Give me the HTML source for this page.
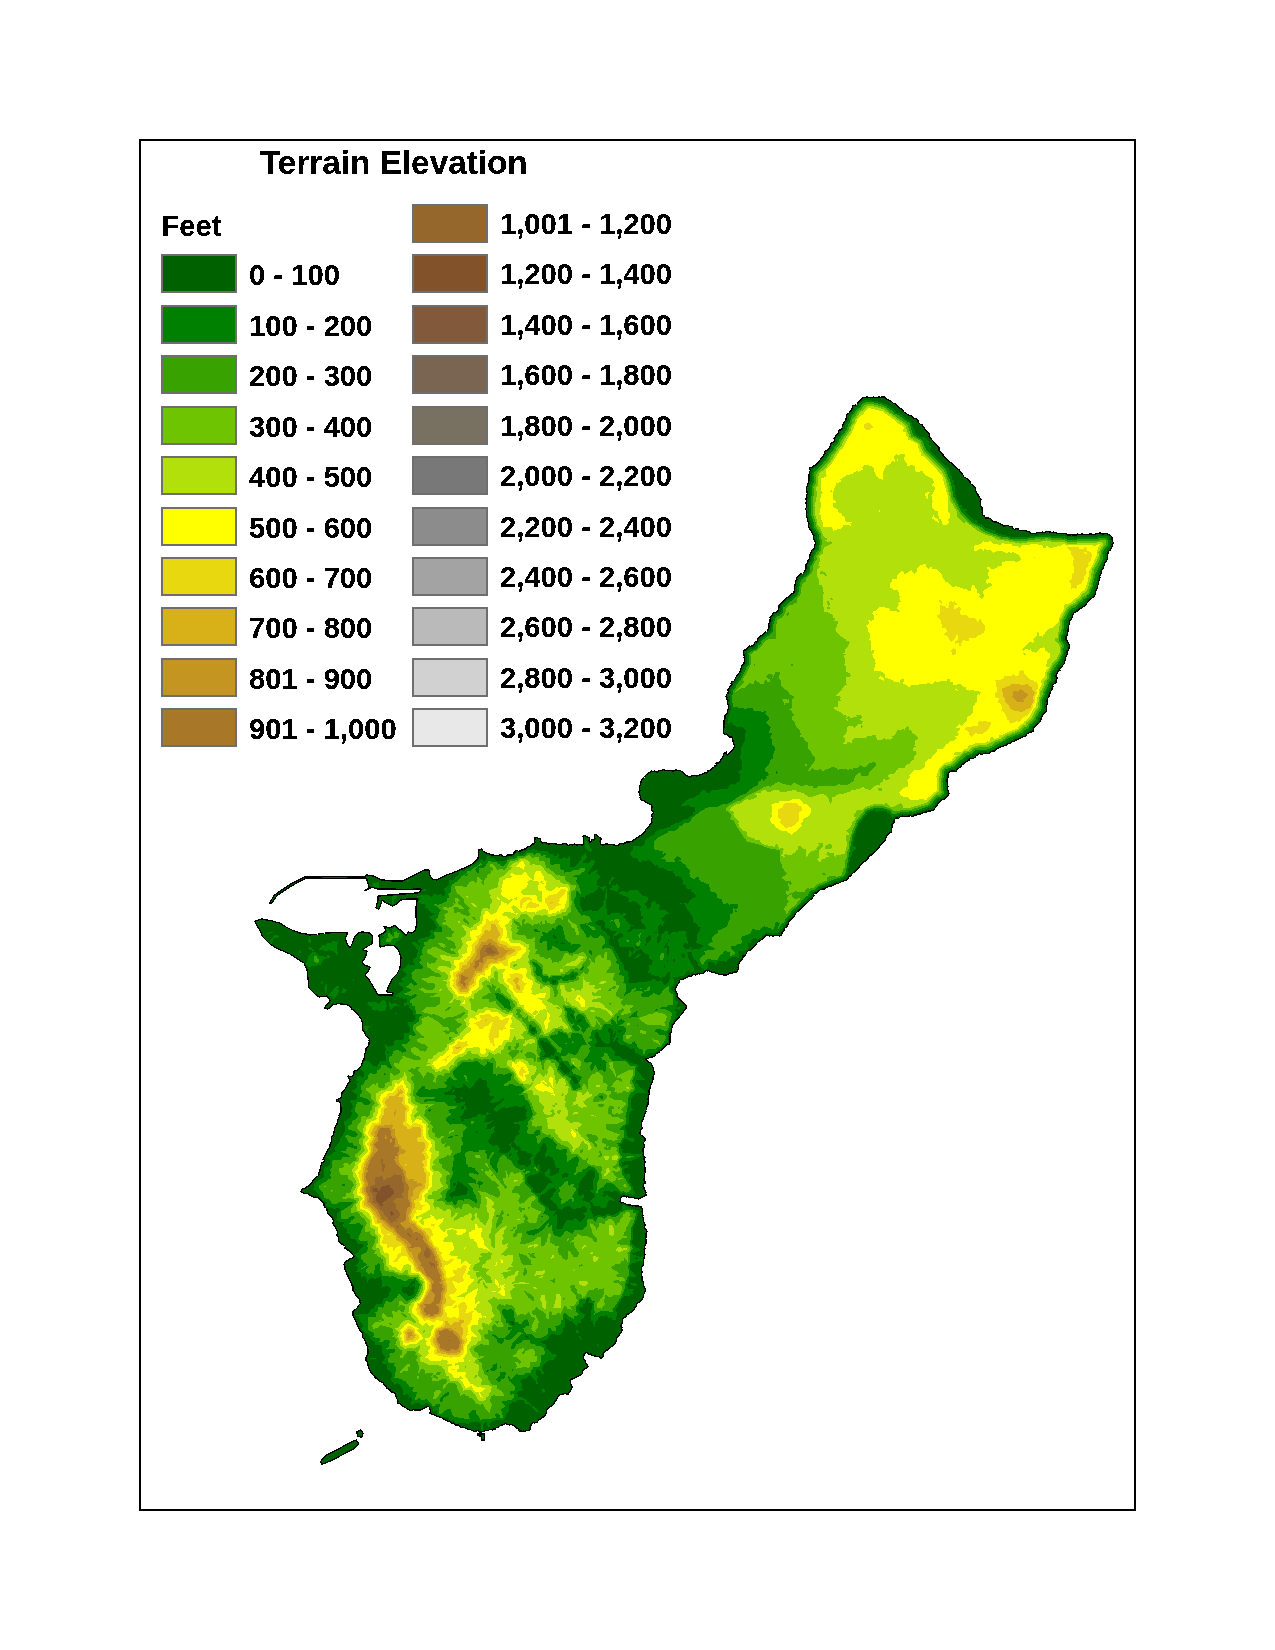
<!DOCTYPE html>
<html><head><meta charset="utf-8"><title>Terrain Elevation</title>
<style>
html,body{margin:0;padding:0;background:#fff;}
body{width:1275px;height:1650px;overflow:hidden;position:relative;font-family:"Liberation Sans",sans-serif;}
svg{position:absolute;left:0;top:0;display:block;}
.t{font-family:"Liberation Sans",sans-serif;font-weight:bold;fill:#000;}
</style></head><body>
<svg width="1275" height="1650" viewBox="0 0 1275 1650">
<rect x="0" y="0" width="1275" height="1650" fill="#fff"/>
<rect x="140" y="140" width="995" height="1370" fill="#fff" stroke="#000" stroke-width="2"/>
<g id="map">
<g shape-rendering="crispEdges">
<path stroke="#000" stroke-width="1.3" stroke-linejoin="round" fill="#006100" fill-rule="evenodd" d="M1111,536 1106.5,533.5 1102.5,534 1101,533 1096,533.5 1095,534.5 1092.5,534.5 1092,534 1089,534 1088.5,534.5 1083.5,534.5 1083,534 1081.5,534 1081,534.5 1078.5,534.5 1077.5,534 1076.5,535 1072.5,535 1072,534.5 1071,535 1067.5,535 1065.5,533.5 1063.5,533.5 1063,534 1061,533 1060.5,533.5 1057,533.5 1056,532.5 1054.5,532.5 1054,532 1051,532.5 1050.5,532 1046.5,531.5 1044.5,532.5 1042,532 1041.5,532.5 1038.5,532.5 1035,533.5 1034,533 1033.5,533.5 1031,533.5 1030.5,532.5 1025,530.5 1023.5,530.5 1023,531 1022.5,530.5 1020,530.5 1019,530 1018.5,529 1017,529 1016.5,528.5 1015,529.5 1013,528.5 1012.5,527 1011,526 1010,526.5 1007,525 1006,526 1005.5,525.5 1004,526.5 1002.5,524.5 1000,524 997,522 994.5,522 992.5,521 991,519 989,518 985.5,518 984.5,516 982.5,515 982,512 982.5,511.5 982,509 982.5,507.5 981,507 980.5,502 980,501.5 981,499.5 979,496.5 978,496 978,494.5 975.5,491 975.5,488 972.5,484.5 972,485 970,483 970,481 967,478.5 964,477 962.5,474 959.5,471 959.5,470 958,469.5 951,462.5 950,462.5 943,455.5 943.5,455 942.5,453.5 939,451 939,447.5 937,446 936.5,444.5 936,444.5 929,436.5 929.5,435 928.5,432.5 928,432.5 926.5,430.5 925,430 924,427.5 922.5,426 922.5,425 922,424.5 920.5,424.5 918,422 918,420.5 917,419 914,418.5 912.5,417.5 911.5,416 908.5,415 904,412 902.5,409.5 900,408 899,408 895.5,404 894.5,403.5 894,404 891.5,401.5 889,400 888,400 884.5,397 881.5,397 881,397.5 880,397 878,397 877.5,397.5 875.5,397.5 875,397 874.5,397.5 873.5,397 872.5,397.5 866,397 865.5,397.5 863.5,397.5 857,403 857.5,403.5 856.5,404.5 852.5,406 852.5,408 849,413 846.5,415 846,420 844.5,421.5 843,424.5 842.5,427.5 840.5,430 840,429.5 840,430 839,430.5 838,434 837,434.5 834,438.5 834.5,439 834,441.5 830.5,444 830,447 827,450.5 826,450.5 824.5,452.5 825,453.5 823.5,455 823,457 820,459 820.5,459.5 817,463.5 814.5,465.5 814,465 812,467.5 810,467.5 809.5,468 809.5,469 810.5,470.5 809.5,471.5 809.5,473.5 809,474 809,481 806.5,487.5 807,493 807.5,493.5 806.5,495 807,498 806,498.5 806.5,501.5 806,502 806.5,507 805.5,509 806.5,511 806.5,517 807.5,518 807.5,520.5 809,523.5 808.5,526.5 812.5,533.5 812.5,534.5 814,535 813.5,538 814.5,541 815.5,542 815,543 815.5,544 814.5,545.5 814.5,548 811.5,550.5 811.5,552 810,554.5 809.5,559 808.5,559.5 807.5,562.5 806,564.5 806,566.5 805.5,567 806,567.5 806,569 804,572 802.5,573.5 800.5,574 796.5,578.5 797,579.5 795.5,581.5 794,592.5 790.5,595 788.5,597.5 787.5,597.5 783.5,600.5 783.5,601 779,605 779,607.5 778.5,608 779,609 776.5,612 773,613 772,615.5 770,617 770.5,618.5 770,619 770,621.5 768.5,624.5 769,625 769,627 768,630 766.5,631.5 765,632 763,634.5 760,636.5 757.5,639 757,640 757.5,641 756.5,642 756,641.5 755,642 754,644.5 752.5,645.5 752,646.5 751.5,646 751,646.5 749,646 746.5,649.5 745.5,650 745,649.5 743.5,650.5 744,656 744.5,656.5 744,657.5 744.5,658 744.5,661.5 744,662 744.5,662.5 743.5,663 744,663.5 742.5,664.5 741.5,666.5 742,667 740.5,669.5 740,672 738.5,673.5 738,675 736.5,676 734,681 733,682 732.5,681.5 731.5,682 731,683.5 732,684.5 730.5,686.5 729.5,686.5 729,688.5 728,689 728,691 728.5,691.5 728,692 728,693.5 727,694 726,696.5 727,697 726.5,698.5 727,700 728,700.5 727.5,703 728.5,706 728.5,709 727,711 727.5,711.5 727,714 725.5,714.5 725,716 725,718.5 724,721 724,724.5 723.5,725 724,726 723.5,732 724.5,734.5 726.5,734 728.5,735.5 729.5,737.5 730.5,737 732,737 732.5,737.5 733,741.5 734.5,746 733.5,749.5 731.5,751 729,754 728,754 727.5,755 726.5,754 726.5,751.5 725.5,753 724,753 723.5,756 720,761.5 718.5,763 716.5,763 716,763.5 716.5,765 715,766.5 714.5,766 714,767 710,770.5 708,770.5 708,771.5 707,772 707.5,772.5 707,773 705.5,772.5 703,773.5 702.5,774.5 702,774 701,774.5 700,774 699.5,775 697,776 693,775.5 689.5,777 687,775.5 686,775.5 680.5,770.5 675.5,770 674,771 672.5,771 672,770.5 665.5,770.5 664,769.5 663,769.5 661.5,770.5 658.5,770.5 658,772 656,772 655,771 652.5,771.5 651.5,770.5 650,772.5 648.5,773 645.5,775.5 644.5,777.5 643,778 641,781 641.5,782.5 640.5,783 640.5,784.5 639.5,787 639.5,789.5 640,790.5 638.5,791.5 640.5,796.5 640,797 640.5,799 641,799 641.5,800 644,800.5 644.5,801.5 647,802.5 647.5,803.5 649,803.5 651.5,805 652,806.5 651.5,810 653,811.5 653.5,813 651.5,815.5 652.5,817.5 651.5,819.5 652,822.5 650.5,823.5 648.5,827 645.5,829.5 645.5,830.5 643.5,833.5 631,842 630.5,841.5 630,842 626.5,842 625.5,843 624,843 623.5,844 621,843.5 619.5,844 618.5,845.5 615.5,845.5 612.5,844.5 608,844.5 607.5,844 605.5,844 604,845 602,845 600.5,844 600,841 601,839.5 601,838.5 595.5,834.5 595,834.5 594.5,835.5 595,838.5 593.5,840 593,839.5 591.5,840 591.5,841 590,843 589,842 589.5,841 589,840.5 589.5,840 589,837.5 584,835.5 583,836.5 583.5,837.5 583.5,842.5 584,843 583,845 581,845 580.5,844.5 576.5,845 575,844 574,844 572.5,845 571,844.5 568,845.5 566,843.5 563.5,843.5 561.5,844.5 555.5,844 555,843.5 548.5,844 545.5,842.5 542.5,843 541.5,841.5 540.5,841 540,838.5 535,837.5 535,840 534.5,840.5 535,843 534,844 532.5,844 531,846 528,846.5 526.5,848.5 520.5,850.5 520,851.5 519.5,851 518.5,851.5 517.5,850.5 516.5,850.5 514.5,852 515,852.5 514.5,853 513.5,853 513,854.5 512,855 507.5,855 505.5,856.5 502,856 501.5,854.5 500.5,854.5 499,855.5 491.5,855 490,854 485,852.5 483,851 481.5,849 479,849.5 479,851 478,852 478.5,853 478,859 471.5,864.5 462.5,869 461.5,869 460,870 459,870 457.5,871 444,876 436.5,880 433.5,879.5 431.5,878.5 430,875.5 429,870 424,870 402.5,881 391.5,881 391,880.5 381.5,880 373.5,876 368.5,875.5 368,875 366.5,875 365.5,876.5 304.5,877 290,884.5 274.5,895 269.5,903 271.5,903.5 277,895.5 290.5,886.5 305,878.5 366,878 367,879 367,880.5 369.5,887.5 364,891 371.5,887.5 373,887.5 377.5,889 396,889 396.5,889.5 420.5,889 421,889.5 420.5,890 420.5,891.5 418,893 406,893.5 405.5,894 399.5,894 399,894.5 393.5,894.5 393,895 387.5,895 387,895.5 378,896 378,900.5 377.5,901 376,908 379,909 382,900.5 383,900.5 386,903 392.5,906 397,904 400,900 406,899.5 406.5,899 417.5,899 418,899.5 417,900 416.5,905.5 416,906 416,917.5 416.5,918 417,923 416.5,923.5 415.5,930 412,933 408,932 406.5,935 405.5,935.5 401.5,930.5 397.5,928.5 395,925 390,928 384,926.5 386,931 383,933.5 379,935 380,947 387,945.5 387.5,945 395,946 399,951 401,957.5 400,968 397,974 392.5,978.5 389,985 387,991 387,992 392.5,993 393,993.5 392.5,995 378,995 369.5,980.5 365,975 369,970 370,967 364,965 362,962 365.5,957 367,951 363.5,950.5 363,949.5 367,946.5 372,944 372.5,936 370,933 364.5,932.5 364,932 361.5,932 358,933 354,938 352.5,943 350.5,947 349.5,947.5 346.5,943 346.5,941.5 345.5,939 345.5,937.5 348,933 346.5,933 346,932.5 330.5,932.5 330,933 325,933 324.5,933.5 318,934 317.5,934.5 309,935 308.5,934.5 299.5,933 298,932 293,930.5 285,926.5 279,922.5 277.5,922.5 271,920.5 266.5,920 266,919.5 263.5,919.5 263,919 261.5,919 255,921 256.5,925 260.5,931 262,936 270.5,944.5 280,950 281,950 290,954 304,963 307,969.5 309,988 315,994 319,997 327,996 330,1000 329,1003 326,1005 325.5,1007 324.5,1008 327.5,1009 329,1008 330,1008 332,1005 337,1004 337.5,1003.5 346,1004.5 349.5,1006 351.5,1008 351.5,1009 353.5,1009.5 361.5,1019 361.5,1021 362.5,1022.5 362,1023 362.5,1023.5 362.5,1030 365,1033 365.5,1035.5 366.5,1036.5 367.5,1036.5 370,1040 369,1040.5 369.5,1041.5 369,1042.5 369,1045 366,1048.5 366,1050.5 365.5,1051 366,1052 364.5,1054.5 364,1059.5 363,1060.5 362.5,1063.5 361.5,1064 361.5,1065.5 357.5,1070 355,1070.5 354,1071.5 354,1074 352.5,1076.5 348,1076 349,1078.5 350,1079.5 349.5,1080.5 350,1081.5 347.5,1084.5 344.5,1090 342,1092.5 341.5,1097 340,1098.5 336,1100 336.5,1101 338,1101.5 338.5,1101 340,1102 340.5,1106.5 341,1107 341,1112.5 340,1113.5 340,1114.5 339,1115 339.5,1117 337.5,1120 337,1124.5 335,1127 333.5,1134.5 331.5,1137 331.5,1141.5 330,1144.5 330,1147 329.5,1147.5 330,1148 328,1149.5 325.5,1155 324.5,1155.5 324.5,1157 323,1159.5 323.5,1159 324.5,1160.5 323.5,1162 322,1162.5 321.5,1165 320.5,1166.5 320,1171 318.5,1173 319,1174.5 318.5,1175.5 314,1179.5 309.5,1185.5 307,1186.5 304.5,1188.5 302.5,1189 301,1191.5 305,1194 306,1193.5 307,1194 307.5,1193.5 308.5,1194 309.5,1195.5 313,1196.5 314.5,1197.5 315,1197 318,1197.5 322,1201 322.5,1202.5 324,1203.5 324,1205.5 325,1207.5 326,1208 327,1209.5 327,1211 328,1212 327.5,1213 329,1215 330,1215 330.5,1216 331.5,1216.5 334,1221 333,1222.5 333,1224 335.5,1227 336,1229 337,1230 337.5,1231.5 337,1236 338.5,1237 338.5,1240.5 340.5,1243.5 342,1244.5 342.5,1244 345,1246 345.5,1247 344.5,1248 345,1247.5 347.5,1250 348.5,1250 354,1256 353.5,1257.5 352,1258.5 350.5,1258.5 345.5,1262 344,1264 344,1265 345,1266.5 345,1270 346,1271.5 347,1275 348,1275.5 348,1277 352,1284.5 352,1285.5 353,1286.5 353,1290.5 354.5,1291.5 354.5,1292.5 356.5,1296 359,1298 360,1301 359.5,1302 360.5,1303.5 358.5,1305.5 357.5,1307.5 355.5,1309.5 354.5,1309.5 353,1311.5 353,1316 354,1317 354,1318 356.5,1322 356.5,1323.5 359.5,1329.5 362.5,1333 362.5,1335.5 363,1336 362.5,1337 363,1338 364.5,1339 366,1342.5 365.5,1343.5 366,1343.5 366.5,1345 368,1346 367.5,1347.5 368,1348 367.5,1348.5 368,1349.5 368,1353.5 366,1357 366,1360.5 367.5,1362.5 368.5,1367 371,1372.5 373,1375 375,1376.5 375,1377.5 376,1378.5 376.5,1378 381,1382 383,1382.5 383.5,1384 386,1386 387,1388.5 390,1389.5 390,1391 391,1392 393,1392 395,1393.5 396.5,1398.5 398,1400 397.5,1400.5 398,1401.5 397.5,1403 398,1403.5 400.5,1404 401.5,1405.5 410.5,1410.5 411.5,1410.5 413,1409.5 414.5,1410 420.5,1410 422,1409 423,1409 424,1408 426.5,1407.5 426.5,1407 428,1406 429.5,1407.5 429.5,1408.5 430.5,1410 430,1413.5 432.5,1414.5 434,1414.5 435,1415.5 441.5,1417.5 442.5,1418.5 448.5,1421.5 449,1421 450.5,1421.5 451.5,1423 452.5,1423.5 453.5,1423 455.5,1425 458.5,1425 461.5,1427.5 462.5,1427 465,1427.5 467,1429 470.5,1429.5 471.5,1430.5 473,1430.5 474,1431.5 478,1430.5 478.5,1431.5 479.5,1432 481.5,1432 482,1431.5 483.5,1431.5 486,1430 487,1430.5 488.5,1430.5 489.5,1429.5 492,1429.5 492.5,1430 493,1429 495.5,1429 496,1428 499.5,1426.5 501,1425 502.5,1425 505,1423.5 509.5,1425 511,1424.5 514,1425.5 514.5,1426.5 519,1429.5 518.5,1430 519,1431 520,1431.5 520.5,1430.5 522.5,1431.5 523,1431 525,1431.5 526,1430.5 530,1430 530.5,1428.5 530,1427 531,1425.5 531,1424.5 533.5,1422.5 534.5,1423 537.5,1422 538.5,1420 541,1419 542.5,1417 543.5,1417 543.5,1416.5 545.5,1415 546.5,1412.5 546.5,1410 547.5,1408.5 553,1405 555,1401.5 556.5,1400 557.5,1397 559,1395 562.5,1394 563.5,1394.5 564,1393.5 566,1393.5 566.5,1394 567,1393.5 568,1394.5 569,1394 568.5,1393 570.5,1391 570.5,1390 572,1388 572,1386.5 571,1385 570,1380 571,1379 572.5,1379 577,1376.5 578,1377 579,1375.5 581,1375 582.5,1373.5 582.5,1371 584.5,1368.5 586,1368.5 588.5,1366.5 586,1363.5 585.5,1361.5 583.5,1358.5 584,1354.5 586,1352 589.5,1354.5 590.5,1354 591.5,1355 594,1356 599,1356.5 600,1358 601.5,1358.5 602,1357.5 603.5,1356.5 603,1356 603.5,1355.5 603,1354.5 603.5,1353 604.5,1352.5 607,1349.5 607.5,1350 609.5,1347.5 610.5,1347.5 612,1346 613.5,1345.5 617,1340 616.5,1339.5 617,1339 616.5,1338 619,1336 619.5,1334 622,1331 622,1329.5 621.5,1329 622,1327.5 621.5,1327.5 620.5,1326 622,1324 623,1318.5 625.5,1317 627.5,1314 629,1314 634.5,1309 635,1307 636.5,1306 636.5,1304 637.5,1302.5 638.5,1302.5 641.5,1300.5 641.5,1299.5 642.5,1299 642.5,1297.5 643.5,1297 643.5,1294.5 644.5,1293.5 644.5,1292.5 645.5,1291 645.5,1289.5 644,1287 643,1281.5 642,1281 642,1277.5 642.5,1277 641.5,1276 641.5,1273.5 642,1273 641.5,1266.5 643.5,1265 644,1257.5 645,1255 644,1249.5 645,1248.5 644.5,1246 646,1244 646,1240 645.5,1238.5 646,1238 646,1233 647,1231.5 646.5,1229.5 645.5,1229.5 644.5,1228 645,1224.5 643.5,1221 643.5,1218.5 642.5,1217 643,1216 642.5,1212.5 642,1212 642.5,1208.5 641.5,1208 641.5,1206.5 640.5,1207 639,1206 635.5,1206 635,1205.5 632.5,1206 630.5,1205 628,1205 623,1202.5 621,1203 620,1202 621,1197.5 623,1196 624.5,1196 626.5,1197 628,1196.5 629.5,1197.5 633.5,1197.5 635,1198.5 639,1199 646.5,1195 646.5,1194.5 645.5,1194 646,1193 645.5,1191 644.5,1190.5 644,1187.5 643,1186.5 643.5,1184 645,1183.5 645,1181.5 644,1180.5 644,1178.5 644.5,1178 644.5,1173.5 645.5,1172.5 645,1171.5 645,1167.5 644.5,1167 645,1161.5 644,1160 644,1158 645,1157.5 645,1157 643.5,1156 643,1154.5 643.5,1153 643,1152 643,1148.5 644.5,1146.5 643.5,1142.5 645,1141 645,1138 643.5,1137.5 642.5,1136 641,1135 640,1133.5 640,1132 640.5,1131.5 640.5,1130 642.5,1128 641.5,1126 642,1120.5 643,1120 643.5,1117.5 646.5,1110.5 647,1105 648.5,1104.5 648,1103 648.5,1101.5 648,1098.5 648.5,1098 648.5,1095.5 649.5,1093 649,1092.5 649,1090.5 650,1088.5 650.5,1085 651.5,1084 653,1079.5 653,1076 654.5,1073.5 654.5,1072.5 653.5,1071 653.5,1068 651.5,1065 651.5,1063.5 650.5,1062.5 648.5,1062.5 648,1061 646.5,1060 645.5,1058.5 646,1058 647,1058.5 648,1058 648.5,1058.5 649.5,1057.5 652.5,1057 654.5,1056 656,1054 658,1052.5 659,1052.5 659.5,1051.5 665.5,1046.5 667.5,1044 669.5,1044.5 669.5,1043 670,1042.5 670,1036 670.5,1035.5 670,1035 670,1033.5 671.5,1032.5 671.5,1030.5 671,1030 672.5,1027 672,1026.5 672.5,1024.5 673.5,1024 675,1021.5 677.5,1019.5 679.5,1016.5 682,1014 682.5,1012.5 683.5,1012 684.5,1009.5 686,1008.5 686,1007 686.5,1006.5 685,1004.5 681,1001 681,1000 680,999 679,999 678.5,998 677.5,997.5 677,996 677.5,995 675,989 679.5,981.5 679.5,980.5 680.5,979.5 682.5,979.5 686,977.5 687,977.5 688.5,976 691.5,976.5 693,974.5 695,974.5 695.5,975 698,973.5 699.5,974 700,973.5 704,973 706,970.5 707.5,971 708.5,970.5 713,972.5 714.5,972 715.5,972.5 716,973.5 718,973.5 719,974.5 722.5,974.5 723,975 727,975 729.5,973 731,973 731.5,973.5 734.5,972 736.5,972 738.5,968.5 738,967 739,966 738,964.5 739,963 739.5,963.5 740,963 739.5,962 742,959 742.5,959.5 742.5,958.5 743.5,957.5 742.5,957 742.5,956 743,955.5 744,956.5 746.5,953.5 746.5,952.5 748.5,950.5 750.5,950 758.5,941.5 763.5,938.5 766.5,935 769.5,936 770,935.5 771.5,935.5 772,936 778.5,935.5 779.5,936 781.5,935 782,934 781.5,932.5 784,930.5 784,929 785.5,927.5 787,927 787,925.5 788.5,923.5 788.5,922 791.5,919.5 791.5,918.5 794,916.5 795,915 795,914 797.5,911.5 798.5,911.5 805,904 806,904 810.5,899.5 812,899 812,898 814,896 813.5,894.5 815,893 816.5,893 820,890 822.5,889 824.5,889 825,888 826,888 829,886 831,886 834,885 834.5,884 835,884.5 835.5,883.5 837,883 838,883.5 842,881.5 843,882 843.5,881 846.5,880 848.5,878 848.5,877 849.5,876 850.5,876 852,874 859.5,867 859.5,866 863.5,862 865,861.5 868,858.5 867.5,858 870.5,855 871.5,855 876,851 883.5,841.5 885.5,840 886,837 889,833 891,832.5 891.5,831.5 891.5,828 892.5,826.5 892,825 892.5,823.5 894,822.5 894,820 896,818 898,818 898.5,818.5 900.5,816.5 902,816.5 902.5,816 903,816.5 907.5,816.5 910.5,815.5 911.5,816.5 912.5,816.5 914.5,815 916.5,815 917,814 918.5,814 919,813.5 919.5,814 921,814 923,812.5 924.5,812.5 929,811 930.5,811.5 931,810.5 933.5,810 939,802.5 941.5,800 944.5,799 946,797 947,797 949,793.5 947.5,789 948,786.5 947.5,786 947,779.5 948,778 948,774.5 949.5,772 951.5,771 954.5,771 955,771.5 956.5,771 956.5,770 961.5,766 961.5,765 962.5,764 963.5,764 966.5,761.5 969,760.5 968.5,760 970,758.5 973,758.5 975,757.5 976,756 979.5,753.5 982,754.5 985,753 989,753.5 991,751.5 992,751 994.5,751 996,749.5 999.5,747.5 1005,745.5 1006.5,745.5 1008,743.5 1009,744 1012,741.5 1014.5,741 1015.5,740 1017,740 1023,736.5 1024.5,736.5 1025.5,736 1027,734 1030,732 1030.5,732.5 1031,731.5 1031.5,732 1033.5,731 1033,730.5 1033.5,730 1033,729 1034.5,727 1039.5,722.5 1041,719.5 1040.5,719 1043,714.5 1046.5,711.5 1046.5,709.5 1046,709 1046.5,708 1046,707 1047.5,703.5 1047,700.5 1048,698 1049,697 1049,695 1049.5,694.5 1049,694 1050,693.5 1050,692.5 1052,689.5 1052,688 1053,686.5 1052.5,686 1053,684.5 1056,683 1056,680 1057,678.5 1056.5,678 1057,677.5 1056,676.5 1056,675 1057,674 1057.5,672 1059.5,670 1060,670.5 1059.5,670 1059.5,668.5 1061.5,667.5 1062,666 1064,664 1064.5,663 1064,662 1065,660.5 1065.5,658 1067.5,653.5 1067,653 1067,651 1068,650.5 1069,649 1069,647.5 1070,647 1067,640.5 1066,639.5 1066,636.5 1067.5,634.5 1067.5,632 1068.5,631.5 1068,630.5 1068.5,626 1070,623 1069,622 1070.5,619.5 1071.5,619 1073.5,613.5 1076.5,611 1077.5,611 1079.5,609 1081,608.5 1083,606 1083.5,606.5 1084.5,606 1087.5,602.5 1087.5,601.5 1094,596.5 1095.5,593.5 1095.5,592 1097.5,587.5 1097.5,585.5 1098.5,584.5 1098.5,582 1100,577.5 1099.5,577 1101.5,572.5 1101,571 1103,568.5 1104.5,563.5 1106.5,561 1107.5,558 1107.5,555.5 1107,555 1108,553.5 1108,552.5 1109,551 1110,550.5 1112.5,545.5 1112,544.5 1113.5,543 1112,540 1112,537.5Z"/>
<path d="M320.3,1461.7 326.3,1455.3 338.3,1449.0 350.0,1442.7 356.3,1440.0 358.7,1443.7 353.7,1448.7 342.0,1455.0 330.3,1461.0 322.0,1464.3Z" fill="#006100" stroke="#000" stroke-width="1.3" stroke-linejoin="round"/>
<path d="M356.7,1431.7 361.0,1430.0 363.0,1433.3 361.7,1437.3 357.7,1436.0Z" fill="#006100" stroke="#000" stroke-width="1.3" stroke-linejoin="round"/>
<path d="M477.7,1434.0 484.3,1434.0 484.3,1440.0 481.7,1440.0 481.7,1436.3 477.7,1435.7Z" fill="#006100" stroke="#000" stroke-width="1.3" stroke-linejoin="round"/>
<path fill="#008000" fill-rule="evenodd" d="M541.5,1389 541,1390 542,1390.5 542.5,1393 545,1391.5 544,1389ZM370,1358.5 375.5,1359 376,1358ZM597.5,1343.5 597,1345 599.5,1348.5ZM578.5,1335.5 580,1339 581.5,1339.5 580.5,1337ZM576.5,1329.5 575.5,1333 577.5,1333.5 579,1332.5 579,1331ZM460,1097.5 460.5,1098.5 463,1098.5 462,1097ZM453,1089 452,1092.5 453,1092.5 454.5,1090.5ZM364.5,1031 365,1031.5 367.5,1030 369,1027.5 371.5,1027 372,1025.5 370.5,1027 368,1025.5 364.5,1025.5 364,1027.5 365.5,1029ZM394.5,1013 395,1014.5 397.5,1014 396.5,1012.5ZM389,1006.5 390.5,1009.5 394.5,1006 398,1006 399.5,1005 398.5,1005.5 394,1002.5 391,1004.5 389.5,1001.5ZM387,1007 385.5,1001.5 384,999.5 382.5,999.5 379,1004 375.5,1001.5 369.5,1002.5 369.5,1001.5 367,1003.5 372.5,1008 371.5,1010 374,1010 375,1011 377.5,1010 380.5,1012 382,1010.5 385,1011.5 386,1007.5ZM394,998.5 394.5,1000 396.5,1000 395.5,998.5ZM346,989.5 343.5,988 341.5,992.5 345,992.5 346.5,990.5ZM338,986 335.5,986.5 328.5,995.5 328.5,996.5 331.5,996 333,999.5 336,997 339,991 338,989.5 339,987ZM326.5,984 324,987.5 325.5,993 327,990ZM324,980.5 321.5,982 320.5,984 322,983.5ZM354,978.5 352.5,979 353,983ZM640.5,953.5 639,953.5 633,959 637,958 641,954.5ZM299,949.5 298.5,952 300,954 301,951.5ZM306,965 308,967 320.5,965 322.5,961 325.5,958 327,959.5 327,957.5 330,957.5 330,956.5 329,956 329,954.5 327.5,954.5 326.5,957 324.5,957 322,955.5 320,956.5 310,946 308.5,948.5 312.5,951 314.5,950.5 315,951.5 312,952 308.5,955.5ZM339.5,939 336,942 333,940.5 331,943.5 327,943 325.5,945.5 322.5,945 319,949.5 326,951 330.5,950 331,951.5 333.5,951 336.5,954.5 338,953 336.5,950 336.5,946ZM309,936 308,941.5 310,944 311,942 310,937ZM277,935 274.5,935 270,941 271,943.5 272,944 273.5,938.5 275.5,937.5 277,938 279,936.5ZM272.5,932.5 270,931.5 269.5,932.5 267.5,932.5 266.5,933.5 268,934ZM403,934 394.5,926.5 392.5,928.5 391.5,933.5 386,928 387,931.5 383,934.5 384,938 380.5,939 381.5,940.5 380.5,942.5 381,945.5 387,944 394.5,945 396,941.5 398,941 401.5,938ZM679.5,905 683,903 680,902.5ZM397.5,895.5 391.5,896 392.5,904.5 394,904 394,899.5 397,898ZM426,889 424.5,888.5 422.5,890.5 425.5,891ZM620,885.5 618.5,885.5 617,883 615,886 612.5,885 611.5,888 609,889 617,892ZM379.5,882 379,881.5 375.5,883 374,882.5 371.5,886.5 373.5,885.5 374.5,887 379,888ZM409,880 407,880.5 406.5,882 408,882ZM614,876.5 612.5,877 609,881.5 609.5,884.5 611,884 611.5,881 613.5,879ZM586,839 584.5,841 584.5,845.5 586,849 587.5,850.5 590,850.5 591,853 592,850 590.5,848 591.5,847.5 590.5,847.5 588,844.5 588,842.5 587,842ZM1108.5,537.5 1105.5,535.5 1104,536.5 1100,535.5 1097,537 1081.5,536.5 1075,538 1072,537 1067.5,537.5 1065,536 1063,536.5 1061,535.5 1051,536 1047,534.5 1021.5,537.5 1020,536.5 1012.5,537 998,533.5 995.5,532 994.5,529.5 992,530 985,527.5 982,524.5 978.5,523.5 976.5,520.5 975,520 974,521 972.5,518 971.5,518 964.5,511.5 966.5,510.5 966.5,509 963.5,509 961.5,507 961.5,505 959.5,504.5 958.5,501 956,497.5 956,494.5 954.5,492 955.5,485.5 953,484 954.5,481 952.5,479.5 952,476.5 950,475 950.5,471 947.5,467 944,465 930,450.5 931,446.5 928.5,444 928.5,441.5 924.5,437.5 919,436.5 915,433 915,431 912,425.5 911,421.5 904,417 901.5,414 896.5,412.5 893.5,409 885.5,403.5 876,401 874.5,401.5 869,399.5 864.5,400 859.5,403.5 858,406.5 855,407.5 855,409 851.5,414.5 849,416 848.5,421 845.5,425.5 845,428.5 841,432.5 840.5,435 836.5,438.5 836.5,442.5 832,445.5 832.5,448 828.5,452.5 827.5,452.5 827.5,454.5 820.5,463.5 813,469.5 813,471.5 812,472.5 811.5,482 809.5,486.5 809.5,491.5 810.5,493 808.5,503 809,516 811.5,522.5 811.5,526.5 816.5,534 816.5,538.5 818,541 818,545 817,546.5 817,549 814,551.5 812,560 808.5,565.5 808.5,570 805,574.5 799.5,579 798,582.5 797,591.5 790,599.5 788,600 781.5,606 781.5,610 779,614 775,615 773,618 771,630.5 760,640 759,642.5 756.5,644 756.5,645.5 753.5,648.5 751.5,648.5 746.5,652 747,663.5 744.5,666.5 740,677 731,690 731,693 729.5,695.5 731,710 727.5,720 728,721 726.5,722.5 728.5,724.5 730,724.5 729.5,723.5 731.5,722 732.5,724.5 737,727.5 740.5,726.5 743,727.5 745.5,730 745.5,733 744.5,734 744.5,741 741,748.5 741.5,753.5 740.5,754.5 740,758.5 742,760.5 742,764 741,766 742,767 742,769 738.5,771.5 739,773.5 740.5,774.5 739.5,781.5 736.5,782.5 734.5,785 732.5,783.5 729.5,785 727,789.5 720,789 718,790.5 713,790 710.5,791 710,792.5 706.5,792.5 705,790.5 702.5,789.5 699,794.5 693,798 692.5,797.5 686.5,800 681,806 681.5,807 684,805.5 686.5,806 688,805 690,806.5 694,806.5 695,807.5 695,812 692.5,812.5 692.5,815 687,819 685,819 679,822.5 676.5,822.5 669,827 660,829.5 655.5,832 654,834.5 646,839 644.5,842 645,844 640.5,847 637.5,845.5 633.5,846 632.5,850 630,853.5 630,855 633,858 634.5,857.5 637,858.5 638.5,861.5 642,862 641.5,861 642.5,860 643,861 646.5,861 649,859.5 655,866 657.5,865 659,868.5 662,868 665.5,869 667,870.5 672.5,871 676,877 678.5,876 681,877.5 683,881 682.5,883.5 686,885.5 686.5,888 688,889 690.5,888.5 691.5,889.5 690.5,891 696,895 696.5,896 691,899 687.5,904 686,903 684,903 684,904 685,904 686,907.5 692.5,916.5 693.5,922 697.5,924.5 697.5,927 700.5,927.5 699.5,931 697,934.5 697,940 695.5,942 698.5,944 702.5,945 703,946.5 699,949 692.5,948.5 690,947 690.5,948.5 693.5,949 692.5,950 689,948.5 684.5,948.5 683,946.5 684,943 685.5,942.5 688,944.5 688,941.5 687,940 687.5,938.5 686,936 686.5,932.5 685.5,931.5 678.5,931 678,933.5 675,931.5 672,932 669.5,935 668,933.5 667.5,930.5 665,931.5 661.5,935 661,939 659.5,942 657.5,943 656.5,942 657,937.5 661.5,933.5 659,934 657.5,933 658.5,926 660,924 662.5,925.5 665,921.5 664,920.5 661.5,920.5 661.5,918.5 666.5,914 668.5,914 668.5,913 665.5,910 659.5,910 659,907.5 660.5,905 656.5,904 654.5,900.5 651.5,903 650.5,907 649,908.5 647,908.5 645,904 648,900 647.5,897 641.5,895 641,893 637.5,890 632.5,889.5 627,892 622.5,891 618,893 629,898 629.5,899 628,902.5 634.5,901 637,902.5 641.5,907.5 639.5,909 639.5,910.5 641,911.5 640.5,915.5 642.5,915.5 643.5,918 642.5,919 641.5,918.5 641,922 643.5,923.5 646.5,929 633.5,928.5 631.5,931 628,932.5 627,931 630.5,928 630,926 634,926 633,925 629.5,924.5 627,922 626,919 623,918 623,917 626.5,914 626,912.5 624,912.5 622,914.5 620.5,914.5 619,913 612.5,913.5 611.5,912.5 609.5,915 608.5,915 607,913.5 606,903.5 607.5,891 607,889.5 605,888.5 606.5,886 605,885.5 602.5,887 597.5,886 596.5,884 597.5,880.5 600,877.5 598.5,874.5 596.5,873.5 598,870 596,870 591.5,872.5 590,874.5 587.5,874 594.5,863.5 595,861 591.5,859.5 589.5,862.5 583,863 583,861 587,857 586,855.5 586,852.5 582,857 580.5,857 580.5,859.5 577,865 574.5,867 570,866.5 570,855.5 567,859 564.5,857 561,859 558.5,857.5 559.5,855 558,853 557,854.5 557.5,855 555,856.5 552.5,854 549.5,854 548,850.5 543,851.5 542,850.5 538,850.5 537.5,849.5 536,850.5 534.5,849 526,851 522.5,854.5 520,854.5 516.5,853 513.5,857 508.5,857.5 505,861 501.5,861.5 499.5,860.5 495.5,860.5 492.5,857.5 490.5,857.5 489.5,856 488,856 486.5,857 485.5,860.5 484,861 481,858.5 480.5,860 473.5,866 471,866 469,868.5 467.5,868.5 464,871 459.5,871.5 458.5,875 455.5,877 454,879.5 450.5,880.5 448.5,880 448.5,884.5 446.5,887.5 445,887.5 443.5,889.5 444.5,891.5 444.5,894.5 443.5,895.5 442,895.5 441,894 437,895 433.5,893.5 433,895.5 431.5,896.5 427.5,895 421.5,894.5 420,895.5 416,895.5 416.5,896.5 419.5,896.5 421,898 421,899 418,901.5 420.5,903.5 424,904 425.5,905.5 424.5,908 426.5,908 431.5,912.5 434,913.5 433.5,915 429,916.5 432.5,919.5 436.5,926.5 436.5,928 433.5,930.5 430.5,930 429.5,931 431,934 429,936.5 420.5,938.5 418.5,940 417.5,943.5 413.5,941.5 411.5,942.5 418,950.5 416.5,957 412.5,960 413,963 415,964.5 410.5,965 408,964 403.5,969 403,971 407.5,974.5 401,979 403,982 399,982.5 398.5,984.5 403,987.5 403.5,990 395,995.5 395.5,996.5 398,996.5 399.5,998 402.5,998 404,999.5 405.5,998 407,1000 406.5,1002.5 405,1003.5 403.5,1002.5 403.5,1005.5 405.5,1005.5 406.5,1004.5 408.5,1005 409.5,1008 412,1010 413.5,1013 413,1014.5 414.5,1015.5 416,1019 412,1022 407,1022.5 410,1028 410,1031.5 409,1032.5 403.5,1033 404.5,1037.5 402.5,1040 400,1040.5 397,1039.5 395,1040.5 394,1042 394.5,1044 392.5,1046 388.5,1046.5 385,1044 385,1047 386,1048.5 385,1053.5 386.5,1059 385.5,1061 380,1060.5 379,1063.5 376.5,1066.5 374,1066 368,1060.5 364,1061.5 362.5,1066 360,1069 363.5,1072.5 364.5,1077 362,1077.5 360,1076 356.5,1076.5 357,1078 355.5,1080 358.5,1082 357.5,1083 355,1082 355,1083 356.5,1084.5 357,1088 354,1090.5 353,1089.5 351.5,1090.5 356.5,1094.5 357.5,1098 356.5,1099.5 351.5,1099.5 350,1102 352.5,1103.5 352,1105 353,1107.5 351,1109 351,1111.5 352.5,1114 349,1118.5 343.5,1122 343.5,1124 345.5,1126 345,1131 343,1135.5 340,1138.5 340.5,1141 334,1148.5 336,1152 333,1152.5 329.5,1155.5 326.5,1155.5 325.5,1156.5 329.5,1160.5 329.5,1165 328,1166.5 324.5,1167.5 323.5,1169 323.5,1178 319,1180 313.5,1185 314.5,1188 313.5,1189.5 316,1191 323.5,1201 325.5,1201 327,1202.5 326,1205.5 326.5,1206.5 330,1206.5 333.5,1209 338.5,1208 339.5,1209 339.5,1210.5 337.5,1213.5 336.5,1219.5 339.5,1222 343.5,1222 344.5,1223 342.5,1225.5 343,1227 347,1229 346.5,1232.5 350,1234.5 350.5,1238.5 355,1239.5 358.5,1244 361,1243.5 364,1245 363.5,1246.5 360,1249 358.5,1252 354.5,1254 359,1260 359,1261.5 357,1263 358,1264 353.5,1266 357,1266.5 358,1267.5 356,1272 359.5,1272.5 361,1274 361,1277 364.5,1276 366.5,1278.5 367,1282.5 369,1279 371.5,1277.5 375,1279 380.5,1277 381.5,1279.5 381.5,1287.5 387,1286 390.5,1287.5 391.5,1290.5 389.5,1292 389,1295 386.5,1297.5 383.5,1298.5 383,1301.5 381.5,1303.5 377,1303.5 375.5,1304.5 375,1306.5 373,1308.5 371.5,1308.5 370,1310 369.5,1312.5 367.5,1314 359,1313.5 359.5,1314 358.5,1315 356,1315.5 358.5,1316 359.5,1317.5 359,1319.5 362.5,1325 362.5,1327 361.5,1328 362,1330 369.5,1335.5 369.5,1338.5 375,1342.5 375.5,1345 380,1345 381.5,1346.5 381.5,1351 384,1356 385.5,1357 384,1360.5 381.5,1362 383,1363.5 386.5,1364 386.5,1369.5 388.5,1370 392.5,1374 390.5,1381 393,1382 394.5,1384.5 397.5,1383 400,1384.5 403,1389.5 403,1394.5 404.5,1395 408,1394 409,1396 407.5,1398 410,1397 412,1398.5 411,1404 411.5,1405.5 416.5,1402.5 418,1402.5 422,1405 424,1404.5 425,1403 428,1403.5 432.5,1408 432.5,1411.5 437,1410 437.5,1415 442.5,1417 447,1416.5 449.5,1419.5 454,1420.5 456,1424 458.5,1422.5 460.5,1423.5 463.5,1423 467.5,1424 471.5,1422 478,1421.5 480.5,1423.5 480.5,1431 483,1430.5 482.5,1424.5 485,1422 487,1422.5 487.5,1426 488.5,1427 489.5,1426.5 489.5,1424.5 492,1421 495,1421 495.5,1420 500.5,1420 503,1421 505,1418.5 506,1414.5 509,1411.5 509.5,1404.5 512.5,1402 515.5,1402 517.5,1399.5 523.5,1400 525.5,1404 529,1404.5 536,1411.5 540.5,1412.5 534,1406.5 531,1405.5 530,1403.5 527,1401.5 525.5,1398.5 524,1398.5 522,1396.5 518.5,1396.5 517,1393 518,1391 523,1390 521,1388 522,1385.5 522,1383.5 520.5,1381.5 521,1380 523,1378.5 526,1378.5 529.5,1375 535.5,1380.5 536.5,1384 538.5,1385 536.5,1379.5 538,1376.5 536,1374 536,1370.5 538,1369.5 540.5,1371.5 541,1374 544,1374 544,1372 541.5,1371 543,1365 548.5,1360.5 554.5,1359.5 554,1358 557,1355 555.5,1354 552,1354 551,1352 546.5,1348.5 545.5,1345 540,1342 547,1339.5 551.5,1334 553.5,1333.5 555,1334.5 559.5,1335 562,1333.5 562,1332 563.5,1330.5 563,1328 565,1326.5 565.5,1318 567.5,1320 571,1321 576,1326 577,1326 578,1322.5 581,1322.5 581,1319 583,1318.5 585.5,1315 581,1312.5 578.5,1308 582.5,1306.5 582.5,1304.5 583.5,1303.5 585,1304 587.5,1298 589,1299.5 588.5,1302.5 591,1302.5 592.5,1304.5 591.5,1310 590.5,1311 591,1317 590,1317.5 591.5,1318 591,1321 593,1321 592.5,1323 594,1324.5 594.5,1327.5 595,1322 597,1320.5 598.5,1317.5 602,1315.5 605.5,1316 607,1315 608,1318 609,1318.5 611,1317 612.5,1319.5 616,1319.5 617,1312 615.5,1311 615.5,1309.5 617.5,1307 618,1304.5 620.5,1302 621.5,1298.5 624.5,1295.5 629.5,1296 631,1293.5 633.5,1294 632,1291.5 634.5,1290 628.5,1288.5 626.5,1286 627,1284.5 629,1283 634,1286.5 637,1285.5 637,1284.5 634.5,1282.5 630,1282.5 629,1281.5 629,1277.5 630,1276.5 632.5,1277.5 636,1277 636,1275.5 631,1271 630,1268 630.5,1265 631.5,1263.5 635.5,1263 639,1261 642.5,1261 643,1256.5 639.5,1256.5 634,1255 632,1253.5 640,1250.5 639,1248.5 635,1247 631.5,1243.5 631.5,1241.5 633,1239 633,1228.5 639,1211.5 638,1210 636,1210 634,1208.5 631,1208.5 624.5,1205 623,1205 622,1206.5 622.5,1209.5 615.5,1214 612.5,1215 607,1214 604,1216 597.5,1215 594,1217.5 592.5,1216 593,1214.5 590,1209.5 591,1205.5 589,1202 589.5,1201.5 586,1201.5 582,1200 584,1197 583.5,1194 580,1196 577.5,1194 578,1189 579,1187.5 578.5,1184.5 583.5,1177 586,1175 586,1173 589,1170 591.5,1169.5 595.5,1172.5 594.5,1177.5 592.5,1180 593.5,1188.5 592,1190 589.5,1189.5 590.5,1191.5 594,1193.5 595,1196 590.5,1201.5 593,1203.5 594,1206.5 599,1206 601.5,1208.5 603,1207.5 606,1207.5 608.5,1200.5 611.5,1200 613,1201.5 614.5,1201 613.5,1199 609.5,1197 606.5,1194 606,1195.5 603.5,1197 602.5,1195.5 604.5,1194 603.5,1192.5 604.5,1191 610,1191 610.5,1192 617.5,1190.5 620.5,1194 624,1193 626.5,1194.5 631.5,1194 634,1195.5 634,1193 635.5,1192 634,1191.5 632.5,1187.5 633,1186.5 628.5,1181 630.5,1177 630,1174 626.5,1174 625.5,1175 623.5,1170.5 624,1169 627.5,1167.5 629,1165.5 626.5,1165 622.5,1166.5 621.5,1162.5 625.5,1161 632,1160.5 642.5,1155.5 641.5,1154 634.5,1154.5 628,1152.5 624,1153.5 622,1152 623.5,1150 621.5,1149 620,1144.5 623,1142.5 623,1140 624,1139 626.5,1139 632,1142 633.5,1142 633.5,1140.5 635,1139 633,1137.5 630.5,1137.5 630,1138.5 628,1138 626.5,1131.5 624.5,1127 629.5,1123 628.5,1117 630,1112.5 633,1109.5 634.5,1110 631,1107.5 631.5,1097.5 636,1093 644,1093.5 646.5,1093 647,1092 646,1092.5 642,1088 639.5,1087.5 638,1084.5 635.5,1082.5 636.5,1080 641.5,1080.5 645,1079.5 640.5,1075.5 640.5,1074 637.5,1070.5 637,1068 639,1065 630.5,1063 627.5,1060 624,1058.5 621.5,1058.5 619,1056 616,1056.5 614.5,1054.5 615,1052 610.5,1047 595.5,1047 594.5,1045 597.5,1042 597,1039.5 595,1038 595.5,1033 596.5,1032 598,1032.5 599.5,1037 604,1043 608.5,1044 610.5,1042.5 610,1033.5 607.5,1030.5 607.5,1029 610,1028 612.5,1030.5 613.5,1035 615.5,1030.5 616.5,1033 613.5,1038.5 612.5,1037 612,1037.5 613.5,1039.5 613,1042.5 616,1040 615.5,1038 617.5,1037.5 618.5,1038.5 617,1040.5 619.5,1044.5 626,1045 627,1046.5 628.5,1046.5 630,1049 632,1049 634,1047 635,1052.5 643.5,1056.5 647,1055.5 650,1053 655.5,1052.5 658.5,1049 661,1049 665,1044 667.5,1042.5 667.5,1039.5 668.5,1039 667.5,1032.5 670.5,1029 671,1023.5 672.5,1022.5 672.5,1020.5 675,1018.5 676,1015 675.5,1014 677.5,1012 676,1012.5 674.5,1009.5 677,1009 678.5,1010 680,1009.5 680,1008 681,1007.5 679.5,1006 676.5,1007.5 675,1007 677.5,1004.5 678.5,1001 677,1001.5 675,999.5 674.5,994 673,991 670.5,989 673.5,984.5 674,979.5 672.5,978 673.5,977 683.5,976 685,975 686,972 688.5,970 690.5,971.5 692.5,971.5 693.5,970.5 693.5,967 687.5,956.5 687.5,953.5 688.5,952 691.5,952.5 691.5,954 694.5,959.5 697.5,962.5 698.5,965.5 702,969 705,970 707.5,968 707.5,963.5 709,961.5 714.5,963 715,966.5 717.5,961.5 722.5,961 726.5,962 728.5,958.5 734.5,956.5 738.5,958 738.5,951.5 739.5,950.5 744.5,951 748,949 749,947.5 747.5,945 748,943 749,942.5 751.5,944 751,941 752.5,938.5 754,938 757.5,939 760,938 766.5,932.5 771,932.5 772,933.5 774,933.5 774.5,932.5 778.5,932.5 786,923.5 786,921 789,918.5 792.5,913 799,907.5 799,906 802,903 804.5,902 808.5,897.5 809.5,897.5 812.5,892 816,891 819.5,887.5 832,883 834,881 839,880.5 846,877 847.5,874 850,859 852,855 851.5,853 856,848.5 855,846 853,846 854,838 856,833 855.5,832 859.5,823.5 868.5,812 874.5,810 877.5,812 879.5,810.5 886,811 887,812.5 888.5,812.5 892.5,818 894.5,816 898,815.5 900.5,814 907.5,814 910,813 912.5,813.5 931.5,807.5 935,804 935,802.5 939.5,798.5 942.5,798 944.5,796 946,796 946.5,793 945,790 945.5,785.5 944.5,783 946.5,772.5 950,769.5 954.5,769 961,762 963.5,761 969,756 972,755.5 974,753.5 975.5,753.5 979.5,751 985.5,751 988,752 991.5,749.5 994,749.5 1000.5,744.5 1002.5,744.5 1010.5,739.5 1013,739.5 1014,738 1024,734 1025.5,732 1030.5,729.5 1032,726 1037.5,721.5 1038.5,718.5 1041,715.5 1041,713 1043.5,710.5 1044.5,699.5 1046.5,696 1046.5,693 1049.5,688.5 1050.5,683.5 1053.5,681 1054,678 1053,676.5 1053,673.5 1057,669 1057,667.5 1061.5,663 1065,650 1067,648 1064.5,641.5 1063,640.5 1063.5,635.5 1065,633.5 1065.5,627.5 1067,623.5 1066,622 1069.5,617 1071,612.5 1073,610.5 1076.5,609.5 1081.5,604 1083.5,603.5 1085.5,600 1091.5,595.5 1097,580.5 1098,573 1099,572.5 1104,561 1105,557 1104.5,554 1109.5,546.5 1109.5,543.5 1110.5,542.5ZM525,1336.5 527,1336 529,1337.5 526.5,1338ZM509,1321.5 510,1320.5 513,1320.5 515,1325 514,1325.5 511,1324ZM414.5,1286 415,1288.5 413.5,1290.5 414,1294 409,1296.5 407,1294 406,1294 406.5,1291.5 405,1293.5 404,1293.5 401.5,1291 402,1287.5 406.5,1286.5 411,1287.5 412.5,1285.5ZM414.5,1280 414.5,1283.5 409,1287.5 408,1286.5 411,1282.5ZM639,1258 636.5,1260 634.5,1258.5 637,1257ZM539.5,1196 545.5,1192.5 548,1190 553.5,1187.5 555.5,1189 555.5,1190.5 552.5,1193.5 552.5,1196 551,1197.5 549.5,1197.5 549.5,1198.5 554.5,1203 554.5,1204 556,1204 555.5,1205 557,1205.5 558,1208.5 561.5,1209.5 566.5,1206 569,1206 572,1209 574,1209.5 576.5,1208 581,1208 583,1205.5 584,1205.5 587,1208.5 587,1211.5 583,1213.5 585,1215.5 585,1217.5 581,1222 579.5,1222 575.5,1218 571.5,1221 570,1219.5 568,1219.5 565.5,1222 563.5,1226.5 561.5,1228.5 558,1229.5 556,1227.5 557,1225.5 557,1214 554,1216 553.5,1215.5 556,1211 552,1211.5 550,1210.5 548,1207 545.5,1206 541,1202 539.5,1199.5ZM452.5,1183.5 453.5,1182.5 455.5,1182.5 456.5,1185 453.5,1186ZM467,1187.5 468,1189.5 466.5,1194.5 460.5,1194.5 459,1196 453,1196 453,1197.5 451.5,1198.5 450.5,1198 451,1196.5 449,1195.5 450,1193.5 455,1190.5 456,1185.5 457,1185 457,1182 458.5,1181ZM569,1174 567.5,1177 565.5,1176.5 563,1178 562,1177.5 562.5,1174 566,1172.5ZM510.5,1152.5 512,1154.5 509.5,1156.5 508.5,1155ZM544.5,1143 545.5,1144 545.5,1146.5 547,1148 547,1150 544.5,1155 545,1157.5 548,1155.5 551.5,1157 553.5,1159.5 553.5,1162 555,1164 554.5,1166 555.5,1166 557,1168.5 559,1167.5 559.5,1168.5 558.5,1173 551,1176.5 549.5,1174.5 550,1168.5 548.5,1168.5 545,1172.5 543.5,1173 546,1176.5 548,1177 553,1182.5 550,1182.5 542,1191.5 539,1193.5 533.5,1192 533,1189 527,1182 527.5,1179 526.5,1177.5 528,1176 537,1174 540,1172 541.5,1172.5 539.5,1169 540,1165.5 538.5,1164 536.5,1166.5 534,1164 534,1159.5 537,1153 540,1151 540,1148 543,1143.5ZM475.5,1131 477,1130.5 477.5,1132.5 476.5,1133ZM452,1119.5 454,1118.5 455,1120 452.5,1120.5ZM462,1106 463.5,1106.5 463.5,1108.5 462.5,1109.5 461,1109ZM444,1093 449.5,1091 451.5,1089 451.5,1087 453,1086 456,1088 460.5,1088 461,1087 462.5,1087 462.5,1084.5 464,1083.5 469.5,1089.5 470,1088 474,1085.5 475,1082 477,1081 478.5,1078.5 481,1078 482.5,1080 485.5,1080 486.5,1081 486.5,1085.5 490,1090.5 489,1095 490,1096 492.5,1095.5 493.5,1096.5 493.5,1098 490.5,1101.5 491,1103.5 500,1101 502.5,1098 504,1098 503.5,1100 499,1104.5 495.5,1106.5 494,1108.5 494,1111 496.5,1111.5 503.5,1107 507,1108 512,1107 513,1106 516,1106 522,1107.5 524.5,1104.5 525.5,1105.5 524.5,1108 527,1109.5 525.5,1116 527.5,1118 524,1120.5 519.5,1121 517,1122.5 514,1122 514.5,1123.5 518.5,1124 520,1125.5 520,1129 518.5,1131.5 520,1133.5 515.5,1137 514,1142 516.5,1145.5 518.5,1146 521,1148.5 519.5,1150 526.5,1151.5 527,1152.5 530,1153 532.5,1155.5 530,1159 531.5,1162.5 528,1167 526,1167 524.5,1164.5 520.5,1165.5 518,1163.5 517,1161.5 519,1159 519,1157.5 516.5,1153.5 518,1150.5 516,1150 510.5,1145 512.5,1143 508.5,1144.5 511,1147 511.5,1149.5 508,1152.5 504.5,1153.5 500,1153 499,1152 500,1148.5 498,1146 498.5,1144.5 493.5,1146 489.5,1144 488,1140.5 490,1139 491.5,1134.5 495,1132 494,1129.5 495.5,1125.5 493,1126 490,1129 486,1129.5 487,1125.5 493,1121 493,1119.5 490,1121.5 484,1121.5 486,1118 485.5,1115.5 489.5,1113.5 487,1111.5 486,1115 482,1115 479.5,1113.5 476,1116.5 471.5,1117.5 468,1119.5 467.5,1118.5 464.5,1119 464,1121 462,1122 460,1116.5 463,1114.5 464.5,1110 467,1109 466,1106 464,1104.5 465.5,1101.5 461,1102 459.5,1103 456.5,1102.5 454.5,1099.5 456,1097 455,1095.5 452,1094.5 445,1094.5ZM571.5,1076 573.5,1075.5 576,1077.5 577.5,1080 577.5,1082.5 576.5,1083.5 574.5,1083.5 571,1077ZM599.5,1064.5 601,1064 601.5,1066 601,1066.5ZM562,1062 570,1069 570.5,1070.5 568.5,1073.5 567,1072.5 566.5,1073.5 564.5,1073.5 559.5,1068.5 561,1066.5 560,1063.5ZM556,1055.5 559,1057 559,1059 557.5,1060.5 554.5,1058 554.5,1056.5ZM386,1052 388,1051 389,1053 387.5,1053.5ZM541,1039.5 542.5,1039.5 545,1042.5 547,1041.5 554,1049 555,1050.5 555,1053.5 553.5,1056 552,1055 550,1056.5 542.5,1056.5 545.5,1054 539.5,1042.5ZM617.5,1031 618.5,1030 621.5,1030.5 619.5,1032.5ZM532.5,1027.5 536,1030.5 534,1032.5 531,1031 531,1029ZM582,1020.5 578,1023.5 577,1021 580,1019ZM570,1014 571.5,1013.5 574.5,1018 573.5,1018.5 570.5,1016ZM551.5,981 553,979.5 555,979.5 556.5,982 553.5,983.5 551.5,982ZM570.5,976.5 573,974.5 574.5,975 574,977ZM670,971.5 670.5,974 669.5,974 670,978.5 669,981 666,984.5 664,984.5 661,980.5 662.5,977 665.5,976.5 666.5,973.5ZM680.5,970.5 681,970 682.5,972 681.5,972.5ZM665,965 665.5,967 664,968.5 663.5,966ZM667.5,960 668.5,961 668,962.5 666.5,962ZM673.5,958.5 675,959.5 675,962 673,960.5ZM682,953 685,954.5 685,956.5 684,957.5 682.5,957.5 681,956ZM634.5,946.5 637,946 637.5,947 639.5,947.5 636,949.5ZM418,943.5 420,943 420.5,944.5 419,946ZM667,942.5 668,943 667,946 669,946 669.5,949 668.5,954.5 667.5,955.5 666.5,947 665,948.5 664,947.5ZM559.5,942.5 561.5,942.5 562,941.5 564.5,943.5 560.5,944ZM555.5,941.5 557,941 558,942.5 556.5,943.5ZM668.5,938.5 669,941.5 668,942.5 667.5,939ZM649.5,935 650.5,936 650.5,940 648,942 646,946.5 645,945.5 646.5,941.5 646,938ZM554,934.5 557,937 556,939 552.5,937ZM654,933 655,931.5 657,932 655.5,933.5ZM595,922.5 599.5,919.5 602,919.5 604.5,922 605.5,928 606.5,929 607,928 609,928 611,930.5 617,931.5 613.5,934.5 614.5,936.5 612.5,937.5 613,940 614,937.5 620,933 622.5,934 623.5,936 618.5,939 617.5,941 619.5,943.5 619,945.5 621,947.5 632.5,947 634,948 634,950.5 632.5,952.5 629,950 629.5,953 628.5,955.5 630,957.5 632,954.5 634.5,953 636,950 638,951 640,948 645,953.5 647,953.5 649,955.5 649.5,958.5 651,960 653.5,960 652,961.5 652.5,964.5 650,964.5 648.5,966 649.5,970.5 647.5,971.5 647.5,973 650.5,973 651.5,974.5 654,975.5 658,975.5 661.5,978.5 659.5,980.5 656,980.5 653,978.5 651,980.5 642.5,982.5 638.5,981.5 636.5,983 630,983 628,981.5 629.5,978.5 627.5,976 628,971.5 624.5,969.5 623,963 620,960.5 619.5,958 613,946.5 608.5,944 608.5,939 610,938.5 609.5,936 607.5,934.5 605,931 605.5,930.5 603.5,931.5 600.5,928.5 600.5,926 596,924ZM606.5,890.5 605,895.5 605.5,899 603,901.5 603.5,903.5 602.5,905.5 597.5,911 596,911.5 589.5,910 583.5,911.5 579.5,904 579.5,897 582.5,896.5 584.5,897.5 586.5,894.5 588,895.5 590,893 594,893 594.5,891.5 597,890 598.5,886.5 603,890 603,892 604.5,889Z"/>
<path fill="#38a300" fill-rule="evenodd" d="M568.5,1180 564.5,1182.5 561,1186.5 558.5,1187 560.5,1190 558.5,1193.5 558.5,1196.5 562,1199 560.5,1201 561.5,1204 564.5,1203 569.5,1199 571.5,1199.5 572,1202 574,1200.5 574,1198.5 572,1196.5 575.5,1190.5 575.5,1188 573.5,1186.5 574,1185 573,1184 571.5,1184 569.5,1186 567.5,1185ZM535,1166.5 533.5,1168.5 535,1168.5 536.5,1171 538,1170.5 538.5,1169.5ZM625.5,1158 628.5,1158.5 634,1156.5 628.5,1155.5 625.5,1157ZM471.5,1120.5 470.5,1121.5 470.5,1123.5 473,1124 474.5,1122 474,1120.5ZM464,1074.5 463.5,1075.5 466,1080.5 467.5,1081.5 467,1077 465,1074.5ZM564.5,1042.5 565,1044.5 567,1043.5ZM572.5,1040.5 572,1042.5 575,1043.5ZM642.5,987.5 641,987.5 640,989 641.5,989.5ZM649.5,985.5 646.5,989.5 644,990.5 644.5,991.5 646,992 647,990.5 648.5,991 650,990ZM314.5,955.5 313.5,956.5 313.5,962 317.5,963 319,962 318.5,959 316,955.5ZM661,953 659.5,958 660.5,959 660,960 662,960.5 664,956.5 664,953.5ZM626,939.5 627,942 629.5,941.5 628.5,940 627,940.5ZM641,933 640,933 638.5,935.5 638.5,941.5 635,944 638,946 639,946 640.5,942.5 639,939.5ZM400,933 396.5,933 396.5,930.5 395.5,932 393.5,931.5 394,936.5 393,937 389,932.5 387.5,934 387.5,936.5 388.5,937.5 385.5,939.5 385.5,942 389.5,942.5 391,941.5 392,939 395,937.5 398,938ZM608.5,919.5 610.5,920.5 609,921 610,922 612.5,921 612.5,920 610.5,920.5 610,919.5ZM619,918.5 614.5,919.5 613.5,921 615,922.5 617.5,928.5 620,927 620.5,924.5 618.5,919.5ZM540,852.5 537,852.5 534.5,855 533.5,854.5 533,852.5 528,852.5 524,856 517,855.5 516.5,857.5 515,858.5 507.5,860 506,864 503.5,866 501.5,866 497,862.5 488.5,861 484,868 482.5,867.5 479,868.5 478.5,873.5 476.5,872 475.5,869.5 478,866.5 481.5,865 482.5,863.5 482,864 480.5,863 477,867 473,868 471,870.5 468,870.5 465,875 461.5,876 459.5,879.5 452,884.5 451,887 451,891.5 448.5,894.5 449,897.5 446.5,898.5 446.5,901 445.5,902 438,905 436,903.5 434,904 434,905 437.5,906.5 441,910.5 439,913 438,917.5 435.5,919.5 439.5,925.5 441.5,927 442,931.5 441,932.5 439,931.5 434,932.5 435,937 432.5,939.5 429,939 426,942 423.5,942 425,946 423,947.5 421.5,951 421.5,953.5 422.5,954.5 419.5,956.5 421,960 419,962 423,966.5 423,968 421,969.5 416,968.5 411.5,973.5 411.5,978.5 416.5,983 416.5,984.5 414.5,985.5 411,983 408,985.5 405.5,986 407,988 410.5,989 411,990.5 404.5,993.5 404.5,994.5 411,996 414.5,994 417,995 415.5,997 410.5,1000 410,1002.5 411.5,1003.5 411.5,1005.5 412.5,1006.5 414,1006 415.5,1007 415,1010 416,1011 416,1013.5 420,1014 421.5,1015.5 418.5,1018 418.5,1021.5 412.5,1026 412.5,1030 415.5,1033.5 415.5,1035 414.5,1036 409.5,1035 409,1037.5 410,1041 406,1044 402,1044 402,1045.5 406.5,1050.5 406,1052 402.5,1052.5 398.5,1050 396,1050 393.5,1051.5 391.5,1055.5 388.5,1057.5 388.5,1060.5 392,1066.5 391,1069 387.5,1067.5 384.5,1064.5 381.5,1065 380.5,1068 378.5,1070 376.5,1070.5 376.5,1072.5 375.5,1073.5 372.5,1074 370.5,1073 368,1075.5 368,1078.5 365,1080.5 364,1084 361.5,1085.5 361,1088 362,1092 360,1095 360.5,1096.5 367,1099 370,1101 371,1103 368,1105 364,1104.5 362,1102.5 359,1101.5 357,1102 354.5,1111 357.5,1114 357.5,1117 356,1119 351.5,1121 351.5,1124 348,1126 348,1128 349,1130 354.5,1131 358.5,1134.5 356,1136.5 352,1137 348.5,1135 346,1135 345.5,1136.5 349,1142.5 352.5,1143 354,1145.5 356.5,1146 357.5,1147.5 356,1149 347.5,1146.5 345.5,1150.5 341,1150.5 341,1152 346.5,1153.5 349.5,1156.5 342.5,1157 341,1160 333.5,1160 332.5,1161 332,1167 329.5,1170 331.5,1172.5 330,1175 331,1177.5 330.5,1178.5 328,1179 326.5,1181.5 325,1181.5 318.5,1186 318.5,1188.5 320,1189 323,1193 324,1197.5 330,1200 331,1201.5 330.5,1202.5 334,1204.5 340.5,1202 351.5,1201.5 352.5,1202.5 351,1204.5 342,1210.5 341,1212 341.5,1218.5 347,1219 352,1216 354,1216 355,1218 351.5,1220.5 349.5,1223.5 350,1224.5 355,1224 358.5,1222.5 361,1224.5 363.5,1225 358,1239 361,1241 368,1241.5 367,1243 368.5,1244 367,1246 368,1248.5 367,1251.5 365.5,1253 360.5,1255 361,1258.5 364.5,1263 368,1264 361.5,1268.5 363.5,1268.5 367.5,1265.5 368.5,1266.5 366.5,1269 366,1272 369,1274.5 370.5,1273 373.5,1274 375.5,1265.5 378.5,1263 379.5,1264 380,1270.5 381.5,1273 381.5,1275 383,1276.5 387.5,1275.5 390,1277 393,1275.5 397.5,1279 400.5,1279 403,1280.5 407,1280.5 409.5,1278.5 412,1279.5 415.5,1278 420,1285 416,1295.5 414.5,1297 406.5,1301 398.5,1293.5 397,1297.5 394,1299 390.5,1302.5 386,1300.5 383,1308 378.5,1306.5 378,1311 375.5,1312.5 375.5,1316.5 367.5,1317 368.5,1318.5 367.5,1319.5 367.5,1329.5 374,1333 373.5,1336.5 374.5,1337.5 379,1338.5 379.5,1337.5 380.5,1338 379,1342 382,1342.5 384,1340.5 387.5,1340 390,1341 388.5,1347.5 386,1348.5 387,1350.5 388.5,1349 394,1348.5 395,1349.5 395,1351 393,1353 390.5,1352.5 389,1354 390,1356.5 388,1359 388.5,1362 390,1363.5 393.5,1362.5 394.5,1363.5 393.5,1364.5 394,1366 396.5,1367.5 394.5,1377.5 401,1379 402,1380 402.5,1379.5 403.5,1381.5 405.5,1380.5 407,1384 409,1385 409,1387 413.5,1387.5 412,1390.5 414,1392 417,1392.5 415,1398 415.5,1400.5 419,1398 421.5,1400 424,1400 426,1398 432.5,1405.5 434,1406 437,1404 440.5,1404 439,1408.5 439,1414 441,1414.5 446.5,1409.5 451,1408.5 452,1414.5 454,1417 456,1416.5 458.5,1418 461,1417.5 466.5,1419.5 469.5,1418.5 468.5,1414.5 470.5,1412 472.5,1413 471,1411 474,1409.5 476,1410.5 476,1413 479,1416.5 480,1419.5 482,1419.5 482.5,1418.5 489,1419 495,1418 496,1417 495,1415 496,1412.5 499.5,1415 500,1418 502.5,1418 503.5,1416 501.5,1414 502,1412.5 501,1409.5 502,1408 505,1407 505,1406 502,1402.5 502,1401 512,1400 514.5,1396 513.5,1393.5 511.5,1394.5 509.5,1393 509.5,1392 510.5,1391 512.5,1391.5 515,1389 515,1386.5 509.5,1381 507.5,1377 509,1376 510.5,1379 512,1379 516,1374 522,1375.5 527,1372.5 531,1373 531.5,1370 534,1366.5 538,1367 539.5,1366 541,1362 540.5,1355.5 545,1354 544,1348 539.5,1346 536,1346 534,1343.5 530.5,1343.5 529.5,1342.5 529.5,1340 528.5,1339.5 524,1340 519.5,1343.5 516.5,1344 515,1347.5 512,1349.5 510.5,1347 512,1346 512.5,1343 522.5,1333.5 520,1331.5 517.5,1332.5 512.5,1338.5 508,1340.5 504.5,1339 504,1341.5 502,1343.5 499.5,1343.5 497,1341.5 497,1339.5 492.5,1335.5 493,1334 495.5,1335 498,1338 505,1338 512.5,1329 509,1330.5 508,1330 508,1327 511,1327 512,1326 510,1325.5 506.5,1322.5 506,1320 502,1313.5 502,1310 504,1309 507,1310 511,1309 513.5,1310.5 515,1322.5 517.5,1321.5 519,1323.5 521.5,1324 523,1321.5 526.5,1319 528.5,1321.5 528.5,1325.5 526.5,1326 523.5,1328.5 523.5,1331.5 526,1333.5 531.5,1334.5 535.5,1337.5 542,1337.5 546.5,1335.5 548.5,1333 548,1328.5 549,1327.5 550.5,1328 551,1330 552.5,1331 555.5,1330.5 556.5,1329.5 555.5,1326.5 561,1324 561.5,1320.5 563.5,1319 563,1315 565,1312.5 568.5,1316.5 574,1319 574.5,1316 576.5,1316.5 576.5,1315 579.5,1315.5 576,1311.5 575.5,1307 579,1303.5 579,1300 580.5,1298.5 583,1299.5 585,1299 588,1296.5 589.5,1296.5 591.5,1300.5 595,1301 594,1303 594.5,1307.5 593.5,1309.5 595,1312.5 593.5,1314.5 594.5,1314.5 595,1312.5 598,1312.5 601.5,1310.5 608,1310.5 609.5,1312.5 612.5,1312 612.5,1309.5 622,1295.5 625,1288 624.5,1284 626,1283 627,1277.5 628.5,1276 629,1270 628,1268.5 628,1266 630.5,1261.5 629.5,1258 630,1252.5 632.5,1249 632.5,1247.5 629.5,1243 631,1238 631,1228 633.5,1223.5 636.5,1212.5 633,1213.5 633,1210.5 626,1210 620.5,1212.5 618,1215.5 614.5,1217 607.5,1216 604.5,1218.5 600,1217 597.5,1217.5 596,1222 592.5,1219.5 589,1218.5 587.5,1219.5 586.5,1226 583.5,1229.5 574,1230.5 572.5,1233.5 566,1230.5 560.5,1237.5 554,1235 552,1229.5 552,1224.5 549,1227 548,1226.5 550,1221 542,1230.5 533.5,1235.5 532,1234.5 529,1235.5 526,1232.5 527.5,1231 539,1228.5 549.5,1218.5 549,1216 543.5,1213.5 545.5,1208 538,1201.5 538,1198 536.5,1195.5 531.5,1192 531,1190 525.5,1183.5 524.5,1174.5 529.5,1172 529.5,1171 528,1170.5 525.5,1171.5 524,1173.5 523,1171.5 525,1170.5 524.5,1169 521.5,1170 517,1168 514,1165.5 511,1160.5 507.5,1158.5 506,1156 502.5,1154.5 500,1157 496.5,1166 498.5,1169 497.5,1172 496.5,1172.5 489.5,1164 490.5,1158.5 494.5,1152 492,1152 488,1160 487,1158.5 487,1155 484.5,1152.5 485.5,1150.5 486,1152.5 486,1150.5 480,1149.5 478.5,1152 474.5,1152 470.5,1150.5 465.5,1152.5 465,1154 466.5,1164 468.5,1166.5 475,1168.5 476,1171 479,1173.5 478,1175 473,1173 468.5,1173.5 469.5,1176 475.5,1180 476.5,1182 475.5,1183.5 469,1182.5 468,1184 472.5,1187.5 473,1191 476,1196 477,1202 475.5,1203.5 474,1201.5 468.5,1198.5 464.5,1198.5 463.5,1201 461,1199.5 458,1200 456.5,1204.5 455,1205.5 453,1203.5 452,1200.5 450.5,1202 447.5,1202 445,1200 445,1198.5 446.5,1197 445.5,1196 445.5,1194 449.5,1189 450,1180 453,1174.5 452,1168 453,1166.5 453,1161.5 454.5,1159 453,1156.5 455,1154 459.5,1153 461.5,1151 461,1146.5 463,1144.5 461.5,1138.5 463.5,1135 462.5,1132 467,1127 462.5,1124 450.5,1124.5 445.5,1120 447.5,1116.5 450.5,1115 450.5,1113 449,1112.5 448,1110.5 451.5,1108.5 455,1109 457.5,1106 448,1106 447,1104 444.5,1102.5 434.5,1101.5 433,1100.5 431,1101.5 428.5,1101 425,1102 423.5,1101 424.5,1099.5 433,1099 434.5,1097.5 434,1097 421.5,1097 417,1096 416,1093.5 422,1086 424.5,1086 425.5,1087.5 425,1089 430,1090 431,1089 437,1089.5 439,1087.5 445,1088 446.5,1087 446.5,1085 443.5,1082.5 446.5,1081 447,1079 449,1077 450.5,1077 453.5,1079.5 456.5,1080.5 457,1079.5 454,1076.5 452.5,1072 462,1062 473,1062 474,1061 478,1061 480,1064 483.5,1066 486.5,1064.5 487,1061 491,1063 492,1062.5 493.5,1064 493,1074.5 495.5,1074 496.5,1076 498,1074 502.5,1074 504,1075 510.5,1072.5 512.5,1075 511,1077 510.5,1080 505,1083.5 503.5,1086 506.5,1086.5 509,1084 512,1084 515.5,1086 521,1086 524,1090 523.5,1091.5 517.5,1095.5 521.5,1094.5 524,1095 525,1099.5 528,1101.5 530,1105 533,1114 530.5,1119 527.5,1122 528,1124 527,1125.5 528,1128 527,1131.5 527.5,1133.5 532,1134 533.5,1133.5 536.5,1129.5 539.5,1130.5 540.5,1133 539.5,1135 535.5,1136 537,1139.5 537,1143 539,1144 543,1138 547.5,1136.5 550.5,1139 552.5,1139.5 557,1144.5 555.5,1148.5 561,1150 565,1148.5 566.5,1149.5 567,1152.5 565.5,1154.5 566.5,1155.5 567,1161.5 566,1162.5 576.5,1156 579,1158 579.5,1161.5 577.5,1163 577.5,1165.5 575.5,1169 575.5,1172 574,1173.5 574,1175 575,1175.5 579,1171.5 582,1172 582,1170 583,1169 585,1169.5 589,1166 593,1167 595.5,1169 599.5,1174.5 598.5,1175.5 598.5,1180 596.5,1184 596.5,1191 595.5,1193 597.5,1193 598,1190.5 600.5,1188 603.5,1187 604.5,1184.5 607.5,1182.5 613.5,1184 620,1190 621,1192 623,1191 626.5,1192.5 629,1192 629,1191 631,1190 631,1188 622,1174 621.5,1168 619,1165 619,1161 622.5,1156.5 620.5,1155 619,1152 619.5,1147 617,1143.5 621,1142 622,1138.5 624.5,1137 623.5,1130.5 620.5,1129.5 620,1128 625.5,1124 626.5,1121.5 625.5,1116.5 628.5,1103 628,1097.5 630.5,1093 634,1091 635.5,1089 632,1081 635.5,1074.5 635,1067.5 636,1066 633.5,1066.5 630,1065.5 625.5,1061.5 612,1060.5 609.5,1058 607,1053 605.5,1052.5 604.5,1053 603.5,1056 601.5,1057.5 601.5,1060 604.5,1060 607,1062.5 605.5,1064 606,1071 604,1072 602,1070 600,1069.5 598.5,1070.5 595.5,1065 594,1066.5 592,1071.5 590,1068.5 590,1065 592.5,1063 592,1062 588.5,1062 587,1063 584,1061.5 584.5,1058.5 588,1055 590,1051 589,1048.5 590.5,1046.5 587,1043 591.5,1040.5 591.5,1039.5 588.5,1037.5 591,1035 591,1032.5 593,1029.5 595,1030 596.5,1028.5 599,1030 602,1029 603,1025.5 605.5,1023.5 611.5,1024.5 611,1020 612,1019 614.5,1020.5 616.5,1024 617,1016 618,1015.5 619,1017 618,1018 618,1021 620,1020 620.5,1018.5 625,1021 624,1023 618,1026 623.5,1026.5 626,1029 625.5,1032.5 622.5,1036.5 622.5,1040.5 629.5,1044.5 632,1043.5 632.5,1042 634.5,1041 636.5,1044 636.5,1046.5 639,1049 641.5,1049 642.5,1050 643,1053.5 645,1053.5 645,1051.5 648,1048.5 652.5,1048.5 654.5,1049.5 657,1047.5 661,1047 666.5,1037.5 666,1036 663,1034.5 659.5,1034.5 654.5,1031 656.5,1028.5 659,1028.5 666,1031.5 669.5,1027 669,1022.5 671.5,1018.5 671,1016 672,1015.5 672,1014 670,1011.5 665.5,1009 660,1009 659.5,1008 662,1007 666,1007.5 668.5,1005 673.5,1004.5 672.5,1000 673,995.5 672.5,994 670,993 668.5,991 668.5,986 665.5,987.5 660,994.5 657,994.5 654,993 648,997 642,997 640.5,995 643,993 643,992 641.5,991 637,990.5 634.5,992 634,991 636,989 635.5,987.5 631.5,989.5 630,992.5 624.5,995.5 623.5,995 625,993.5 626,989.5 625.5,984 623.5,982.5 624,976.5 619,974.5 620,971 619,968 619.5,965.5 618.5,964 616,963 615.5,962 617,960.5 611.5,949.5 608.5,947.5 605.5,947.5 603,949.5 602,949 601.5,947 605,944 605,940 603,936.5 599.5,935 600,935.5 598,937.5 594.5,938.5 590,934.5 590.5,936 587,938.5 585.5,934 580,926.5 580,924.5 581,923.5 583,923.5 587,925 592.5,929.5 595.5,929.5 595,927.5 587.5,924.5 588,923 592,921.5 589,916 587,916.5 585.5,915 581.5,915.5 576,908.5 573.5,901 576,895.5 576,891.5 578,891 581,894.5 579,886 576,881.5 577,877.5 573.5,877 572.5,876 580,874.5 585.5,870 585,868.5 581.5,867.5 579,869.5 572.5,870.5 570.5,872 564.5,872.5 563.5,869.5 561,870 560,869 559.5,863.5 551,865 550,864 550.5,857.5 546.5,858 545.5,856.5 546,855 545,854.5 541.5,856ZM448.5,1391.5 448.5,1395 443.5,1398 442.5,1401 440.5,1402 440,1399 445.5,1393ZM505,1372 506,1373 505,1378 501.5,1379.5 500,1381.5 497.5,1381.5 496.5,1379.5 499.5,1376 499.5,1372.5 500.5,1371.5ZM486,1371.5 487,1370 489,1370.5 487.5,1372.5ZM511.5,1369.5 512.5,1369 513.5,1371 512.5,1371.5ZM500.5,1365.5 501,1368 500,1368.5 499.5,1367ZM496.5,1363 497.5,1364.5 497,1369 495,1370.5 490.5,1370.5 490,1369.5 493,1367 492.5,1365.5ZM542,1220.5 542.5,1222 540.5,1222.5 540,1222ZM540,1217 541.5,1215.5 542.5,1216.5 542,1217.5ZM342,1185.5 342.5,1184 344.5,1184 345.5,1185 344.5,1186ZM478,1180.5 483,1182.5 482,1184.5 480,1184.5 480,1188 478.5,1187.5 478.5,1185 477.5,1183.5ZM453.5,1136 451,1138 448,1137.5 451.5,1135.5ZM454.5,1135.5 455.5,1134.5 457.5,1135.5 456.5,1136.5ZM430.5,1109 431,1110.5 429,1112.5 428,1110ZM601.5,1095 603,1096.5 602.5,1098.5 600.5,1098.5 599.5,1097.5 599.5,1096.5ZM383.5,1073.5 385,1073 386,1075 384.5,1075.5ZM539.5,1038 546.5,1038.5 550.5,1041.5 550.5,1043 556.5,1049 556.5,1051.5 560.5,1053 562,1048 559,1047 550,1037 551,1035 554,1035 555.5,1034 557,1035 558.5,1031 565,1033 568,1036 568,1038.5 571,1038 570.5,1035 572.5,1032.5 581.5,1034 587,1044.5 581.5,1045.5 577,1053.5 575,1055 568.5,1053 566,1056 561.5,1056 560.5,1057 563,1060.5 567.5,1060.5 570.5,1066 573,1065 575.5,1067.5 571.5,1070 573.5,1073.5 580.5,1076 582,1077.5 579,1082.5 580.5,1086.5 579.5,1088 575,1090 573.5,1089.5 569.5,1082 571,1078.5 565.5,1075 563.5,1075.5 563,1074 557.5,1069.5 559,1064 556,1060 547,1058 541.5,1061 539.5,1058.5 540,1056 539,1054.5 541.5,1050.5 539,1047 538,1043.5 538,1040.5ZM530,1024 532.5,1026.5 536.5,1026.5 536,1029 537.5,1032.5 537,1034 532,1035 529.5,1032 528.5,1027ZM637.5,1021 638.5,1023 637.5,1025.5ZM638,1011.5 637,1013 637.5,1015.5 638.5,1016 638,1016.5 632.5,1016.5 630,1018.5 628,1018 633.5,1013 637,1011ZM654.5,1010.5 657,1008.5 659,1009 656,1011ZM565,1006.5 567,1008 569.5,1007.5 575,1011.5 574,1015 575.5,1018.5 576,1016.5 578.5,1014 580.5,1014 584.5,1016.5 585.5,1020.5 590,1026.5 588,1027.5 583.5,1033 580,1030 581.5,1028.5 578,1024.5 577,1026 580.5,1029 579,1030.5 575,1031 572,1027.5 572,1026 574,1024.5 574,1023 571,1024 568.5,1021 566.5,1015 567,1011.5 565,1009ZM495,992.5 497.5,992.5 497.5,993.5 498.5,993 502,995 510,1001.5 509.5,1005 511.5,1007.5 509.5,1010 504.5,1007.5 502.5,1004.5 496,998.5 496,995.5 494.5,993.5ZM583.5,966 584,967 582.5,969 583,969.5 582,970.5 580,969.5ZM531.5,962 534,962 537,963.5 541.5,968.5 541.5,974.5 544,976 547,975.5 548.5,978.5 552,976.5 559,975.5 560.5,976.5 561.5,976 563,978 565,975.5 568.5,974.5 572,971 574,971 574.5,972.5 577,971.5 578,974 576.5,975.5 576,978.5 573.5,980 563,981 561,978.5 558,980.5 558,983 556,985 553.5,985.5 550,983.5 549,981.5 547.5,981 546,983 541.5,981 542,978.5 539,975.5 536.5,975.5 535,971.5 536.5,968.5ZM589.5,950 591,950 592,951.5 592.5,954.5 591.5,955.5 589,953ZM533,930 535,928.5 540.5,932 536,932ZM541.5,932.5 543.5,932 547,933.5 549,931 551.5,930 552.5,928 555.5,929 557,926 559.5,924.5 562.5,927 565.5,939 568.5,942 570.5,942 570,943 571.5,944 571,945.5 572.5,943.5 576,944.5 580,944 581,946 573.5,952.5 569.5,952.5 567,951 560.5,951 557,948 554,947 553.5,945.5 552,946.5 552,949 548,951 546.5,948.5 546.5,941.5 544,940.5 542,943 540.5,943 539.5,941.5 541,936.5 543,935.5ZM584.5,924 585.5,922.5 587,923.5 586,924.5ZM464,876 466,874 468,874.5 466.5,876ZM883.5,405 872.5,402 866,401.5 862,404.5 859.5,408 857,409 851,417.5 850,423 848.5,424 846.5,430 839,439.5 838,444 834.5,447 833.5,450 829.5,454 825.5,461 824,461.5 822,465 815,471 813.5,475.5 813.5,482.5 811.5,487 812.5,494.5 811.5,495.5 810.5,509 811,515 813.5,522 813.5,526 818.5,533.5 818.5,538 820,540.5 819,549.5 816,552.5 814.5,556 814,560.5 810.5,566.5 810,571.5 808,574.5 801.5,580 800,583.5 798,595 783.5,607.5 783,612 779.5,616 776.5,616.5 775,619 773.5,624.5 773,632 761.5,641 761,643.5 758,645.5 758,647 755,650 751.5,651 748.5,653.5 749,664 746.5,667.5 742,677.5 736.5,685 735.5,688 733,690.5 733,693.5 731.5,696.5 733,706.5 737.5,707 739,708 742,707.5 745.5,709 751,707.5 752.5,708 754.5,711 760.5,711 761.5,712 765.5,711 766.5,712 765.5,713.5 769,717.5 769,719.5 766,722.5 771,727 769,733 771,732.5 772,733.5 770,737.5 772,740 772,745 775,748 774.5,751 772.5,752 774.5,753 773,754.5 773.5,759 770.5,759.5 769,764.5 765,768.5 765,771 767.5,772 769,774.5 767,776.5 764.5,775.5 766.5,777.5 764.5,780.5 763.5,780.5 763,779 761.5,779 760.5,781 759,781 757.5,782.5 757.5,785 749,790 745,794 740,795.5 733.5,800.5 727,804 722.5,804 715.5,807.5 714,806.5 710,806.5 705,808.5 704,810 701.5,810.5 692.5,817.5 689.5,822.5 684,823.5 682,826 679,826 679,827.5 675.5,830.5 668,831.5 667.5,833 658,837.5 654.5,841 653.5,848 656,850 658.5,850 660,851 662.5,850.5 663,852 661,854.5 664,853.5 664.5,852.5 665.5,853.5 665.5,855 661.5,858.5 665,859 666.5,862 675,861.5 674.5,859.5 677.5,856 682,859 679.5,860.5 682.5,863.5 685,863.5 686.5,867 690,870 689.5,873.5 690.5,877.5 694,879 697,877 699,877 699,879 702,882.5 703,882 706,883.5 708.5,883.5 708.5,886.5 710,888 709.5,890 711,891.5 715,892.5 717,894.5 717,898 721.5,899.5 723.5,904.5 727.5,903 729.5,904.5 737,904 738,905 738,907.5 736,909.5 733.5,908 732.5,909 732.5,913 731.5,914 729.5,913.5 729.5,916.5 730.5,918 726.5,927 718.5,930.5 717,933.5 714.5,934.5 711.5,937.5 713,942 709,943 708,945 715.5,948.5 711.5,950.5 707.5,949.5 707,950.5 703.5,951.5 705,952.5 704.5,954.5 699.5,958.5 699.5,960.5 702.5,965 704,964 704,962 708,958.5 710,958.5 711,960 718,959.5 719,956.5 721.5,954 723,954 723,952 724,951 729.5,952 730.5,956 734.5,954.5 735,952 730.5,948 730.5,947 731.5,946 735,946 736.5,944.5 740.5,943.5 742,942 741,938.5 742,936.5 749,934 751.5,931.5 752.5,929 758.5,930.5 762,927 763.5,927.5 763,927 765,926 765.5,927 766.5,926.5 767.5,927.5 770,927.5 773,930.5 774.5,927 774.5,924 776.5,922 779.5,923.5 778,927.5 778.5,929 780.5,925 784.5,922 784.5,919.5 789.5,914.5 791,911.5 794.5,908 795.5,908 806.5,896 808,895.5 808.5,893.5 812,889.5 814.5,889.5 818,886 823,884.5 829.5,881 843.5,876.5 845.5,873.5 852.5,835.5 858,822 867,810.5 874.5,808 881,807.5 890,810.5 892,813.5 894,814.5 902.5,811.5 905.5,812.5 910,811 912.5,811.5 930,806 934.5,800 938.5,796.5 941,796.5 944.5,793 943,790 943.5,785 942.5,784 942.5,781.5 944,777 944.5,770.5 945.5,769.5 953.5,766.5 959.5,760.5 962,759.5 967,755 972,753.5 976.5,749.5 986.5,749.5 992.5,747.5 995,746 995.5,744.5 997.5,744.5 1009,738 1022.5,732.5 1024,730.5 1028.5,728 1030.5,724.5 1036,720 1036,717.5 1037.5,716.5 1039.5,711.5 1041.5,709.5 1042.5,699 1044.5,695 1044.5,692.5 1047.5,687.5 1049,682 1051.5,680 1051,673.5 1060.5,659.5 1062.5,653.5 1062.5,649.5 1064.5,647 1063,643 1061,641 1061.5,635 1063,633 1064.5,620.5 1069.5,611 1073.5,607.5 1075,607.5 1080,602.5 1082,602 1083.5,599 1086.5,597.5 1087.5,595.5 1090,594 1091.5,589 1093.5,586 1093,584 1096,572.5 1099.5,565.5 1099,565 1101,563 1102.5,559.5 1102.5,553.5 1104,550 1107.5,546 1107.5,539.5 1105.5,538 1099,538 1097.5,539 1081.5,538.5 1076.5,539.5 1067.5,539.5 1064,538 1063,539 1061,537.5 1051.5,538 1050,537 1045,536.5 1044,537.5 1038.5,537 1021,539.5 1019.5,538.5 1009.5,538.5 1006.5,537 1002.5,537 985,530.5 983.5,528.5 972.5,522.5 961.5,512 953.5,496.5 951,483.5 946,469.5 926.5,450 922,440 913,435 909.5,423 898,415 894.5,413.5 892,410.5ZM735,910 735.5,909.5 737,911.5 735.5,912ZM776.5,770.5 777.5,772.5 776,774 775.5,772Z"/>
<path fill="#6fc400" fill-rule="evenodd" d="M440,1390 436,1390.5 433.5,1393 434,1396 433,1398.5 434,1399.5 437,1398 441,1392ZM418,1375.5 416.5,1376 416.5,1379.5 419,1377ZM410,1363.5 406.5,1364.5 400.5,1370.5 400,1372.5 401,1373 403.5,1370.5 407,1371 408,1370 407.5,1367.5 410.5,1366.5ZM534,1349 529.5,1349 525.5,1351 524.5,1353 522.5,1354 522,1352.5 524,1350.5 523,1345 522.5,1348.5 521.5,1349.5 520,1349 517.5,1351 515.5,1354.5 513,1355 513,1356.5 516.5,1356.5 521,1362 520,1364 516.5,1361.5 515,1362.5 517,1366 516,1367.5 516.5,1369 517.5,1367.5 521,1368.5 522.5,1366.5 525,1366.5 528.5,1368 529.5,1367 529.5,1363 531,1361.5 535,1362 536.5,1361 536.5,1356.5 534,1355.5 535.5,1354ZM568.5,1238 567,1239 567.5,1240.5 569,1239.5ZM333,1189.5 330.5,1190.5 330.5,1193 332,1192ZM323,1186 325,1187.5 326.5,1187 326,1186ZM623,1185 624,1187 627.5,1187 625.5,1184ZM623,1179.5 622,1177.5 617.5,1178.5 619,1180.5 621,1179ZM480.5,1169 483,1171 483,1169.5ZM474.5,1155.5 475.5,1157.5 481,1157.5 479.5,1155.5 475,1154.5ZM608.5,1145.5 606.5,1146.5 607.5,1148 609,1146.5ZM454.5,1129.5 453,1129.5 448,1133 449,1134 451,1132 453.5,1131.5ZM632.5,1069.5 628.5,1070 617.5,1076 616.5,1078 615.5,1077.5 615.5,1078.5 621,1078 622.5,1081 621.5,1082 617.5,1079.5 614.5,1081.5 611.5,1086.5 615.5,1088 614.5,1091.5 616,1091.5 617.5,1094 619,1093 621.5,1093.5 622.5,1091.5 625,1091 628,1092.5 631,1089 632.5,1088.5 631,1087 631.5,1085.5 630,1083.5 630,1080.5 633,1074.5ZM609,1062 608.5,1064 610.5,1066 609,1068 611.5,1069.5 615.5,1076.5 615.5,1073 613,1066.5 613,1062.5ZM571.5,1058 570.5,1061 571.5,1063 580,1070.5 579.5,1067.5 581,1065 581,1061 578.5,1060 576,1057.5ZM651.5,1037.5 653.5,1041 659.5,1044.5 659.5,1042.5 657.5,1040 655,1040ZM625.5,1039 628,1039.5 632,1035 625.5,1035ZM639.5,1030.5 640.5,1033 642.5,1034 645.5,1033.5 646,1031.5 641.5,1030ZM629.5,1022.5 627.5,1022.5 627,1026 630,1024.5ZM667,1017 664.5,1014 661,1012.5 659,1013 656,1012 652,1014 647.5,1014.5 645,1016 640,1017 638.5,1018.5 645.5,1024 648.5,1025 661.5,1025.5 665,1026.5 665.5,1025.5 664,1022.5 665.5,1021.5ZM438,943 440,946 443.5,947.5 446,947 445,944.5 440.5,942.5ZM567.5,918 568.5,922 570.5,924 571.5,927 575,929.5 574.5,930 576.5,934.5 578,935.5 579,934 579,931.5 578,930.5 577,925 572,922.5ZM529,855 524.5,857.5 518.5,857.5 517.5,859.5 512,861.5 510,861 507,867 504,870 501,869 497.5,870 493,864 490.5,863.5 489.5,866 490,867 492,867 493.5,870 492,871 490.5,869.5 490.5,873 487.5,874.5 487,877.5 485,878 485,880 483.5,881 484.5,883 483.5,885.5 481.5,882.5 482,881 481,879 477,876.5 476.5,882 475.5,882.5 473,881 469.5,882 466,887.5 460,885.5 455.5,886 455,887.5 457,893.5 459,894 464.5,900 464,903 466,904 470,908.5 468,910 469.5,912.5 469.5,915 467.5,916 462,914 459.5,912 454,913 454,909.5 453,908 454.5,906.5 458,907.5 459.5,909 464,909 461,905 459,905 457.5,903.5 457.5,902 459.5,900.5 457,898 455,898.5 455,901 456.5,903 454,904 453.5,902.5 452,902.5 453.5,904.5 451.5,907 449.5,907 448.5,908 446,907 442.5,907.5 443,909 448,911 448.5,912 445.5,913.5 444,915.5 445,917 444.5,919.5 446,920.5 445.5,921.5 441.5,923 443.5,924.5 446.5,925 448,927 450.5,928 452,930.5 454,931 454,932.5 452.5,933.5 452,937.5 449,936.5 445.5,937.5 449,940 453,941 454.5,943 456,947.5 454.5,949 451.5,948 450,949 452,951.5 454,951 456,954 452.5,954.5 447,952.5 435.5,946.5 433,946.5 430.5,949 427.5,949.5 426.5,950.5 426.5,952.5 437.5,959 435,962.5 429,964 427,962 427.5,967 435,972.5 438,973 441,976 440,977 436,977.5 433,975.5 431,975.5 427.5,978 422,978 422,980 425.5,981 427.5,983 433.5,983.5 435,985 435,987 432,990 426.5,990 422.5,987.5 419,989.5 426,993.5 436.5,993 437,993.5 432,996.5 430.5,996 430,997 440.5,997 439.5,1004 435.5,1007 425.5,1007.5 422,1011 422.5,1012 431.5,1014.5 433.5,1014 439.5,1016 444,1019 446.5,1017.5 452,1017 458,1015 464,1012 465.5,1013 461.5,1017.5 455,1019 455,1020 458,1022.5 461,1023 462,1024.5 459,1028 457,1028 456,1029 458,1033 457,1034 454.5,1033.5 453,1031.5 450.5,1031.5 448.5,1033.5 445.5,1033.5 443.5,1031.5 445.5,1030 448.5,1031 449,1028.5 448,1027 443.5,1027 440,1023 428.5,1016 422.5,1018 421.5,1019.5 421.5,1024 417.5,1026 416,1027.5 416,1029 422,1035.5 424,1036.5 424,1037.5 418.5,1038.5 417,1039.5 416.5,1041.5 421,1043.5 423.5,1043.5 427.5,1047.5 427,1050 424.5,1051.5 420.5,1050.5 415.5,1047 410.5,1048 410.5,1051.5 412,1052 414.5,1055 420,1057 421,1058.5 420,1059.5 413.5,1060 411.5,1058.5 409.5,1058.5 402,1055.5 402.5,1057.5 398.5,1063.5 393.5,1062.5 393.5,1064 395.5,1067 400,1070.5 400,1073 394.5,1076 392,1073.5 389.5,1073 390.5,1080.5 389.5,1082 384.5,1083 385.5,1085.5 383.5,1087.5 379,1087.5 377.5,1086 377.5,1083.5 376,1083 375.5,1084.5 372,1084 368.5,1088 366,1088 366.5,1090.5 370.5,1094 370.5,1098.5 373,1100.5 375,1104 371.5,1107 372,1109.5 370,1111.5 370,1114.5 367,1117 363,1115.5 361,1117.5 361,1121.5 358,1124 357,1128.5 360.5,1131.5 362,1134.5 362,1136.5 358.5,1140 359,1143 360.5,1145 361,1149.5 357,1153.5 354.5,1154.5 354.5,1156.5 356.5,1158.5 355.5,1160.5 353,1161 349,1165 348,1162.5 344.5,1162.5 343,1164.5 344,1166.5 342,1168 340,1167.5 339,1169 339,1171.5 341.5,1175 347.5,1175.5 348.5,1179 351.5,1181 354,1184.5 354,1186 352.5,1187 350.5,1192 349,1193.5 346.5,1193 346,1195.5 344.5,1197 342,1197 341.5,1198 344,1199 350,1198 356,1200.5 356,1202 351,1208.5 350.5,1213 356.5,1212 358.5,1213 361.5,1217 365,1219 365,1220.5 367,1223.5 364.5,1227.5 365,1231.5 367,1232 370,1231 370.5,1234 373,1236 374,1235.5 376,1238 375,1240 375.5,1241.5 372,1248 373,1249.5 375.5,1250.5 374,1254 376.5,1254.5 378,1257 380.5,1256.5 381,1258.5 382.5,1259.5 383.5,1263 383.5,1269 385.5,1271 392.5,1272 398.5,1275 404,1274.5 412,1277.5 417,1276.5 422,1285 418.5,1294.5 415.5,1298.5 410.5,1300.5 407.5,1303.5 404.5,1304 402,1301.5 399.5,1300.5 398.5,1301 398.5,1306.5 401,1305 405,1306 405,1309 403,1312.5 399,1310 396.5,1312 392.5,1311 392,1313 393.5,1315.5 392.5,1318 391.5,1317 388,1317 383,1313 382,1314 382,1317 384.5,1320.5 382,1321 379.5,1320 379,1320.5 380.5,1321.5 379.5,1322.5 377.5,1321.5 375,1322 372,1325.5 373.5,1329 379,1327 380.5,1325 392,1328 393.5,1330 392.5,1332 394.5,1334 392.5,1336.5 396,1338 397,1340 395,1345 396.5,1345.5 399.5,1349.5 402,1350.5 401.5,1354.5 399.5,1355.5 400,1358 401.5,1357.5 402,1358.5 408,1350.5 415,1351.5 416,1352.5 415,1354.5 416.5,1354.5 418,1356.5 416,1359.5 416,1361 418,1362.5 417.5,1363 419,1365.5 419,1370.5 417.5,1372 418,1373.5 421,1369.5 423,1368.5 425,1371 425,1374.5 426,1373.5 433,1373 433,1374.5 431,1376.5 432.5,1377.5 432,1381 433,1381.5 435.5,1380.5 438,1381 443,1378.5 445,1379 447,1381 446,1383.5 442.5,1385.5 442.5,1389 444.5,1388 448,1383 454,1383 457,1386 457,1388.5 459.5,1393 460,1396 464.5,1394 466,1395.5 469,1396 469.5,1398 471.5,1398 475,1401 475,1403 476,1404 478,1404 479.5,1405.5 479.5,1409.5 480,1405.5 482,1403.5 484,1405.5 485,1408.5 489,1412.5 490,1412.5 491,1406 492,1405.5 490,1400.5 491,1396.5 494,1394.5 496,1396 499.5,1396.5 503.5,1396 504,1395 503,1392 496.5,1388 496.5,1385 492.5,1384.5 490.5,1383 488.5,1379.5 488,1376 483.5,1374 483.5,1371 481.5,1367 482,1363 479,1362 478.5,1359.5 484,1357 485,1355.5 481.5,1355.5 479.5,1356.5 477.5,1353 474.5,1351 474,1348 480.5,1344 486.5,1345.5 489,1345 489,1340.5 487,1338.5 485.5,1338.5 484,1336 485,1334 487.5,1334 487.5,1330 493,1331 491.5,1329.5 492.5,1325.5 494,1324 497.5,1326.5 502.5,1327 504,1325.5 501,1321.5 500.5,1319 501.5,1318.5 500,1312 497,1308.5 496.5,1306.5 499,1304 504.5,1305.5 506.5,1303.5 508.5,1305 511,1304.5 514.5,1307.5 515.5,1312 517.5,1315.5 521.5,1313.5 525,1315 528.5,1311.5 530.5,1314.5 531,1317.5 533,1317 535,1319 532,1324.5 532,1327 531,1328.5 532.5,1331 535.5,1332.5 536,1332 535,1330.5 537.5,1328.5 539,1321 538,1320.5 535.5,1315 533,1315 531.5,1313.5 531.5,1311.5 533,1310 534.5,1310 536.5,1306.5 539,1309.5 544.5,1312.5 546.5,1315.5 546,1317 547,1318.5 549,1318.5 549,1312 550.5,1311 552,1312 552.5,1314.5 555.5,1315 557,1313 560.5,1313.5 564.5,1306 566,1306.5 567.5,1309.5 569,1308.5 571.5,1309.5 570,1306 573.5,1306 575,1305 577.5,1300.5 576,1298.5 576,1296 571,1290.5 570,1286 571.5,1284.5 573.5,1284.5 574.5,1285.5 575,1288 577,1290 577.5,1293 578.5,1294 580.5,1293.5 582.5,1297.5 586,1296 587,1292 590.5,1289.5 593.5,1289.5 596,1287.5 597.5,1287.5 598.5,1290 600,1289 602,1289.5 604,1288 604,1294.5 596.5,1304.5 597.5,1308 601.5,1308.5 605,1304 604,1301 605.5,1294.5 609,1297 612,1297 613.5,1294.5 620,1295 621,1293.5 622.5,1286.5 618.5,1283 614,1283.5 613.5,1281.5 615.5,1280 618,1280 620.5,1281.5 624.5,1281 625,1279.5 622,1276.5 617,1277 616,1275.5 618.5,1273.5 617.5,1271.5 612,1269 611,1267 617,1263.5 620,1263.5 621.5,1261 623.5,1261 624,1257.5 627,1260 627.5,1262 628,1254.5 626.5,1253.5 630,1250 629.5,1247 628,1245 620.5,1245 617.5,1243.5 617,1242 623,1238 627.5,1238 626.5,1236.5 623.5,1235.5 624,1232 626,1230 626,1227 628.5,1224.5 630.5,1220 632.5,1218.5 629.5,1216.5 630,1213.5 628.5,1212 627,1212 623.5,1214.5 622.5,1217 620,1219.5 619.5,1222 617,1223.5 616.5,1225.5 615,1225 614,1221.5 611.5,1219 609,1218.5 605.5,1221.5 604,1224.5 600.5,1222.5 599,1223 598.5,1227 597,1228 596.5,1230 596,1228 593.5,1225 590.5,1223 590,1226 591.5,1228.5 593,1235 596.5,1238.5 596.5,1241.5 594.5,1242 592,1238.5 587.5,1236 584.5,1236.5 583,1235.5 580.5,1235.5 578,1233.5 576.5,1236 574.5,1237 573.5,1240 571.5,1240.5 569.5,1243 572,1242 574,1242.5 573.5,1245 579,1253 578.5,1255.5 577.5,1256.5 573.5,1257 570,1251.5 568,1251 568,1258 566.5,1259.5 564.5,1259.5 562,1257.5 561,1254 560,1256 559,1255 558,1250 559,1246.5 558,1245.5 556,1246 550.5,1242.5 550,1239.5 551,1234.5 549.5,1232.5 548,1234 547,1241.5 543,1246.5 541,1245.5 541.5,1238.5 540.5,1237 537,1237 534,1240.5 529,1243 520.5,1244.5 520,1243 521,1241.5 522,1232.5 519,1232.5 515,1237.5 513,1236.5 513,1234 515,1232.5 515.5,1229.5 517,1228 517,1225.5 518.5,1224 524,1223 523.5,1221 525,1219 523.5,1216.5 524,1214 528,1218 527.5,1220.5 529,1222.5 535,1223.5 537,1221 536.5,1219.5 538.5,1215.5 541.5,1212 541,1210.5 538.5,1211 531,1207 531,1203.5 532,1201.5 536,1199 534.5,1195.5 532.5,1195.5 529,1197.5 524,1202.5 520,1204 518,1200.5 520,1197 520,1194.5 519,1194.5 517.5,1192.5 515,1193.5 511.5,1193 512,1190.5 515.5,1186 517,1185.5 519,1186.5 520,1184.5 524,1181 522.5,1179.5 523,1176 520.5,1172 514,1174 512.5,1172 511,1172 508.5,1176.5 507,1173.5 507.5,1170.5 505,1171 506,1173.5 506,1177.5 505,1178.5 503.5,1177.5 503,1179.5 505,1185 506.5,1186 506.5,1188 505.5,1189 489,1168 487,1162.5 484.5,1162.5 484.5,1164 489.5,1168.5 489,1171 485.5,1170.5 484.5,1172.5 492,1180.5 494.5,1181 499,1185 497.5,1187.5 499.5,1191 499.5,1196 498,1198 486,1192.5 478,1191 480.5,1195 481.5,1202.5 480,1204 480,1207.5 479,1208.5 477.5,1208.5 474.5,1206.5 473,1209 468.5,1203.5 463,1204.5 461.5,1208.5 460,1208.5 458.5,1207 456.5,1208.5 454.5,1208.5 451.5,1204.5 447,1205.5 445,1204 445,1202.5 440.5,1200.5 438,1201.5 437,1201 438,1199.5 441.5,1198 442,1195.5 440,1194 440,1193 442,1191 447.5,1188.5 448,1186 445.5,1183 446.5,1180.5 446,1176.5 448,1175 450.5,1175 449.5,1172.5 442.5,1168 442,1164.5 439,1163 439.5,1159.5 441.5,1158 446,1157 447.5,1155 449.5,1156 452,1152.5 451.5,1150 450,1149.5 450,1146 447.5,1146 445,1147.5 444.5,1146.5 446,1143 443,1144 441,1143 441,1139.5 444.5,1135.5 441.5,1135.5 439.5,1138.5 435.5,1137 434.5,1136 434.5,1133 434,1133.5 432.5,1132 432,1130 433,1126.5 430,1124 431,1121 429,1121 428,1119 424,1116 425.5,1109.5 427.5,1107.5 434.5,1104 421.5,1104 414.5,1101 415.5,1098.5 412.5,1095 414.5,1086 413.5,1085 414,1083.5 411,1079 411.5,1076.5 414,1076 411,1072 409,1071.5 408.5,1070.5 412,1068 414.5,1069 417,1066.5 418.5,1066.5 420,1068 418,1069 418,1071 421,1073.5 421.5,1075.5 423.5,1077.5 427.5,1072 432.5,1073.5 434.5,1077.5 433,1081.5 436,1083 436.5,1080 435.5,1079 438,1075.5 441,1074.5 442.5,1076.5 443.5,1076.5 445,1073 450,1073 450.5,1071 456.5,1065.5 456.5,1064 459,1061 465,1059.5 467,1060 469,1058.5 472.5,1060 473.5,1058.5 477,1058 479,1059 480,1058.5 481.5,1060 484.5,1059 489.5,1059.5 493,1057 495.5,1061 496,1068 497,1068 498.5,1066 500,1068 505.5,1067.5 508.5,1069 510,1071 513.5,1073 514,1078.5 519,1083.5 522.5,1084.5 526.5,1089 523.5,1092.5 526.5,1093 528,1095 528.5,1099 531.5,1103 534,1110.5 537,1113.5 536,1115 533,1116 534,1119 531.5,1120.5 532.5,1125.5 536.5,1127 539,1125.5 541.5,1126 542.5,1127 541.5,1130.5 542.5,1133 547,1135 550,1134 551.5,1137 553.5,1137 555.5,1140 561.5,1145 565.5,1146 568.5,1148 571,1152.5 570.5,1154 577,1154 584,1160 585.5,1160 588,1163.5 591.5,1165 601,1166.5 602,1167.5 602,1169.5 600.5,1172.5 602.5,1176 601.5,1180 604,1178.5 606,1178.5 611.5,1182 615.5,1180 616.5,1177.5 612,1171.5 614,1171 616.5,1172 619.5,1171 620,1169 618,1166.5 616.5,1169 613,1168 613,1166.5 617,1164 617.5,1161 619.5,1158 619.5,1156 616.5,1150.5 617,1149 614.5,1146.5 611.5,1146.5 610,1150 605,1150 603.5,1147.5 605.5,1146.5 605.5,1144 602,1142.5 601.5,1139.5 603,1138 605,1138 606.5,1139.5 609.5,1139.5 612.5,1141 618,1140 617,1138 620,1134.5 607.5,1130 606,1128 605.5,1125 607,1124 610.5,1124.5 612,1123.5 617.5,1124 620.5,1122 623.5,1121.5 624,1120 621.5,1118.5 619.5,1118.5 618,1117 612.5,1117.5 608.5,1113.5 607.5,1110 609.5,1106 613,1106 614.5,1108 611.5,1109.5 612,1114 614.5,1114.5 616.5,1113 620,1114 623.5,1112 621,1109 625.5,1105 626,1103 620,1099.5 614,1099.5 609,1097 608.5,1095.5 611,1093 611,1091.5 610,1090.5 608,1091.5 606.5,1090.5 607.5,1085.5 606,1083.5 603,1083 603,1076.5 598,1072 596.5,1071.5 594.5,1073.5 592.5,1074 587.5,1080 587.5,1089.5 586.5,1089 586.5,1087 585,1084.5 583,1083.5 581.5,1089.5 573.5,1091.5 571,1089.5 571,1087.5 565.5,1078 564,1076.5 562,1076.5 556.5,1071.5 556.5,1068 555,1065.5 555,1063 551.5,1062.5 549.5,1060 546,1060.5 544,1063.5 544,1069 543,1070 542,1068.5 542.5,1066 541,1065 541,1062.5 537.5,1062 536.5,1061 537,1057.5 539,1057 536,1050 537,1049 538.5,1050 537,1048.5 536.5,1039 535.5,1037.5 531,1036 527.5,1033.5 528,1030.5 526,1024.5 522,1020.5 522,1018 520,1018.5 517.5,1017.5 517.5,1015.5 516,1014.5 517,1012 515,1010 518.5,1008.5 521,1011 520,1013 522.5,1017 523,1016.5 526.5,1019 526,1017 527.5,1016 528.5,1017 527.5,1020 529,1022 531.5,1020.5 533,1021 539,1026 539,1027.5 541,1029.5 541,1032 539.5,1035.5 542.5,1035 543.5,1036 548.5,1036 548.5,1035 554.5,1031 555.5,1029 561,1029 563.5,1031.5 566,1031.5 567.5,1033 572.5,1031.5 565.5,1019 564.5,1015.5 565,1012 563,1007 563.5,1005 566,1006 568.5,1005.5 573,1008 575,1008 580.5,1012.5 585,1014 592,1026.5 594,1027.5 595.5,1024.5 596,1020.5 597,1021 597,1023 599.5,1025.5 600,1027.5 601,1026.5 600.5,1024.5 595.5,1017.5 596,1016 601.5,1018 606,1022 607.5,1022 611.5,1017.5 614,1017 614.5,1014.5 616.5,1012.5 617.5,1013 618,1011.5 622.5,1008 624,1009 624,1010.5 620.5,1014 620.5,1015.5 631,1012.5 629.5,1009 633,1006.5 632,1004.5 627.5,1005 626.5,1004 623.5,1006.5 620.5,1003 621,1001 622,1000 623,1000.5 622.5,998.5 620,998.5 616.5,996 616,993.5 619.5,986 619,985 615.5,985.5 615.5,981.5 612.5,980 614.5,973.5 613.5,972.5 606,972.5 611,965 611,962 609.5,960.5 607,960 606.5,952 605,952 604,957 603,958 601,957 600.5,954.5 598.5,954.5 595,959 595,963.5 590.5,960 591,959.5 590,958 588.5,958 591,962.5 587.5,967.5 589.5,971 587.5,974 586,974 583.5,972 578.5,976.5 578.5,979.5 576.5,981 566,983 560,982.5 557.5,986 557,989 558,990.5 558,993.5 555.5,997.5 553.5,997 555,994.5 554,993.5 553,988.5 551,986 548,984.5 544,985 537,980.5 536,977.5 533.5,975 533.5,972.5 532.5,971 533,967.5 529.5,962.5 530,960.5 531.5,959.5 534.5,959 539.5,962.5 543,966 543.5,973.5 547,974 549,976.5 550,976.5 552.5,974.5 561,974.5 564.5,973.5 570.5,969.5 577.5,968 579,969 582,966 582,964 586,960.5 587.5,957 584,952.5 582,952 578.5,954 573,954.5 572,956.5 566.5,952.5 565,953 561.5,960 559.5,961 558.5,963 556.5,962 552.5,962.5 550.5,958 548.5,958 546,959.5 543,957 540.5,956.5 539,954 536.5,954.5 535.5,953.5 537.5,949 535,948.5 535,943.5 534,941.5 535,940.5 534.5,937 529.5,939.5 527,938.5 524,934.5 519,935 516.5,933.5 519,929 517,929 516.5,927.5 519,926.5 516.5,925.5 514,923 513.5,921 514.5,920 519,922.5 520.5,925.5 521.5,925.5 521.5,921.5 522.5,919.5 524,919 525,920 524,924 528.5,923 533,926 534,924 537,924 538.5,923 540.5,924.5 545.5,924 544.5,922 545,920 546,920 547.5,922.5 551,924 555,923 555.5,920 558.5,917.5 559.5,917.5 563,921 562.5,916.5 563.5,915.5 566.5,916 567.5,915.5 568,913 570.5,912.5 572,902 571,900 570.5,893 571.5,892 571,891.5 574.5,889.5 576,887.5 576,885.5 575,884.5 571,884.5 564.5,879 565,876 560.5,876 559,874.5 556,875 552.5,871 551,871 549,868.5 546.5,868 545,863 542.5,860.5 539.5,861 538.5,860 538.5,857.5 535.5,857 532.5,858ZM432.5,1375.5 434.5,1374.5 438,1377 438,1378.5 436.5,1379 433.5,1377.5ZM435.5,1374 437.5,1371.5 440.5,1372.5 439.5,1374.5 436.5,1375ZM388.5,1323 389.5,1322.5 392,1324.5 390.5,1325ZM496,1320.5 498.5,1321.5 498,1324.5 495,1321.5ZM400.5,1313.5 402.5,1313 408,1317 405,1317ZM563.5,1297.5 564.5,1298.5 564,1300.5 563,1299.5ZM524,1291 525,1290.5 527.5,1293 531,1294 534,1297.5 534,1300.5 532.5,1301 530,1298 529,1298.5ZM554.5,1278 555.5,1279.5 555,1282 553.5,1283.5 551.5,1281.5 549.5,1281 550,1280 552,1280ZM524.5,1268 525.5,1268 527,1270.5 527,1273 525.5,1275.5 524,1275.5 523,1274ZM579,1265 582,1264 583,1266 579.5,1266.5ZM518.5,1253.5 519.5,1253 520.5,1254 525.5,1255 531,1261 530.5,1264 533,1265 524,1265.5 521,1262ZM527.5,1253 528.5,1252.5 531,1254 533,1252.5 535,1253 535.5,1254 533,1255 536,1258 534,1258.5 530.5,1256.5ZM512.5,1229 512.5,1230.5 511,1231.5 510,1230.5ZM512.5,1229 513.5,1226.5 515.5,1227.5 515,1228.5ZM508.5,1213.5 509,1215.5 507.5,1216.5 507,1214.5ZM503,1210 504,1213.5 502,1215 503,1219 501.5,1223.5 496.5,1228 496,1224 498.5,1217.5 496.5,1217 496,1215.5 497,1214.5 500,1214.5 501,1211.5ZM531,1207 528.5,1209 527,1208 530,1206.5ZM520,1206.5 521.5,1208 524,1208 525,1209 524.5,1210 522,1210.5 521,1213 519.5,1211.5 520,1210.5 518,1209.5ZM492,1173.5 493,1174.5 492.5,1176 491,1175.5ZM587.5,1158 588,1159 586.5,1160.5 586,1159ZM599.5,1150.5 601,1151.5 600.5,1152.5 601.5,1153.5 601.5,1155.5 600,1157 598,1156.5 600,1154 599,1152.5ZM583,1149 583.5,1151 581,1153.5 580,1152.5 580.5,1150.5ZM587,1133.5 595,1135 598,1137.5 597.5,1140.5 593,1140.5 593,1141.5 594.5,1141 597.5,1146 596.5,1147 595.5,1147 593,1143.5 587,1139 589,1138.5 592,1140.5 586,1136ZM618.5,1106.5 619.5,1107.5 619,1109.5 617.5,1108ZM428,1104.5 428.5,1106 426,1108 425,1106.5ZM597,1105 598,1104 603,1104 604,1105 602.5,1106.5 598.5,1106.5ZM607,1095 606.5,1098 603,1101 594,1102 592.5,1101 594,1097.5 599,1093.5 603.5,1093ZM525,1054.5 528.5,1051.5 533,1053 536.5,1056 535.5,1061 534,1062 534,1059.5 533,1058.5 526.5,1058ZM521.5,1050 522.5,1050.5 522,1053.5 520,1052ZM508,1054 511,1050 517.5,1050 519.5,1051 518.5,1053.5 512.5,1058.5ZM509,1046 510.5,1046.5 511.5,1049 509.5,1050.5 507.5,1049 507.5,1047ZM518,1042.5 519,1043.5 519,1046 516,1049.5 515,1049.5 514,1047 515.5,1046 515.5,1044ZM448.5,1039 449.5,1037 451.5,1037.5 450.5,1039.5 449.5,1040ZM450.5,1007.5 449,1010 445.5,1011 444.5,1010.5 448,1007ZM609,1003 610,1002.5 611,1004 610,1005ZM615,985.5 616,987 615,988.5 612,988.5 610,991.5 608.5,990.5 609,989ZM487,985 490,985 492,987.5 492.5,984 494.5,986 495.5,985.5 496.5,988 495,988.5 495,990.5 496.5,990.5 498,988 499.5,988 501.5,992.5 512.5,1001 512.5,1002 514.5,1003.5 515,1006.5 511.5,1011 507,1012 506,1010.5 503,1010 496.5,1004 496,1001.5 493.5,1001 492,1002.5 489.5,1002 488.5,1001 489,998.5 486.5,998.5 485.5,999.5 481.5,999 483,996 486.5,995 489,992.5 490.5,992.5 489,988.5 486.5,986ZM539.5,922.5 541,921 542.5,922 542,923.5 540,923.5ZM464,918 468.5,922 468.5,924.5 463,921 462.5,919.5ZM472,917.5 474.5,917 476,919.5 474.5,920ZM806.5,763.5 804.5,764.5 805,766.5 806.5,765.5ZM789,699 787.5,700 786.5,699 781.5,698.5 783.5,702 784,706 785,703.5 788.5,703ZM872.5,404 867,403.5 863.5,406 861,409.5 858.5,410.5 856,415 852.5,418.5 851.5,424.5 849.5,426.5 848,431.5 841,440.5 839.5,445.5 836.5,448 835.5,451 831,456 828.5,461 820,470 818,471 816,474.5 816,483 813.5,487.5 814.5,495 813.5,496 813,514.5 815.5,521.5 815.5,525.5 820.5,533 820.5,537.5 822,540 821,550 816.5,556.5 816.5,559.5 812.5,567 812.5,571 811.5,573 806.5,578.5 806,581.5 802,584 800.5,594.5 796.5,599 797.5,600 797,602.5 794.5,603 792.5,605 788.5,605.5 785.5,608.5 786,611 783.5,616.5 778.5,619 776.5,621 776.5,623.5 775.5,625 775.5,638.5 774.5,639.5 768.5,639 766.5,640 757.5,650.5 754,651.5 750.5,654.5 751,664.5 742.5,680 743.5,681 743.5,683 737,689 735,692 743,687.5 745,687.5 750,683 751,684 753.5,684 754,681 755.5,680 761,684.5 763.5,684 763.5,682 765.5,679.5 767,680 767,682 768,682.5 770.5,681 769.5,678.5 767.5,678.5 766,677 768,674 769.5,673.5 772,674.5 773,676 771.5,677.5 772.5,678 772.5,676.5 774,676 775,672.5 776,671.5 779,671.5 780.5,674 778.5,675 778.5,678 780.5,680 780.5,684 782,687 787.5,691 790.5,695 794.5,696.5 791.5,700 791.5,703 792.5,704 791.5,708 789,709.5 792,711.5 792,713 794,714 794,716 792,716.5 792.5,720.5 795,723 796,727 799.5,730 801,734 800,737 803,737.5 805.5,741.5 808,742.5 807.5,746.5 809,750 811,751.5 810.5,752.5 812,753.5 812,755 814.5,757 814.5,759 815.5,760 807.5,771 809.5,771 812,768 813,768 814.5,770 818.5,770 820,769 822,770.5 824,770.5 833,766.5 838.5,769.5 845,768.5 848,770 850.5,768.5 851.5,769.5 851.5,771.5 854,767.5 857,768.5 860,765 864.5,767.5 869.5,763 874,762 876,764 875.5,766 869.5,772 869,774 866.5,776.5 864.5,775.5 861.5,776.5 860.5,775.5 861.5,774.5 860.5,773 858,773.5 855,776.5 853.5,781 848,784.5 842,785 838.5,784 833.5,786.5 819.5,785.5 817,787.5 813.5,788 813,786 808.5,786 806.5,784.5 801.5,786.5 793.5,782.5 791.5,785.5 790,785.5 789,784.5 786,784.5 785.5,783.5 782,784 782,783 777.5,782 770.5,786.5 768.5,785.5 762.5,787.5 762,788.5 748.5,795 741,800.5 738,801 729.5,805.5 726,808.5 725.5,810 729.5,812.5 731.5,815.5 730,819 734,820.5 737.5,828 747,841.5 759,844.5 771,849 773,848.5 779.5,850.5 779.5,861 782,864.5 781.5,867 784,869 784,870.5 787,874 783,876.5 781.5,879 783,879 784.5,880.5 790,880.5 791.5,883.5 790.5,885 788.5,883 788,883.5 789.5,890.5 786.5,891 786,892.5 787,895 788.5,895.5 787,897.5 787,899.5 788.5,901.5 787,903 787.5,905 786.5,906.5 784.5,905 785,907.5 783.5,908.5 783.5,909.5 785.5,911 786,915 789.5,910 796,904.5 799.5,899.5 799.5,897.5 796.5,899 794,898.5 792,896 792,893 795.5,891 797.5,892 804,892.5 807,888 808.5,888.5 808.5,890 810.5,888 814,887.5 817,884.5 826.5,880.5 826.5,878 831,875.5 835.5,876 836.5,877 842,875 843,870 844.5,867.5 845.5,859.5 847,856.5 846.5,854 848.5,848.5 848.5,844 852,832 851.5,831 853,829.5 856.5,820.5 865.5,809 874.5,806 881,805.5 890.5,808.5 892.5,810.5 897,811.5 902.5,809.5 911.5,810 912.5,809 928,804.5 934,797 937,795 940,794.5 942,792.5 941,790.5 940.5,780.5 942,776.5 942.5,770 945,767 952.5,765 965,753 971,751.5 974,748.5 979.5,747 987,747.5 993,745 995,742.5 1001.5,740.5 1007.5,736.5 1021,731 1025,726.5 1027,726.5 1029,723 1034,718.5 1037.5,710.5 1039.5,708.5 1040.5,699.5 1042.5,694.5 1042.5,692 1046,685.5 1047,682 1046.5,681 1047.5,679.5 1049.5,679 1049,673.5 1053.5,665.5 1058.5,659.5 1061,653.5 1060.5,649 1062,645.5 1059,641.5 1059.5,634.5 1061.5,629.5 1062.5,620 1068,609.5 1072,606 1076.5,604 1078.5,601 1080.5,600.5 1082.5,597 1085,596 1089,592 1089,590 1091.5,585.5 1091,583.5 1092,582 1094.5,569 1099.5,560.5 1101.5,550.5 1105.5,544.5 1105.5,540.5 1102,540 1096.5,541 1081.5,540.5 1076.5,541.5 1067.5,541.5 1064,540 1051,539.5 1047,538 1041.5,539.5 1038.5,539 1021,541.5 1020,540.5 1012.5,540.5 1004,538.5 999.5,538.5 999,537.5 987,533.5 981,530.5 976.5,526.5 971,524 960.5,514 951.5,498 949,483.5 944,470.5 924.5,451 920.5,441 911.5,436.5 907.5,424.5 887.5,410.5 884.5,407.5ZM791.5,893.5 790,895.5 788,895 790,893ZM822,873.5 824.5,872.5 825.5,874.5 823.5,875.5ZM790.5,664.5 792.5,664 793,665.5 791,666ZM755,663.5 755.5,665 754,666 753.5,664.5ZM788.5,612 789,614 787.5,616 786,614.5Z"/>
<path fill="#b2e00a" fill-rule="evenodd" d="M541.5,1295 540,1299 542,1303.5 542,1306.5 543.5,1308.5 545.5,1309 546.5,1302.5 544.5,1298.5 544.5,1295.5ZM556.5,1294 555.5,1295 555.5,1300 553.5,1307.5 558,1307.5 560,1308.5 561,1307 560.5,1296 559.5,1294.5ZM532.5,1286.5 533.5,1288.5 536,1289.5 537,1289 536,1286.5ZM578.5,1281.5 578.5,1283 580.5,1285 584,1286 586.5,1285.5 588,1283 586.5,1280.5ZM545,1271 544,1270 542,1271 536.5,1270.5 535.5,1273.5 533,1276 534.5,1276.5 536,1275.5 540.5,1275 540.5,1276.5 538.5,1278 542,1278 542.5,1276.5 541,1275.5 545,1273ZM576,1268.5 573.5,1269.5 573,1271 574,1271ZM593.5,1255.5 592.5,1256.5 592.5,1260 595.5,1262.5 598,1259.5 598.5,1257.5ZM554,1254.5 552.5,1255 550.5,1259 554,1258ZM591,1252 590,1254 592,1254.5 593,1252.5ZM615.5,1251 620.5,1252 622.5,1250.5 626.5,1250 627,1248.5 624.5,1247.5 622.5,1248.5 620.5,1247 618,1247 615.5,1249.5ZM586,1245 585,1244.5 581.5,1248 581.5,1249 583,1249 584,1247.5 586,1247ZM537.5,1244 535.5,1243.5 534,1244.5 531.5,1244.5 528.5,1245.5 527.5,1247 528.5,1247.5 533.5,1246 534.5,1247.5 537.5,1246ZM610,1224.5 609,1226 609.5,1234.5 610.5,1235.5 612.5,1235.5 614,1234.5 614.5,1230 612,1225.5ZM517,1219 517.5,1220 520,1219.5 519.5,1218.5ZM517.5,1179.5 514,1180.5 514,1181.5 515.5,1182 517.5,1180.5ZM608,1167 605.5,1169.5 605.5,1172.5 604,1175 605,1176.5 608,1173 609.5,1172.5 610,1171ZM603.5,1155.5 605.5,1160 607,1160 609,1158 609,1156.5ZM612,1156.5 612.5,1159.5 617,1159.5 618,1158 618,1156.5 616.5,1155 614.5,1155ZM591,1115 591.5,1116 601,1117.5 597,1117 592.5,1114.5ZM578,1111.5 575,1111.5 573,1113.5 572.5,1116.5 574.5,1114 577.5,1114 578.5,1113ZM591.5,1093.5 589.5,1093.5 587.5,1090.5 582.5,1095.5 581,1092.5 578,1091.5 577,1092.5 577.5,1095.5 575.5,1098 575.5,1101 572.5,1103 572.5,1105 570.5,1106 571,1106.5 578,1103.5 578.5,1104 577.5,1105 579,1107 582.5,1108 584,1107 587,1106.5 584.5,1104 583.5,1101.5 588,1098 592.5,1096ZM625.5,1087.5 627,1089 629,1088.5 628.5,1086.5 626.5,1086.5ZM596,1086.5 598,1087.5 600,1086.5 600.5,1085 597,1084.5 596,1085ZM404.5,1072 403.5,1076 402,1077.5 400.5,1077.5 399,1079.5 394,1079.5 392,1082 392,1086 389,1086.5 385.5,1089.5 379,1091 377.5,1093 376,1093 376,1100 379,1105 375,1107.5 375,1111 373,1113.5 373,1117 371,1118.5 367,1119.5 366,1120.5 366,1123 363.5,1126 364,1127.5 362.5,1130 362.5,1132.5 365.5,1137.5 363,1139 362.5,1144 365,1150 363,1153 358.5,1156.5 359,1161 355.5,1162.5 354,1167.5 352,1170 353.5,1177 355.5,1179.5 355.5,1183 357,1184 355,1189.5 353,1191.5 353,1194 354,1195 353.5,1196 354.5,1197.5 358.5,1198 359.5,1199.5 355.5,1206 357,1208 357,1210.5 362,1212 370,1221 369.5,1224 371,1228 374.5,1229 374.5,1232.5 378.5,1237 378,1242.5 376,1244.5 375.5,1246.5 376,1247.5 380,1249 380,1251.5 381.5,1255 382.5,1255 386.5,1259 386,1265.5 388,1267 389,1269.5 394,1270.5 395.5,1272 398,1272 400,1273.5 403,1272.5 406.5,1269.5 408,1271 407.5,1274 412,1275.5 416.5,1274.5 418.5,1275 420.5,1279.5 423.5,1282.5 423,1289.5 420,1295.5 416.5,1300 411.5,1302.5 411,1305 409,1306.5 409.5,1309 408.5,1312.5 410.5,1314.5 411,1317 413,1318 416.5,1322.5 413.5,1322.5 409,1320 405.5,1320 401,1323 398.5,1327.5 396.5,1328.5 395,1328 398.5,1332 398.5,1334 397,1336.5 399,1338 400.5,1345.5 404,1348.5 407,1348.5 408.5,1347.5 413.5,1348.5 417.5,1347 419.5,1344.5 420.5,1347 418,1352 420,1354.5 422,1355 420,1357.5 420,1360 421.5,1362 423.5,1362 428,1364.5 435.5,1364.5 441.5,1366.5 445,1371 446,1375.5 447.5,1375.5 449,1377 450,1380.5 456.5,1380.5 460.5,1384.5 462.5,1388 463,1391 465.5,1389.5 470.5,1390.5 476,1396 479,1401 482.5,1401 486,1399.5 486.5,1397 488.5,1396 489,1393.5 491.5,1391 491,1390 492,1387 488,1385 481.5,1385 480.5,1384 482.5,1380 478,1376 478,1371.5 479.5,1369 478.5,1367 479,1366 477.5,1364 474,1363 477,1358 474.5,1357.5 472,1355.5 469.5,1349.5 471.5,1346 476,1344.5 478,1341 480.5,1341 481.5,1340 480.5,1335 478,1331 479.5,1329 483.5,1330.5 481.5,1324 483,1323 489,1325 490,1323 492,1322 491,1317.5 493,1317.5 495,1316 492,1311 492.5,1307 488,1301 489,1299.5 490.5,1299.5 494,1297 498.5,1299.5 511.5,1299 512,1297.5 511,1296.5 510,1291 514.5,1287.5 513,1285.5 515.5,1283.5 527.5,1283.5 531.5,1285.5 528.5,1283.5 521.5,1281.5 519.5,1281.5 518.5,1283.5 514.5,1283 512.5,1284 511.5,1283 514.5,1281 515.5,1276.5 517.5,1274.5 519,1270.5 516,1271.5 514,1274.5 508,1276.5 506,1279 504.5,1278.5 503,1274.5 501,1273.5 504.5,1271.5 509,1272 508,1271.5 508.5,1270.5 510.5,1271 510.5,1270 507.5,1270.5 506.5,1269.5 508.5,1267.5 516.5,1267 513.5,1267 511,1265 512.5,1262 513,1255.5 509,1254.5 505,1256.5 503,1255 500,1255 508,1247.5 507,1246.5 508.5,1242.5 504.5,1245 503,1245 502,1243.5 502,1240 504,1238.5 502,1235.5 504.5,1232.5 504,1231 507,1226.5 506.5,1225.5 501.5,1228 495.5,1234.5 494.5,1236.5 495,1248 494,1248.5 491,1245 491,1240 489,1237.5 489,1235 491,1232 492.5,1219 494,1215 494,1212 495,1211 495,1209 491.5,1207 491.5,1206 493.5,1205 493.5,1201.5 487,1197 484.5,1197 486.5,1199 487.5,1204 485.5,1205 485.5,1206 487.5,1208 487,1210.5 487.5,1212.5 488.5,1213 488.5,1218.5 485,1226 483,1223 480,1221.5 478,1217.5 477,1217.5 477,1213.5 476,1212 474.5,1215.5 474.5,1218.5 472,1221 471,1219.5 472.5,1215 470.5,1212.5 469.5,1212.5 468,1215 465.5,1215 463,1217 460.5,1216.5 458,1219 454,1221 454,1218.5 456.5,1216 456.5,1214 457.5,1213.5 455.5,1212.5 454,1216 451.5,1217 450.5,1216 451,1210 448,1209 445,1211 443.5,1211 438,1206.5 436.5,1207 436,1209 435,1208.5 433,1204.5 434.5,1200 432.5,1199 428.5,1199 427,1197.5 428,1195.5 430,1194.5 432,1195 432,1192 433,1191 435,1191.5 443.5,1186 439.5,1181 440,1178 442,1176.5 442,1174.5 439,1171 434,1170.5 432,1168 433,1164.5 435,1164.5 433,1163.5 433,1161.5 439,1156 438.5,1151.5 439.5,1149.5 438,1151.5 434.5,1150 435.5,1145 435,1141.5 430,1137.5 428,1134 428,1130.5 429,1129 427.5,1126.5 428,1123.5 420,1116 420,1115 415,1118 414,1116 417.5,1111.5 416,1109.5 418,1106 413.5,1104 410.5,1101 411.5,1097.5 409,1094 411,1092.5 411,1084.5 407.5,1080.5 407,1077ZM474.5,1377.5 475.5,1374.5 478,1376 475.5,1378ZM464.5,1366.5 466,1366 466.5,1367.5 465.5,1368ZM424,1329.5 425,1330.5 424,1333.5 423,1332ZM483,1281.5 487.5,1287.5 487,1289 485,1288 482.5,1283.5ZM482,1277.5 483,1280 481.5,1280 478,1284.5 477,1282.5 479,1279.5ZM481,1252.5 486.5,1253.5 488,1252 489.5,1252 492,1253.5 492,1254.5 490.5,1255 491.5,1258 486.5,1260.5 485.5,1263 482,1265.5 482.5,1268 483.5,1267.5 488.5,1269.5 485.5,1273.5 491,1277 491,1279 492.5,1281.5 492,1283 487,1283.5 481,1276 477.5,1277.5 475.5,1275.5 475.5,1272.5 477.5,1271.5 478.5,1272 479,1271 475,1271 472.5,1269 474.5,1265 480,1262 479,1257.5 482,1257 480,1254.5ZM574.5,1061 572.5,1062 573.5,1064ZM508,1060 507,1063 507.5,1065.5 515,1072.5 516,1076.5 521,1082.5 525.5,1084.5 528,1084 529.5,1085 532,1082 533,1082.5 532,1085.5 527.5,1090.5 531,1090 533,1091 533.5,1095 537.5,1095 539,1096.5 539,1101 544,1107 543,1111 544.5,1114 546.5,1115 550,1115 552,1114 552,1112.5 549.5,1112 552.5,1109 554,1110 553.5,1112 556,1114 552,1117 549,1117 546.5,1118.5 546.5,1121 548.5,1124 547.5,1125.5 548.5,1129 554.5,1128.5 554.5,1132.5 557.5,1135 560,1139 563,1141.5 567,1140.5 571,1144 572.5,1147 572.5,1149 571.5,1150 573.5,1151.5 574.5,1149.5 579,1146.5 582,1140.5 584,1141 584.5,1143 587.5,1145 588.5,1150 590,1150 591.5,1147.5 590,1143.5 581.5,1136.5 578.5,1132 575,1130 575.5,1129 578.5,1130 578,1127 581,1126 582.5,1124 577,1121.5 574.5,1121.5 572,1123 569.5,1122.5 566.5,1119.5 566,1118 567.5,1115.5 567.5,1110 565.5,1106.5 565,1104 566,1102 564.5,1099.5 565.5,1097 565,1095.5 567,1094.5 568.5,1091 567.5,1089 568.5,1087.5 567.5,1085.5 567,1086.5 565,1086 566.5,1084 564.5,1079 562,1078 559.5,1079.5 555.5,1086 555.5,1079.5 553.5,1070 551,1066 549.5,1066 547.5,1070.5 547.5,1073 546.5,1074.5 545.5,1073.5 544.5,1076.5 543,1076.5 539.5,1073 537.5,1075 536.5,1074.5 536.5,1076 533,1082 530.5,1077 535,1073.5 536.5,1068.5 535.5,1066.5 529.5,1064.5 527.5,1061.5 524,1059.5 524,1058.5 516.5,1058.5 514.5,1061.5 510,1059.5ZM558,1109.5 561,1110.5 559.5,1114 557,1113ZM552,1105.5 554.5,1105 555,1106.5 553,1107ZM555,1103.5 556.5,1103 557,1104.5 555.5,1105.5ZM562,1092.5 564,1094 563,1096.5 561.5,1095.5ZM589.5,1009 589.5,1010.5 591,1011.5 595,1011.5 593.5,1010 590.5,1010ZM442,989 440.5,988.5 439,991 441,990.5ZM606,980.5 602,981 599,983.5 604,983.5 606,982.5ZM559.5,986 561,991 560.5,995 563,996.5 565.5,1004.5 566.5,1004.5 565.5,1002.5 566.5,998 567.5,1001.5 571,1005 577.5,1007.5 579,1009.5 583,1011.5 586.5,1010 589,1007 593.5,1007 596.5,1008.5 599,1008 602,1009 603.5,1010.5 605,1009.5 611,1016 613,1015 612,1012 605.5,1007.5 603,1004 600,1002.5 593,1002 591.5,1001 594.5,998.5 596.5,999 597.5,998 600.5,998 600.5,996.5 598.5,995.5 593,996 592,995 592,993 593,991.5 595,993 597.5,990.5 601,989.5 601.5,988 595.5,989 594,987.5 595,985.5 589.5,985 589,984 590.5,982 586,981.5 583.5,978.5 584,977 583,977 582.5,980 583.5,982.5 583,987 580.5,990.5 579,989.5 575.5,990.5 574,988 570.5,987.5 572,991 568.5,992.5 565,989.5 565.5,988 564,986.5 565,984.5 560.5,984.5ZM560,969 559.5,970 560.5,972 562.5,972 562.5,969.5ZM585,957.5 581.5,956 578,956 578,957.5 576,960 567.5,963.5 563.5,966.5 566,965.5 570,965.5 571.5,966.5 576.5,966 582.5,960.5 580.5,959.5ZM459,920.5 457.5,921.5 458.5,923 460,922.5ZM471,903 471,904 475,907.5 476.5,907 476.5,906 473.5,903.5ZM465.5,895.5 468,899 468,896ZM540.5,864.5 535.5,865 534.5,864 532.5,864 530.5,865 529,861 525.5,859 519.5,859.5 519,861 512,864 510.5,866.5 511.5,867.5 510.5,869.5 508.5,870.5 505,875 499,878 498.5,879 499.5,881 498,883 498,886 496,888 489,890 489,893.5 490.5,895.5 490,898 492,899.5 492,902 490,904 490.5,907.5 488.5,909.5 488,908.5 485,907.5 482.5,908.5 480.5,913 481,914.5 480,916.5 480,920 477,923 474,924 472.5,927 469.5,928 465,925.5 461.5,925 466.5,933 466,935 461,938.5 463,944.5 460.5,948.5 458,950.5 459,955.5 456,957.5 444,955 439.5,955.5 442,960 450,961.5 451.5,965.5 450.5,968 446,966 439,966.5 436.5,968.5 441.5,971.5 444.5,972 448,975.5 448,978 446.5,979.5 440.5,981 445.5,981 447.5,983 446,985 448,989.5 453,994 453.5,998 448.5,1003 450,1003.5 452,1002.5 454.5,999 456,999 457,1000.5 459,1000 461,1001.5 460,1004 460.5,1005.5 463.5,1007 466,1010 468,1010 468.5,1012 467.5,1014.5 468,1017 463.5,1020 466.5,1022.5 465.5,1024 467,1026.5 462,1031 459,1035.5 453.5,1038.5 453.5,1040.5 452,1042 446.5,1045 446.5,1047 443.5,1051 440,1052 437.5,1051.5 438,1053 434,1055.5 432,1059 427.5,1058.5 428.5,1060 427.5,1062.5 429,1062.5 429.5,1063.5 427,1064 426.5,1065.5 431,1066 432.5,1069 434.5,1070 435.5,1072.5 439,1071 440.5,1071.5 444,1069 448.5,1070.5 450,1066 454,1064.5 453.5,1064 455.5,1060 458,1057.5 462.5,1057 464.5,1055 466.5,1054.5 467.5,1052 469,1051 470.5,1051.5 472,1054.5 473.5,1053.5 476.5,1053.5 481.5,1057.5 487,1056.5 489,1055 488.5,1053.5 489.5,1052 494.5,1055 498.5,1052.5 500.5,1054 501.5,1050.5 503.5,1049 505.5,1044 508,1042 511,1042.5 514.5,1036 516,1037.5 516.5,1040.5 518.5,1039 524,1039 525,1040 525,1042 522.5,1045 523,1046 525.5,1046 528,1043 529.5,1044 535,1043 535,1040.5 534,1039 531,1038.5 526.5,1041 521,1034.5 521.5,1033.5 522.5,1034 523,1032 526,1030.5 525,1027.5 518.5,1020 516,1019 516,1018 513.5,1016 513,1013.5 509.5,1013 506.5,1014.5 496,1008.5 490.5,1007.5 488,1008 487,1007 484,1007 481.5,1009.5 478,1009 476.5,1012 470.5,1009.5 471,1007.5 470.5,1003 469,1000 470.5,998 474,999 474.5,994 482,988.5 483,986.5 481.5,983.5 482,981.5 484,981.5 486,980 489.5,982 489.5,979.5 491,978 494.5,978.5 494,974 495,970.5 497,971.5 498.5,974 498,982 500,983.5 503,984 507,989 507,992 511,995 511.5,998 516.5,1002 517.5,1006.5 521,1007 524.5,1012 531.5,1017 531.5,1018.5 535,1019.5 540,1024 544.5,1034 548.5,1032.5 554,1027.5 558.5,1027.5 561,1026 562.5,1026 564,1029 565.5,1029 566,1028 568.5,1029 567,1025 561.5,1020 562,1018.5 559.5,1016.5 562.5,1012 562,1009 557,1004.5 554,1005.5 552,1003 549.5,1002.5 547,1000.5 549.5,998 550,996 549.5,987.5 546,986 540,989.5 539.5,984 536,983 534,978 532,976 530.5,971.5 530.5,967.5 528,962 529,959.5 528,956.5 530,951 528.5,948.5 529,945 528,944 526.5,944.5 525,942.5 521,940.5 513.5,940 511.5,937.5 512.5,935.5 511.5,934 512.5,933 510.5,929 511.5,927.5 510.5,926.5 512,923.5 512,920 513.5,918 517,919 519,917.5 521,914 525.5,914 527.5,915 532.5,920 533,917 535,915 538,914.5 542.5,916 544,914.5 546,914.5 548.5,917.5 552.5,916 555,916.5 558,914 561,914 562,912 566,912 566,910.5 567.5,910 567,908 568.5,907 568.5,905 569.5,904 568.5,893.5 570,890 570,887 567,884 564,884.5 562.5,882.5 561,883 560,882 560.5,879.5 556,880 551,874 548,874ZM555.5,1007.5 558.5,1006.5 560,1009 558.5,1009.5ZM513,966.5 514,963.5 516.5,964.5 516.5,965.5 514.5,967ZM847.5,718.5 846.5,718.5 846,720 847,721 848,720ZM872.5,406 868,405.5 862.5,411 860,412 857.5,416.5 854.5,419.5 854.5,422.5 851.5,427 851,430 843,441.5 841,447 838.5,449 830,462.5 823,470.5 819.5,472.5 817.5,479 817.5,486 815.5,488 817,492 817,496 816,497 816,501 815,502 814.5,505.5 815,514 817,520 817,524 821,529.5 823,536 827.5,539 827,540 825,540.5 827.5,542 829,542 830.5,540.5 832.5,543.5 824.5,547 823,549.5 823.5,553 819,556 820,560.5 818.5,565.5 820,567 817.5,569 816.5,575 818.5,578.5 818.5,587 820,584.5 821.5,585.5 822.5,587.5 822.5,591 824,593 822.5,597 822.5,603.5 824,609.5 823.5,611.5 827.5,612 833.5,615.5 833,617.5 835,618.5 834,621 836,621.5 837.5,620.5 838.5,622 835.5,629.5 836.5,632 839,635 846,639.5 845.5,641 848.5,640.5 850,642.5 847,648 845,649.5 845,652 844,653 843,652.5 843,654 846,654 845.5,655 843.5,655.5 843.5,657.5 845,658 844.5,664.5 846.5,667.5 846,671.5 849.5,673.5 850.5,675.5 849.5,676.5 845.5,676.5 846.5,684.5 842,688 841.5,690 836,696 839,696 840.5,697.5 840,699.5 841.5,701 837.5,701.5 837.5,707 836.5,707.5 835,706.5 833.5,709 841,712.5 843.5,715 846,715.5 847,717 846.5,717.5 849,716 850,718.5 854,717 857,717.5 857.5,717 856,715 859.5,714.5 862,716 861.5,718.5 859.5,720 863,721.5 861.5,724 858,724.5 854.5,728 851.5,725.5 849.5,725.5 846.5,728 847.5,731 844.5,735.5 842,736 845,738.5 845,741.5 843,743.5 846.5,743.5 848,741.5 851.5,743 851.5,741 854.5,738 865,738.5 867.5,735.5 871.5,736.5 873,734.5 876.5,735 876,737 877.5,739.5 881,740 884.5,738 886.5,740 887.5,739 889.5,740 892.5,738 892.5,736.5 896,733.5 897,730 901,730 902,729 904.5,729.5 907.5,726 908.5,727 908.5,729.5 911.5,731 913,733.5 914.5,734 918,738 917.5,739.5 915.5,739.5 914.5,745.5 915.5,746.5 912.5,749 913,750.5 915,750.5 916,751.5 916.5,753.5 914,756 913.5,760 911,761 910,763.5 906.5,764.5 904,768.5 898.5,768 898,769.5 896,770.5 894.5,769 896,771 894,773.5 890.5,773.5 887,776 889.5,778.5 887,780 883.5,779 883,781.5 880.5,782.5 879.5,785 876,785.5 872.5,787.5 870.5,790 865.5,789 864,787 862.5,787 858.5,789 856.5,789 855,790.5 852,789.5 851,791 844,793.5 839,793.5 835,796.5 832.5,796.5 831.5,797.5 832.5,801 830.5,803.5 828.5,801.5 828.5,798.5 827,796 824,794.5 820.5,794 812,797 808,796.5 804,793.5 797,791.5 796,790 792,790 791,791 787.5,790.5 785.5,792.5 784,791.5 781,792 777,789.5 774.5,789.5 769,792.5 767.5,792 765,789.5 765.5,789 761.5,791 761,793 757,793 754.5,794 754.5,795 756.5,795.5 756.5,797 754.5,798.5 752,798.5 751,799.5 748,799.5 747,798.5 742.5,802 738.5,804 736.5,804 731,807.5 730,810.5 734,812 734,814 733,814.5 734.5,817.5 739,822 738.5,823.5 739.5,826.5 743,830.5 745,830.5 747,832.5 747.5,836 748.5,837 753,838 755,840 759,839.5 762,844 775,847 774.5,845 777,844 779.5,848.5 781,848 784,849 783,851 783.5,852.5 781,855.5 782.5,856.5 784.5,856.5 784,856 785.5,854 790,855.5 796,852 795.5,850 798,849.5 798,845.5 800.5,846 803,849 805.5,849.5 806.5,857 811,851 813,851 814,850 818.5,850.5 819,857.5 817,860 818.5,861.5 820.5,861.5 822,859.5 824.5,859 826.5,857 828.5,857.5 828.5,856 826.5,854.5 827,851.5 828.5,851.5 829,853.5 833.5,853 835,858 836.5,855 839.5,855.5 841,854 844,854 845,853 847,845.5 846,835.5 847,834.5 848.5,835 849,834 846.5,830.5 850.5,827.5 852.5,822.5 856.5,817 854.5,816.5 853.5,815 856,813 857,810 859.5,809.5 861.5,810.5 865,807 876.5,803.5 881,803.5 883.5,804.5 886,803 889.5,806.5 894.5,806.5 901,803 903.5,806 903,808 909.5,808 927.5,802.5 935.5,793.5 939,791.5 939,777 940,775.5 940.5,769.5 943,766 945.5,764.5 948.5,764.5 952,763 956.5,757.5 961,755 964,751.5 969,750.5 972.5,747.5 979.5,745 983,745.5 988.5,744 993.5,741 1000,739 1006,735 1019.5,729.5 1021,727 1024,725 1025.5,725 1026.5,722.5 1032,717.5 1034.5,711.5 1037.5,707.5 1040.5,691.5 1043.5,686.5 1044.5,681 1047.5,677.5 1047,672.5 1048,672 1052.5,663 1055,661 1058,656.5 1059.5,652.5 1059.5,646.5 1058.5,645.5 1058.5,643.5 1055.5,641 1055,638 1057.5,637.5 1057.5,634 1059.5,631 1059,629.5 1060.5,619.5 1066.5,608 1070.5,604.5 1075,602.5 1077,599.5 1079,599 1082.5,594 1087,591 1091,577 1090.5,574.5 1092,572.5 1092.5,568.5 1098.5,557 1098.5,552.5 1103.5,544 1100.5,541.5 1095,543 1081.5,542.5 1076.5,543.5 1067.5,543.5 1064,542 1063,542.5 1061,541.5 1057,542.5 1051,541.5 1050,540.5 1048,541 1046.5,540 1044.5,541 1042,540.5 1041,541.5 1034,541.5 1020.5,543.5 1001,540 999,540.5 991,536 985.5,535 978,531 966,522 964.5,523 963,522.5 956.5,515.5 956.5,511 950.5,501 947,484.5 945.5,481.5 946,480.5 941.5,471 923,452.5 919,443 910,438 905,425 883,409ZM829,843.5 832,845.5 832,847.5 829.5,849.5 825.5,848.5 824.5,847ZM822,842.5 823,843.5 823,846 819.5,849.5 817,849.5 816,848 819,845.5 818,843 819,842.5 820,843.5ZM878,788.5 879,787.5 881.5,788 882,790.5 880.5,791.5 878,789.5ZM860.5,725 861,724.5 863,726.5 861.5,727.5ZM828,606.5 830,607.5 829,609.5 826.5,608ZM827,601 828.5,601 829.5,602.5 829.5,604.5 828.5,605.5 826.5,602ZM829.5,598 831,597.5 833,599.5 831.5,600ZM820,572.5 822,570.5 826,573.5 826.5,575.5 826,576 822.5,573.5 820.5,574.5Z"/>
<path fill="#ffff00" fill-rule="evenodd" d="M408,1323 403.5,1326 403.5,1327 400,1330 402,1333.5 399.5,1336 402,1338 401.5,1339.5 402.5,1341 402.5,1344 405,1345.5 407.5,1345.5 410,1344 416,1344 423,1338.5 421.5,1335 417,1331 419,1328.5ZM496,1291 492.5,1291 492,1292 495,1292ZM496,1277.5 494.5,1281 495,1283 499,1288.5 500.5,1287 501,1289 498.5,1292.5 502.5,1296 505,1296.5 505,1290.5 503.5,1288.5 505.5,1286.5 504,1287 503.5,1286 506.5,1283.5 505,1283.5 501,1286.5 500,1284.5 499.5,1286.5 499,1283.5 498,1283 498,1281 496.5,1280ZM497.5,1260.5 496,1262 495.5,1265.5 496.5,1265 496.5,1262ZM498,1258.5 500.5,1260 501.5,1262.5 503,1263 503,1260.5ZM466.5,1247 465,1246.5 464,1249ZM475,1223.5 475,1229.5 474,1231 473,1230 468.5,1233 469,1236 470.5,1238.5 473,1238.5 474,1239.5 474.5,1241.5 477,1244 478,1247.5 485.5,1249 490,1251 485,1246 484,1243.5 484.5,1241 481,1236.5 480.5,1233 482,1231 482,1228.5 478.5,1227.5 476.5,1224ZM570,1127.5 571.5,1130.5 570.5,1133 574.5,1138 576,1136.5 576,1134ZM402,1080 399,1083.5 397,1083.5 396,1082.5 395,1083 394.5,1087.5 391.5,1091 386.5,1091 381,1094.5 379,1101 381.5,1105.5 378,1109 378.5,1113 376,1116.5 376.5,1118.5 375,1120 370.5,1121.5 366.5,1126 365,1133 368.5,1137.5 368.5,1139 365,1142 365,1144.5 367.5,1149.5 367.5,1151.5 361,1158.5 361,1162 358,1164.5 358,1168 355,1171.5 358.5,1179.5 358.5,1182.5 360,1183.5 360,1185 357,1189.5 356.5,1194 358,1196 361,1196.5 362.5,1198.5 359.5,1202.5 359.5,1209 364.5,1210 368.5,1213 370.5,1215.5 370.5,1218.5 372,1220 372.5,1225 377.5,1227 378,1232 381.5,1236.5 380,1238.5 379.5,1244 383.5,1248 383,1250.5 384.5,1253 387.5,1253.5 389,1255 388.5,1258 389.5,1264.5 392.5,1267 395,1267 397.5,1269.5 401,1271 404,1265.5 407.5,1263.5 410.5,1265.5 411.5,1269 411,1273 419,1273.5 425,1281.5 425.5,1287.5 423,1294.5 419,1301 416.5,1301.5 413.5,1304 414.5,1305.5 413,1306.5 411.5,1310.5 412.5,1313 416.5,1316.5 419.5,1321 418.5,1323 419.5,1323 422,1326 424.5,1324.5 425,1323 427,1323 429.5,1326 433,1325 434,1325.5 431,1331.5 431,1335 428,1338 425.5,1338 425,1339.5 426.5,1341.5 426,1345 427,1346 429,1346 430,1347 430,1349 428,1350.5 429,1353 424.5,1357.5 427,1357.5 430,1360.5 440,1361 442.5,1359 444,1360 446.5,1360 448,1362 447,1364 450.5,1363.5 452,1364.5 451.5,1365.5 448.5,1366.5 447.5,1368.5 448,1371.5 453,1375.5 454,1378 458.5,1378 461,1376 463,1378.5 459.5,1379.5 463,1383 465,1387.5 468,1387.5 471,1385.5 473.5,1390 476,1392.5 478.5,1392 480.5,1397 482.5,1397.5 479.5,1392 483,1392 482.5,1391.5 485.5,1388 483,1388 481.5,1387 478,1387.5 473,1385 472.5,1383.5 470.5,1383.5 470,1382 467.5,1381 468,1380 465,1377 466,1372.5 464,1371.5 462,1372.5 459.5,1371.5 458,1372.5 456.5,1371 457,1369.5 458.5,1369 458.5,1365.5 457.5,1364.5 456,1364.5 455.5,1366 454.5,1365 455,1363 473,1360 464.5,1361 463.5,1360 463.5,1358.5 467,1353 466.5,1350 467.5,1345 471,1340.5 470.5,1337.5 472,1336 474.5,1337 477,1336.5 470.5,1330.5 470.5,1328 471.5,1326 474,1324.5 478,1325 478,1320.5 480,1317.5 482,1317.5 483,1316.5 486,1318.5 486,1316 483.5,1316 482.5,1317 480,1312.5 478.5,1312.5 473.5,1309 474,1307.5 476,1307.5 477.5,1304 480,1303 479,1301 478,1301 475.5,1304 474.5,1303 475,1298 477,1294 478,1288 467,1294 464.5,1298 462.5,1297 458,1297.5 457,1296.5 466.5,1292 468,1287 474,1280 473.5,1279 471,1278.5 470,1277.5 470,1275.5 467,1274 468,1271.5 469.5,1270.5 469,1268.5 470.5,1264.5 465.5,1260.5 463.5,1260.5 463.5,1262 461.5,1263.5 460.5,1262.5 460.5,1258.5 457,1258.5 458,1255.5 450.5,1255.5 449.5,1254.5 450.5,1252 454.5,1249.5 453,1244 451,1241.5 444.5,1242.5 443,1240.5 444.5,1238 448,1235.5 446.5,1232 447.5,1230 450,1230.5 452,1228.5 452.5,1229.5 454,1229.5 457,1231.5 456,1234 457,1235 461.5,1235 466,1231.5 466,1229 455.5,1228.5 453,1229.5 452.5,1227.5 446,1229.5 445.5,1231 443.5,1232 440,1228 439,1225.5 442.5,1222 444,1218 436,1220 433.5,1216 429.5,1215 431,1217 423,1220 424.5,1224 423,1225.5 419,1222 422,1218.5 422.5,1216.5 420.5,1216.5 417,1219 415.5,1218.5 416.5,1216.5 426.5,1212 428.5,1209.5 429.5,1210 429.5,1204.5 425.5,1201.5 424,1195 428,1192.5 428,1191 431.5,1187 431.5,1185 432.5,1184 432,1177.5 433,1173 429.5,1169.5 429.5,1159.5 431,1158 431,1154.5 432,1153 429,1151 432,1146 431,1141.5 426.5,1138 425.5,1134.5 425.5,1124.5 422.5,1122.5 421.5,1120 416.5,1119 412.5,1122.5 412,1120.5 410.5,1119.5 411,1117.5 410,1115 412,1113 412,1110.5 414,1106.5 408,1103 407.5,1099.5 409,1097.5 406,1095 408.5,1090.5 408,1087.5 406,1087.5 406,1086 404,1083.5 404,1081.5ZM555.5,1095.5 553,1092.5 554.5,1091 552.5,1082.5 552.5,1078 551,1076 549,1078 549,1081 554,1089 553.5,1090.5 549,1086 549.5,1087 548,1087.5 541.5,1082.5 542,1081.5 548,1085.5 544,1080 541.5,1081 540.5,1083.5 537,1084 534.5,1087 536,1089 543,1092 546.5,1090.5 549.5,1092.5 553,1092.5 553.5,1093 551.5,1094.5 555,1096ZM512,1061.5 511.5,1065.5 515,1069.5 518.5,1077 522,1080.5 524.5,1081 526,1079 525,1075.5 528.5,1073.5 528.5,1070.5 526,1064.5 520,1061 517.5,1062 517,1064.5ZM512,1015.5 510.5,1014.5 506,1016.5 503.5,1016.5 497,1012 492,1012.5 490,1010.5 487,1010 483.5,1013 480,1012.5 476.5,1015.5 474.5,1016 477,1018.5 476.5,1019.5 473,1018 470.5,1018 468.5,1020 468.5,1022.5 469.5,1023.5 468.5,1026.5 471.5,1029 471,1031 465,1035 461.5,1040.5 459,1039 457,1039 453.5,1044 449.5,1045.5 449,1049 442.5,1055.5 439.5,1056.5 437,1060 433.5,1062 432.5,1064.5 433.5,1064.5 434.5,1067 437,1069 438.5,1069 443,1065.5 446.5,1065.5 447,1064 456.5,1055.5 464,1052.5 466.5,1048 472,1048.5 474,1046.5 478,1047 479.5,1048 480.5,1053 483,1054.5 485,1054 486.5,1052 485.5,1049.5 486,1048 493.5,1051.5 496,1048.5 497.5,1048 499,1044.5 502,1044.5 504,1040 508.5,1039.5 508.5,1038 510,1036.5 510,1029.5 513.5,1028.5 509,1027 511,1026 510.5,1025.5 512,1022 511,1018.5ZM464.5,1000 462.5,1003.5 463.5,1004.5 465.5,1002.5ZM577.5,994.5 575,1000 579,1002 581.5,1007 584,1007 585,1006 585,1001.5 584,999.5 578.5,994.5ZM579.5,997 580.5,998.5 579,1000 578,998.5ZM511,872.5 510,874.5 512,877 510.5,878 507.5,877.5 503.5,880.5 501,889.5 502,891 501,892.5 501,895 509,900 511,899 513,899.5 507.5,904.5 507,903.5 500.5,901 498,897 496,898 500.5,901 501.5,904.5 499,906.5 496.5,912 491.5,915 487,911 485,911 485.5,912.5 483.5,915.5 482,923.5 476.5,927 476.5,929.5 475.5,930.5 472.5,930 470.5,931.5 470,935.5 471.5,939.5 470,941 467,941 465.5,942.5 468.5,946 467,948 467.5,953 462.5,954 462,955 463,956.5 460.5,959.5 455.5,959.5 454,960.5 454,964.5 456,967 453.5,970 449.5,971 451,977 449.5,980.5 450.5,983.5 450,986 457.5,996.5 463.5,996 464.5,997 464.5,999 465,998 470,996 471.5,994.5 472,991 475.5,990 479,986.5 479,981 480.5,978 483.5,977 487.5,978.5 487.5,976.5 491.5,974.5 490.5,969 494,966 498.5,969.5 505,969 505.5,970 502.5,973.5 504,981.5 508.5,985.5 510,990 512.5,992 514,995.5 518,999 519,1003.5 520.5,1005 522.5,1004.5 523.5,1005.5 523.5,1007.5 526,1011 531.5,1013.5 534.5,1017.5 540.5,1010 545,1009 547,1010.5 547,1019 544.5,1021 544,1023.5 546,1030.5 548,1027 548.5,1022.5 550,1021.5 549,1019.5 550,1015 547.5,1012 546,1007 542.5,1003 542,1000.5 537.5,998.5 538,997.5 540.5,998.5 544.5,998 546,993.5 542,992.5 535.5,994.5 532.5,994.5 531.5,993.5 532,991 531,989.5 533,984 533,981 528,978.5 526,976 527,970 524.5,967.5 521.5,967.5 516.5,970 514.5,970 510,967.5 510,963.5 512.5,960.5 515.5,960.5 518,958.5 520.5,958.5 523,954 525.5,952 526,947 524.5,947 520,943.5 515.5,942.5 513,943.5 511.5,943 508.5,939.5 509.5,937.5 506,937.5 507,936 507,931.5 505,925 508.5,923 510.5,919.5 505.5,915.5 503,915.5 502.5,914.5 504.5,912 509.5,911.5 511,913 513,913 516.5,915 518.5,912.5 517,912.5 515.5,914 513,910.5 513,909 511,908 513,905 516.5,906.5 517,908 521.5,912 526,911 527.5,912 533,911.5 535.5,913 538.5,910.5 544.5,908.5 547.5,910.5 547.5,912.5 549,914.5 554,913 555,913.5 558,911 559.5,911.5 561,909 563.5,909 564.5,907.5 566,901.5 567,900.5 566.5,895 568,888.5 567,887 563.5,886.5 558,888 557,887 551,891.5 546.5,890 545,886.5 546.5,884.5 546,882 547,881 543.5,880 544,876.5 542,874.5 541,871.5 536.5,870.5 533.5,876 534.5,877.5 533.5,880.5 537,880.5 539,882.5 537.5,889 539.5,891 541.5,891 542.5,892 542,901 541,902 538.5,901.5 537,899.5 537.5,897.5 535,894.5 529,895.5 521,895 523,894.5 521,893 521.5,891 523.5,889 525,889 528,884.5 527,882 529.5,880 532,880 532,879 527.5,875.5 525.5,871.5 523,873 522,875.5 518,874.5 515,875.5 514.5,874ZM538,1011.5 538.5,1012.5 535,1015 533.5,1015 532,1013.5 535.5,1010ZM516.5,897 516.5,899.5 515,900.5 514,898.5ZM541.5,880.5 543,881 542.5,882.5 543.5,883 543.5,884.5 540.5,883 540,882ZM522,861 516,866.5 518.5,866.5 524,870 525,865 524,862.5ZM798.5,798.5 793,799 790.5,800.5 779.5,800.5 778.5,803 773.5,803.5 771,805.5 772.5,808 771.5,810 772.5,812 771.5,813.5 771.5,816.5 769.5,819 772,823.5 773.5,823.5 776,827.5 782,831 783,830.5 786.5,831.5 788.5,833.5 790,833 791,835.5 802,826 801,823 803,821 803.5,818.5 808.5,816 811.5,812 810.5,808 807,804.5 805,803.5 803.5,804 802,801ZM955,689.5 957.5,690.5 957,689ZM880,676 879,678 879.5,679 883.5,680.5 883.5,678ZM1100,544 1098.5,544 1095.5,546 1093.5,546 1092,544.5 1067.5,545.5 1063.5,544 1063,545 1051.5,548 1049.5,548 1047.5,545.5 1046.5,545.5 1045.5,548 1043.5,548 1042,545 1039,545.5 1037,543.5 1022,545.5 1019,548 1017.5,546 1012.5,545.5 1011.5,544 1009,543.5 1005,544.5 1004,543 1002.5,543 1000,545 998,545 997,544 993,544 990.5,541 985.5,542.5 983.5,541 979.5,544.5 976,544.5 974.5,545.5 974,551 976,551.5 977.5,550 981,549 983.5,550.5 984,549.5 986,549 986.5,550 990.5,550 993.5,553 997,550.5 1000.5,550.5 1007,553.5 1008.5,552 1011,553 1013,552 1019,555 1020.5,557.5 1020.5,560 1017,562.5 1013.5,560.5 1006.5,560.5 1004.5,562 1002,562 1002.5,565 1001.5,566 998.5,565.5 996,568 992.5,569.5 989.5,567 987,567 986,568 989.5,571 988,573 989,578.5 985.5,580.5 987,584 990.5,582.5 992.5,585 984,590 983,592 984,596 982.5,598.5 980.5,598.5 979,597 980.5,594 977,592.5 976.5,589 973.5,584.5 972,585 971,590 970,591 968.5,591 966,588.5 964,589 956,586 953,587 951,586 947.5,582 945.5,581.5 943,578.5 941.5,574 937.5,570 935.5,569 933,569.5 931.5,568 931.5,566.5 928.5,568.5 926.5,567 926,564.5 925,564 920,565.5 917,569 917,571.5 915,573.5 914,573.5 910.5,569 910.5,570.5 906,573.5 904.5,573.5 902.5,571 901,571 896.5,576 897.5,577.5 896.5,578.5 893.5,579.5 892.5,579 891.5,580 892,581 889.5,584 890.5,587.5 892.5,589.5 897,589.5 899.5,594 899,596 901,597 899,598.5 900.5,601.5 898,603.5 898.5,604.5 897,608 900.5,612 898.5,612.5 895.5,610.5 891,611.5 888.5,607.5 884.5,607.5 883,606.5 879,607 876,610.5 873,611.5 872,614 873.5,615.5 873.5,619.5 871,621.5 869.5,619.5 868,619.5 869.5,623 866.5,625.5 866.5,627.5 868,629 868,631.5 870,633 869.5,639.5 871.5,642.5 871,651 873,650 874.5,651 872.5,654.5 873,658 875,659.5 875.5,663.5 874,670.5 875.5,671.5 879.5,670.5 884.5,673.5 884.5,677.5 892.5,680 894.5,681.5 898,682 900,683.5 899.5,680.5 902.5,678.5 904,680 903,684 906,685 908,687 910,687 911,684.5 915.5,685 919,684.5 920,683.5 923.5,684.5 927,684 927.5,683 929.5,682.5 930.5,684 932.5,684 935.5,681 936,682 939.5,682 942,680.5 946,681 947,680.5 946.5,679.5 948.5,678.5 950,680 950,681.5 952.5,682.5 953,685 960.5,684 964,687 965,686 966.5,689.5 969.5,691 970,689.5 973.5,690.5 977,690.5 980.5,692.5 980,695.5 978,694 976.5,695.5 976.5,701.5 973,707 973,712.5 970.5,715.5 967,717 967.5,720.5 965.5,721.5 961.5,726.5 959.5,724 957,726 956.5,727.5 959.5,728 960,729 958,731.5 956.5,731.5 956.5,732.5 958.5,733.5 958,736 955,736.5 956.5,738.5 954,740.5 950.5,741 948.5,743.5 947,743.5 942.5,749 937.5,749 936.5,750 937,752 933,755 931.5,758.5 927.5,759.5 924.5,763 925,766 922.5,769 919,770 915,769.5 909.5,775.5 909.5,778 907.5,780.5 907.5,786.5 902,789 899,792.5 900.5,795.5 904.5,797 906.5,796.5 909,799 911.5,800 912.5,799.5 915,800.5 920.5,799 923,799 924,800 926.5,799.5 928,796.5 930,796.5 933,793 936.5,791 937.5,786.5 936.5,776.5 939.5,767.5 944,763 951.5,761 953,758 957.5,755 954.5,755 954,754 955,752.5 961.5,751.5 964,749 967,748.5 969,745 971.5,745 977.5,742.5 983,743.5 986,742.5 987.5,740.5 988,742 990,741 990,739 991.5,737 992.5,737 994,739 998.5,737.5 998.5,736 1000.5,734.5 1002.5,735 1008,732 1017.5,728.5 1021,724.5 1023,724 1024,721.5 1026,720.5 1030.5,715.5 1033,710 1035.5,707 1035.5,704.5 1037.5,700.5 1037,697.5 1038.5,694.5 1038.5,691 1042,684.5 1040.5,681 1045.5,676.5 1044.5,673 1048.5,667.5 1046.5,667 1046,666 1047.5,660 1050,658 1050.5,654 1045.5,650.5 1044,647 1040,648.5 1036,653 1032,651.5 1030.5,649 1029.5,650 1025.5,649 1024,651 1023,651 1022,649 1030.5,641.5 1032,643 1034.5,642 1033,639 1037,635.5 1036.5,633 1037.5,632 1039,633.5 1039,636.5 1041,636 1042.5,637 1046,631 1049.5,628.5 1053,628 1059,621.5 1059.5,617 1064,609 1064,605.5 1066,604 1067.5,604.5 1069,603 1071,603 1075.5,598 1077.5,597.5 1081,592.5 1085,589.5 1088,581 1089,572.5 1096.5,556 1096.5,552ZM1023,653.5 1025,652.5 1026,655 1024,655.5ZM875.5,614 877,613.5 877.5,615 876,615.5ZM934,514 932,518.5 939,523 939.5,522 937.5,520 937.5,518.5 934,517ZM880,509.5 879,510 879.5,512 880.5,512ZM929,491.5 924.5,494 927,498.5 928.5,498.5 928,494 929.5,492.5ZM897.5,458.5 896.5,460.5 898,461 898.5,459ZM868.5,407.5 864.5,412 864,414 861.5,415 857.5,419.5 851,434.5 848,437.5 842.5,448.5 840,450.5 831.5,464 826.5,469 826,475 827,476 821.5,478.5 820.5,490 823,492.5 821.5,493.5 821,497.5 820,498.5 821,506 819.5,513.5 821,516 821.5,520 823,522.5 822.5,525 823.5,526.5 831.5,527.5 833.5,530.5 841,528.5 844,524.5 848,524.5 850.5,526 850.5,523.5 853,522 846,521.5 845,520.5 845.5,517 842.5,516 841,512.5 839,512.5 838,511.5 837.5,509.5 838.5,508.5 836,509 835.5,508 834.5,508.5 833.5,507.5 833,503.5 835.5,502.5 835.5,501 832.5,499 833.5,494.5 832.5,491.5 833.5,491 836.5,483 838.5,482.5 839,481.5 841,481.5 840.5,479.5 847,475 852,474 857,471 858.5,471.5 862.5,470 862.5,467.5 865,464.5 872,466.5 874.5,469.5 874,471.5 876.5,476.5 878.5,478.5 883.5,480 883,472 886.5,465.5 890.5,464 892,461 895,462 895.5,460 894,458 894.5,455.5 896,454 898,455 903.5,453.5 905,454.5 904,459.5 907.5,464.5 906.5,466 912.5,465 915.5,467 915,469.5 916,472 919.5,472.5 921,470.5 922,470.5 925,475 932.5,479 934,482.5 931.5,485 935,487.5 935,489 931.5,495.5 931.5,500.5 932.5,501.5 932,507 935,510.5 938,511 938.5,513.5 937.5,515 939,516 938.5,518 941,519.5 942.5,524 944,525.5 948,524 949,521.5 948,521 948,519 950,517 949.5,513.5 948,512 948,497 942,475.5 928.5,460.5 923.5,456 921,455.5 921,452.5 919,451.5 920,450.5 918,447 917.5,444 908.5,439.5 907.5,437 905.5,435.5 905.5,432 903.5,431.5 902.5,430 904,428.5 903.5,426.5 898,423.5 896.5,421.5 882,411 880,411.5 878,410 875.5,410.5 874,408.5 870.5,408.5ZM831,489.5 832,491 831.5,492 830,491.5Z"/>
<path fill="#e8d810" fill-rule="evenodd" d="M451,1369.5 452,1370.5 454.5,1370 454.5,1369ZM409.5,1326 408,1326 402.5,1332 404,1333.5 404.5,1342 406,1343 408,1343 410.5,1341.5 411.5,1342.5 414.5,1341.5 419,1338.5 419,1335.5 414.5,1332 415.5,1330.5 414,1328ZM430.5,1225.5 433.5,1226.5 435.5,1223.5 431.5,1223.5ZM401,1084.5 399.5,1086.5 398,1086 396,1088 395.5,1090 392,1093 388,1093.5 385.5,1097 383,1098 382,1102 383.5,1104.5 383.5,1107 380.5,1109 381,1113 378.5,1118 379.5,1121.5 378,1122.5 373,1122.5 368,1131.5 368,1134.5 370.5,1137 370.5,1139 367,1144 368.5,1146 370,1151.5 364,1159.5 363.5,1162 361,1165.5 360.5,1169.5 358,1172.5 362,1186 360,1189 359.5,1192.5 364,1196.5 364,1199 362,1201.5 362,1206 363,1208 367,1209 372,1213.5 375,1224 378.5,1224.5 380,1226 381.5,1232.5 384,1235.5 381.5,1242.5 383,1244 386,1244 387,1245 386.5,1248 388,1248.5 390,1246.5 393,1247 393.5,1251.5 396.5,1247 400.5,1245.5 401.5,1246.5 401,1252.5 397,1255 396.5,1258.5 392,1262 393.5,1262.5 397,1261.5 400.5,1256.5 406.5,1255.5 408,1257.5 408,1259.5 413.5,1265.5 413.5,1269.5 416.5,1272 420,1272.5 427,1282 427.5,1288 422,1300 419.5,1302.5 417,1303.5 416.5,1305.5 417.5,1307 416.5,1307.5 416,1309.5 417.5,1314.5 425,1321.5 427.5,1319.5 431.5,1321.5 435,1321.5 436.5,1320 438.5,1320 439.5,1321 442,1320.5 443,1322 443,1323.5 441.5,1325 435,1328.5 433,1335 430,1339.5 431,1344.5 435,1349 433.5,1351 434.5,1354 440,1356.5 442.5,1356 444,1357 448.5,1357 450.5,1358 453.5,1356.5 458.5,1357.5 460.5,1355.5 462.5,1355 462.5,1353 464.5,1352 464,1347 467.5,1341 467.5,1339.5 465.5,1337 468.5,1334.5 467.5,1333.5 468,1328 466.5,1326 468.5,1325.5 471.5,1320.5 472,1313 473.5,1311.5 472.5,1311 467,1313.5 465.5,1312.5 467,1307.5 466,1303.5 464,1301.5 460.5,1303 457.5,1306.5 456,1304.5 453.5,1307.5 453.5,1309 457,1307 458.5,1308.5 459,1316 457,1318 454,1316.5 450.5,1318 447,1316.5 446.5,1312.5 444.5,1311 444.5,1308.5 446,1306 452,1305.5 457,1301 456,1301.5 452,1299.5 449,1295 450.5,1293.5 452.5,1294 455.5,1292.5 456.5,1289.5 452,1281.5 453.5,1280.5 458.5,1283.5 461,1282 463,1283 462.5,1282.5 464.5,1280 462.5,1277 466,1270.5 465.5,1269 466.5,1268 466.5,1266 463.5,1265 460.5,1268 458,1267.5 456.5,1270 453.5,1270 453,1272.5 454.5,1274 454.5,1275.5 452,1277 447,1278 446,1276.5 446,1272.5 443.5,1267.5 445,1265.5 449.5,1264 454,1259 452.5,1258.5 449.5,1259.5 448,1261.5 443.5,1260 441,1255 442.5,1253 439,1251 439,1248 434.5,1245.5 431,1239 431.5,1236.5 433.5,1235 431,1229 428.5,1227.5 426,1228.5 423,1228 417.5,1224 416.5,1221 412,1219.5 414.5,1215 414,1214 417,1212.5 415.5,1210 422,1209.5 422.5,1207 424.5,1205.5 421,1204.5 419,1201.5 422,1199.5 421.5,1195 422.5,1193 427.5,1188.5 428.5,1186.5 429.5,1179.5 428.5,1176.5 429.5,1175.5 429.5,1172.5 426.5,1170 425.5,1167.5 426.5,1166 426.5,1160 428.5,1157.5 426,1152.5 429,1143.5 424,1139 423,1132 423.5,1129 422.5,1128.5 423,1125.5 421.5,1125.5 420,1123.5 417.5,1124 414.5,1122.5 410,1126 409,1124 406.5,1122.5 407.5,1119 407,1112 409.5,1110 409,1106.5 405,1103.5 405.5,1097 404,1094.5 405.5,1091.5 402.5,1086 400.5,1085ZM387,1234.5 388.5,1233.5 390.5,1235 389.5,1235.5ZM522.5,1066.5 521,1067.5 518.5,1072.5 519.5,1075 523,1077 523.5,1075 522.5,1073 525.5,1073 526,1072 523,1069 523.5,1067.5ZM516.5,1065.5 517.5,1066.5 517,1067 519.5,1067.5 517,1065ZM449.5,1055 441.5,1061 444.5,1059.5 444.5,1062 445.5,1062 446.5,1061 446.5,1058.5 449.5,1056ZM466.5,1041 462,1042.5 458.5,1041 455,1045.5 452,1047 453.5,1051 451.5,1053 454,1054.5 458,1053.5 464,1047 468,1046ZM480.5,1015 479.5,1016 481.5,1019.5 474,1023.5 478,1026 479.5,1028.5 483,1029 485.5,1026 488,1025.5 491.5,1022 492.5,1022.5 488.5,1036.5 490.5,1043 492.5,1044 494,1046.5 495,1046 493.5,1038.5 497,1038 499.5,1036 499,1030 500,1029 501.5,1031 502,1030 506,1028.5 504.5,1027 505.5,1024.5 508,1022 509,1018 505,1018.5 501,1020.5 497.5,1016 495.5,1016 493,1017.5 489.5,1014 487.5,1013.5 483,1015.5ZM509.5,973.5 509,974.5 510.5,977.5 508.5,977.5 507,980 507.5,981.5 512.5,986.5 512.5,988.5 516,992.5 523,993.5 523.5,993 522.5,991.5 524.5,986.5 527.5,983 524,982.5 522,981 523,975 517,973 515,973 513,974.5ZM497.5,918 493.5,921 492.5,920 490.5,921.5 487.5,919 485.5,919 485.5,924 482.5,927 481.5,930.5 482,932.5 478.5,935.5 475,936 477,938 476.5,940 471.5,945.5 472,949 470,955.5 466.5,957.5 466.5,958.5 464,960.5 464,962 461,962 459.5,963 459,970 453.5,972.5 453,976 454,978.5 452,980.5 453.5,982.5 452.5,985.5 459,993.5 463,993.5 464.5,994.5 468,994 470.5,989 476.5,984.5 476,979.5 477.5,977 481,974.5 484.5,975.5 485.5,971 489,969 489.5,966.5 492,964 498,964.5 498.5,963.5 501,963 504,966 506,966.5 507.5,965.5 507.5,961 509.5,958 511.5,956.5 515.5,955.5 518.5,951.5 523.5,948.5 521,948.5 520,946.5 517,945.5 511,946.5 506.5,942 500.5,940.5 500,939.5 503,935.5 502.5,928.5 500,926.5 498.5,923.5 500,920 499.5,919.5 498,921 497,920ZM519.5,901 519.5,906 520.5,908 521.5,908 523.5,903 528,900 530.5,900 531,901 527,904 526,907.5 526.5,908.5 528.5,907 530.5,908.5 538.5,907 539.5,903.5 535.5,903.5 531,901.5 532.5,900 529.5,897.5 527,897 523,897.5ZM565,889 561,889 556.5,894 549.5,895 545.5,898.5 544.5,902.5 546.5,904.5 549.5,910.5 555,909 556,906 557.5,906.5 559,905 561,905.5 561,904.5 557,902 560,901 559,899 565,893 566,891ZM797,802.5 785,803.5 783.5,804.5 782.5,807.5 778,809.5 778.5,814.5 777.5,818 781,819.5 780,823 785.5,828 793.5,826 799,821 799.5,819.5 798.5,814 800.5,811 802,811.5 802.5,808.5 801,806 799.5,806 797.5,804ZM991,722 988,722 986.5,721 984,721 982.5,722 980,720.5 977.5,723 978,725 976.5,726.5 972.5,726 969.5,727.5 966,727 965,730 966.5,730.5 969,733 969,734.5 971.5,736.5 975.5,733 981,734.5 988,730 991,724ZM1023,669.5 1018.5,672 1019,674.5 1017.5,676 1015,675.5 1014,674 1012.5,674.5 1012,676 1004,675.5 1004,677.5 1000.5,680 994,680 995.5,681.5 995.5,685.5 996.5,687.5 996.5,691.5 995,693 995,696 996,697.5 998.5,698.5 999,699.5 997.5,700.5 997.5,702 1000.5,704 1002,707 1001.5,710.5 1005,713.5 1006.5,717 1006.5,719.5 1008.5,720.5 1010.5,723.5 1014,723 1015,721.5 1015.5,722 1017,721 1019.5,722 1021,721 1022,718 1028,715 1033,707.5 1033.5,704.5 1035.5,701 1035,697.5 1037,693 1036.5,690.5 1038,688 1038,685 1036.5,682.5 1034,682 1033,679.5 1030.5,680 1025,675ZM953,648 950.5,651 952,653 952,655 955,655.5 956.5,650ZM950.5,601 949,602.5 949,606 947,605.5 946,603 945,604 948.5,607.5 946,608 944.5,606 939.5,605 939.5,614 937,615.5 937,616.5 940.5,620 942.5,627.5 945.5,628 946.5,629.5 946.5,631.5 944.5,634.5 947.5,636.5 951,642 953.5,640 955,641.5 954.5,643 955.5,644 958,642.5 959,643.5 958.5,645 960,646.5 961,645.5 960.5,644 963.5,640 969,641.5 969,638 975.5,638 979,635 980,635.5 981.5,633.5 983.5,633 985.5,629 984.5,628 984.5,625 982,622 981,619 979,619 979.5,620.5 977.5,621.5 976,619 972,617.5 969,617.5 967,615.5 961,615 959.5,613 961,608 958.5,607 953.5,609.5 953.5,606 955,604.5 957,605 957.5,604 955.5,603 954.5,601 952.5,602ZM957,634.5 958,635.5 957.5,637 958.5,640 955,641.5 954,640ZM939,600 939,601.5 941.5,603.5 942.5,602 942,601ZM1035.5,556.5 1033.5,558 1035,558.5ZM1084.5,547 1083.5,549 1081,549.5 1079,549 1078.5,547 1067,547 1071,552 1071.5,555 1074,558.5 1072.5,561.5 1074.5,571 1072,575 1072,578 1069,582 1071,584 1071.5,588.5 1073.5,587.5 1075,589 1077,587.5 1077,585.5 1081.5,583 1083.5,579.5 1083.5,576.5 1085,576 1087,572.5 1085.5,570 1088.5,565.5 1088,563.5 1090.5,560.5 1091.5,560.5 1091,557.5 1092,555.5 1090.5,552 1087.5,551 1086.5,550 1086.5,548ZM1085.5,551.5 1086.5,553.5 1085,554.5 1084,552.5ZM863.5,425 863.5,427.5 866.5,430 870,429.5 872.5,427.5 872.5,425.5 869,422.5 866.5,422.5 865.5,424.5 864.5,424Z"/>
<path fill="#d8b018" fill-rule="evenodd" d="M409.5,1328.5 408.5,1328.5 405,1332.5 406.5,1338 406,1339.5 408,1341 409.5,1339.5 413,1339.5 415.5,1337 415,1336.5 416,1335 413.5,1333.5 413.5,1331ZM461,1318 458.5,1322 454.5,1322 451.5,1325 450.5,1325 447.5,1321.5 444.5,1321 445,1325.5 443,1327 436.5,1329 434.5,1333 434.5,1336.5 433,1338 433,1342.5 436.5,1348 437,1352.5 443.5,1354 444.5,1353.5 450,1355.5 453,1354.5 458,1354.5 460.5,1353 460.5,1351.5 462.5,1349.5 462.5,1345.5 465,1341.5 462,1338 463,1332 462.5,1328 460.5,1325.5 462,1323.5 464,1323 464,1320.5 463,1319.5 461,1319.5ZM400,1088.5 399.5,1090.5 399,1089 397.5,1089.5 397.5,1092.5 393.5,1096.5 389.5,1096 389,1097.5 386,1099.5 385,1103 387.5,1107.5 385,1108 383.5,1110 384,1114 381,1118.5 381,1123.5 378,1125 375,1124.5 372.5,1130.5 370.5,1132.5 371,1135 373.5,1137.5 372.5,1140.5 370,1143 371.5,1151.5 365.5,1161 364,1164.5 362.5,1173 361.5,1173.5 361.5,1179.5 363.5,1183.5 362,1188.5 362,1192 364.5,1195 365.5,1198.5 364,1201.5 364.5,1205.5 370.5,1209 376.5,1218 376.5,1222 377.5,1223 378.5,1222.5 381.5,1223.5 382.5,1226 385.5,1229 391,1232 393,1234 392.5,1234.5 395,1234.5 396.5,1240 399.5,1242 401,1242 405,1247 406.5,1250 406,1250.5 410.5,1258.5 412.5,1260 417,1270.5 421,1272 428,1280.5 429.5,1283.5 429,1288.5 421.5,1302.5 418,1304.5 418,1305.5 419,1306 418.5,1308.5 419.5,1309.5 420,1314 422.5,1315.5 423,1317.5 425,1318.5 427.5,1318 433.5,1319.5 438,1316.5 440.5,1317 443,1314 443,1305 446,1302 445,1294 446,1293.5 447,1290.5 447,1285 445,1281.5 446.5,1280 444.5,1278 443.5,1273 441,1268.5 442,1266 441.5,1262.5 438.5,1256 439,1255.5 437.5,1254 435.5,1248.5 433,1246.5 431,1242.5 428.5,1240 429,1237 426,1233.5 425.5,1231.5 418.5,1227 416.5,1225 416,1223 414,1221.5 413,1222 411,1220 410.5,1215.5 413,1209 415,1207.5 415,1204.5 413.5,1201 418.5,1198 420,1192.5 424.5,1188.5 426.5,1178.5 425.5,1175.5 426,1173.5 423.5,1171 424,1169 423,1167 424,1164.5 421.5,1161.5 423,1160 424.5,1160 425,1157.5 424,1154.5 422,1154 421.5,1152 424,1151 425.5,1146.5 425,1143 422.5,1141.5 418.5,1141.5 416.5,1140 418,1137 421,1136.5 420.5,1128 418,1126.5 413.5,1126.5 411,1128.5 407,1129 406.5,1127 402.5,1124 405,1120 405,1112 407,1108.5 401.5,1103 401.5,1101.5 403,1100 403,1097.5 398.5,1096.5 400.5,1094 403,1093 403,1091.5ZM404.5,1164 406,1163.5 407,1165 405.5,1166ZM460,1044 459.5,1043.5 458.5,1044.5 458.5,1047 455,1047 454.5,1048 458,1049 460.5,1047.5 459,1046ZM488,1020 486,1019 484.5,1021ZM516,977 513,980.5 516,984.5 516.5,989 518.5,990 519.5,989.5 519.5,985.5 517,984 519,980.5 519,978.5ZM495,923.5 491.5,923.5 491,929.5 490,930.5 487.5,930.5 486,929.5 484.5,930.5 484,934 482,935.5 479.5,939 478.5,942.5 474.5,947 474.5,953 469.5,960.5 467,962 467.5,964.5 462.5,965.5 460.5,971 457,973 455.5,975 457,978 455.5,981 455.5,985 457,986 460,991.5 468,991.5 469,988.5 468.5,987 474,982.5 474,977.5 478,972.5 482,973 485,968.5 488,967.5 488,965 490.5,962.5 496.5,962.5 498.5,960.5 500.5,960.5 501.5,961.5 506,958.5 506,956.5 507.5,954.5 510.5,954.5 515.5,951 514.5,949 508.5,948 505.5,945 500,944 497,939.5 500.5,934 499,932.5ZM554,902 551.5,901.5 549.5,904.5ZM1002,688.5 1003,696.5 1005,699 1004.5,701 1008,704 1010,708.5 1014.5,711 1018,710.5 1020,712 1022.5,712 1027,709 1030.5,708 1033.5,700.5 1033,696.5 1034,696 1033.5,695 1035,693 1034,691 1031.5,689.5 1031.5,687 1030.5,687 1027.5,683.5 1024,685 1011.5,683.5 1009.5,685.5Z"/>
<path fill="#c49520" fill-rule="evenodd" d="M411,1331.5 409,1331.5 406.5,1333.5 407.5,1334.5 408,1338 409.5,1338 410.5,1336 413.5,1336 411,1334 412,1333ZM456.5,1327 454,1329 455,1329.5 454.5,1330 449,1327.5 444,1327.5 441.5,1329.5 437.5,1330.5 435.5,1338 435.5,1341.5 440,1350.5 448.5,1353.5 453,1352.5 455,1353 459.5,1351.5 462,1341.5 458,1333.5 454.5,1330.5ZM378.5,1126 377,1127 377,1129.5 373.5,1133 373.5,1134 374.5,1132.5 375,1133 374.5,1136.5 375.5,1137.5 372.5,1144.5 373.5,1150.5 366,1165 365,1169 365.5,1171 364.5,1171.5 363.5,1176 364,1181.5 365,1182.5 364,1191 367,1197 367,1204 368,1204 375.5,1212 380,1220 381.5,1220.5 389.5,1228.5 392.5,1229.5 393.5,1231.5 396,1233 398.5,1237.5 403.5,1241.5 406.5,1245.5 409.5,1252 411.5,1252.5 414.5,1260.5 418,1265.5 418.5,1268.5 429.5,1280 430.5,1282 430.5,1289 423,1303 420,1305 422.5,1313 424.5,1316 433.5,1317.5 435.5,1315.5 439,1314.5 440.5,1312.5 440.5,1307 443,1298.5 442.5,1296 445,1289.5 445,1286.5 443,1283 443.5,1280.5 442.5,1279.5 442,1274 439,1266.5 439.5,1264 434,1250 428,1243 424.5,1234.5 421.5,1231 418.5,1229.5 414.5,1224.5 410,1223 409,1221.5 409,1217.5 408,1216.5 412.5,1206 410.5,1197.5 412.5,1196 412.5,1192 413.5,1190 417.5,1186.5 421.5,1185.5 421.5,1184 420.5,1183 417.5,1183.5 417,1182 418,1180.5 415.5,1180.5 414,1181.5 413.5,1180.5 414.5,1179 409,1178.5 409.5,1180 408,1180.5 406,1176 405.5,1171.5 399.5,1163.5 398.5,1159.5 399.5,1154.5 400.5,1153.5 403,1154 406,1151 403.5,1149 401,1149 401,1146 398.5,1144.5 397,1138.5 395,1135 394.5,1129 392,1129 392,1127 393,1126 392,1124.5 392.5,1123 390,1125 386.5,1124.5 383,1126ZM395.5,1110 394,1112.5 394,1117 396,1112.5ZM509.5,950.5 505.5,950 503,947.5 499,946.5 495,941.5 493.5,941.5 491.5,939.5 489,939 485,942 481.5,942 477.5,949.5 477,954.5 472.5,962 470.5,963.5 470,966.5 467,969 465.5,969 463.5,972 459.5,974 458.5,975.5 459,979 458,984 461,987.5 460.5,988 461.5,989.5 466.5,989 466.5,987 469,984 469.5,981.5 471,980.5 475,971 481,970.5 487.5,959 488.5,958.5 496,960 498,958 501,958.5ZM1020.5,689 1017.5,691.5 1015.5,690.5 1012.5,691 1013.5,694 1012,697 1017.5,702.5 1023.5,701.5 1023.5,699.5 1027.5,696 1027.5,694Z"/>
<path fill="#a87828" fill-rule="evenodd" d="M439,1331.5 439.5,1335.5 437.5,1338 437,1340.5 439.5,1344 439.5,1346 441,1348.5 449,1351.5 451.5,1348.5 453,1348.5 454.5,1350.5 458.5,1348.5 460,1342 458,1338 452.5,1331.5 450.5,1330.5 449.5,1331 447,1329ZM380,1127.5 377,1135 378.5,1141.5 377.5,1142.5 376.5,1142 374.5,1144.5 375,1147 377.5,1148.5 377.5,1150.5 374,1154.5 373,1157 371,1158.5 367,1169.5 368,1171.5 366.5,1173 365.5,1176.5 367,1181.5 368.5,1183 368,1186 366,1187.5 366,1191 369,1196.5 368.5,1201.5 378,1211 381.5,1218.5 384,1220 384.5,1219.5 391,1227 393,1226.5 395,1228.5 395.5,1230.5 402.5,1238 405,1239 411,1244 411.5,1246 409.5,1247.5 410,1248.5 415.5,1247 419.5,1247.5 420.5,1248.5 420.5,1251.5 417.5,1256 417.5,1258 421,1262.5 420.5,1265.5 424.5,1269 424,1270.5 426.5,1275 434.5,1281.5 432,1284 432,1289.5 431,1291 435,1294 434,1300 431,1304 423.5,1304.5 427,1307 423.5,1308 424,1311 426,1313.5 425.5,1314.5 427,1315 429.5,1314 430.5,1315.5 432.5,1315.5 434.5,1313.5 437.5,1313.5 438.5,1312.5 439,1307.5 436.5,1304.5 440,1303 441.5,1295 441,1293 443,1289 441.5,1285.5 442,1284.5 438.5,1283 441.5,1281 440,1277.5 440.5,1275.5 439,1273.5 437,1267 437.5,1264.5 436.5,1263.5 436.5,1261.5 435,1260.5 435,1257.5 432.5,1251.5 424,1241 422.5,1237 423,1236 419.5,1233 415.5,1232 413.5,1232.5 412,1229 409.5,1227 405.5,1229.5 400,1224 401,1222 404,1221.5 405.5,1220 405.5,1213 407.5,1210 407,1208 410.5,1206 409,1200 408,1199.5 408,1191 409,1189 408.5,1186 404.5,1179.5 404.5,1176 402.5,1170 397,1165 394.5,1159.5 395,1156.5 397.5,1155.5 397.5,1153.5 399,1151 399,1147.5 396.5,1146.5 394.5,1147 393.5,1146 394.5,1145 395.5,1140 394.5,1138 392,1138 390.5,1130.5 389,1130 390,1128ZM391.5,1138.5 392.5,1141 391,1143 390,1143 390,1139.5ZM384.5,1135.5 385.5,1135 387.5,1138 385.5,1139ZM462,974.5 460.5,976 461.5,977.5 460,983 461.5,984.5 463,983 463.5,984.5 462.5,985.5 465,987 466,984 464,981 468.5,978 467.5,977 466,977.5ZM490.5,943 489,943 487,945 483.5,945 479.5,952 479.5,959 475,961.5 474.5,965.5 472,966 475,969 479,965 478.5,963 479.5,961.5 482,963 483,962 483,959 484,957.5 487,956 492.5,956.5 499,954 499,952.5 496,947.5 494,945.5 491.5,945Z"/>
<path fill="#96672c" fill-rule="evenodd" d="M450,1336 448.5,1337 448.5,1340.5ZM429,1262 431.5,1266.5 433.5,1266 434,1267.5 435.5,1268 434.5,1263.5ZM426,1247 426,1249 424,1252 424,1255.5 425,1257.5 429.5,1257.5 431,1254 428,1248ZM417.5,1237.5 416,1238 416,1240 418,1240ZM407,1232.5 406.5,1234.5 412,1237.5 411,1235ZM376.5,1177 374.5,1179 374.5,1184.5 370,1186.5 369.5,1191 371,1192 373.5,1198 372.5,1202.5 376.5,1204 380,1209.5 382.5,1211 385,1216 387.5,1217.5 388,1219.5 390.5,1222.5 393,1222.5 395.5,1220.5 397,1223 396.5,1227 398,1228 398.5,1226.5 397,1224.5 397.5,1221.5 395.5,1219 398,1219 400,1214.5 398,1210 395.5,1208.5 395.5,1204 393,1201 397,1198 402,1198 403,1197 401,1194 403.5,1192 403.5,1186.5 404.5,1184 401.5,1181.5 402,1177.5 401,1175 399.5,1174.5 398,1175.5 394,1174 391.5,1177 386.5,1178.5 384.5,1180.5 383.5,1180 383,1177.5 381,1176 379.5,1177ZM380.5,1159 382,1167 381.5,1170 383.5,1172 383.5,1168.5 385,1167 385,1164 383.5,1164 382.5,1162.5 383,1159ZM485,949 486,950 485.5,951.5 486.5,952 486.5,953.5 493,954 495.5,953 495.5,952 491.5,950 492.5,948.5 490.5,947Z"/>
<path fill="#82522a" fill-rule="evenodd" d="M392,1210.5 391,1212 389.5,1212 392,1217 392.5,1215 394.5,1216ZM389.5,1185 383,1186 380,1188.5 380,1190.5 379,1191.5 377,1188.5 373,1188 372.5,1190.5 374,1192 375.5,1191.5 377.5,1193 377,1195 375.5,1196 376,1200.5 380.5,1205.5 383.5,1205.5 382,1203 390.5,1197 394,1193 393,1189 390,1188Z"/>
</g>
</g>
<defs><filter id="th" x="0" y="0" width="1275" height="1650" filterUnits="userSpaceOnUse" color-interpolation-filters="sRGB"><feComponentTransfer><feFuncA type="discrete" tableValues="0 0 1 1 1"/></feComponentTransfer></filter></defs>
<g id="legend">
<rect x="162" y="255.0" width="74" height="37" fill="#006100" stroke="#6e6e6e" stroke-width="2"/>
<rect x="162" y="306.0" width="74" height="37" fill="#008000" stroke="#6e6e6e" stroke-width="2"/>
<rect x="162" y="356.0" width="74" height="37" fill="#38a300" stroke="#6e6e6e" stroke-width="2"/>
<rect x="162" y="407.0" width="74" height="37" fill="#6fc400" stroke="#6e6e6e" stroke-width="2"/>
<rect x="162" y="457.0" width="74" height="37" fill="#b2e00a" stroke="#6e6e6e" stroke-width="2"/>
<rect x="162" y="508.0" width="74" height="37" fill="#ffff00" stroke="#6e6e6e" stroke-width="2"/>
<rect x="162" y="558.0" width="74" height="37" fill="#e8d810" stroke="#6e6e6e" stroke-width="2"/>
<rect x="162" y="608.0" width="74" height="37" fill="#d8b018" stroke="#6e6e6e" stroke-width="2"/>
<rect x="162" y="659.0" width="74" height="37" fill="#c49520" stroke="#6e6e6e" stroke-width="2"/>
<rect x="162" y="709.0" width="74" height="37" fill="#a87828" stroke="#6e6e6e" stroke-width="2"/>
<rect x="413" y="205.0" width="74" height="37" fill="#96672c" stroke="#6e6e6e" stroke-width="2"/>
<rect x="413" y="255.0" width="74" height="37" fill="#82522a" stroke="#6e6e6e" stroke-width="2"/>
<rect x="413" y="306.0" width="74" height="37" fill="#82593a" stroke="#6e6e6e" stroke-width="2"/>
<rect x="413" y="356.0" width="74" height="37" fill="#7a6452" stroke="#6e6e6e" stroke-width="2"/>
<rect x="413" y="407.0" width="74" height="37" fill="#787060" stroke="#6e6e6e" stroke-width="2"/>
<rect x="413" y="457.0" width="74" height="37" fill="#787878" stroke="#6e6e6e" stroke-width="2"/>
<rect x="413" y="508.0" width="74" height="37" fill="#8c8c8c" stroke="#6e6e6e" stroke-width="2"/>
<rect x="413" y="558.0" width="74" height="37" fill="#a3a3a3" stroke="#6e6e6e" stroke-width="2"/>
<rect x="413" y="608.0" width="74" height="37" fill="#bababa" stroke="#6e6e6e" stroke-width="2"/>
<rect x="413" y="659.0" width="74" height="37" fill="#d1d1d1" stroke="#6e6e6e" stroke-width="2"/>
<rect x="413" y="709.0" width="74" height="37" fill="#e8e8e8" stroke="#6e6e6e" stroke-width="2"/>
<g filter="url(#th)">
<text x="260" y="173.8" font-size="33.3" class="t">Terrain Elevation</text>
<text x="161.5" y="236" font-size="29.2" class="t">Feet</text>
<text x="249" y="285.0" font-size="29.2" class="t">0 - 100</text>
<text x="249" y="336.0" font-size="29.2" class="t">100 - 200</text>
<text x="249" y="386.0" font-size="29.2" class="t">200 - 300</text>
<text x="249" y="437.0" font-size="29.2" class="t">300 - 400</text>
<text x="249" y="487.0" font-size="29.2" class="t">400 - 500</text>
<text x="249" y="538.0" font-size="29.2" class="t">500 - 600</text>
<text x="249" y="588.0" font-size="29.2" class="t">600 - 700</text>
<text x="249" y="638.0" font-size="29.2" class="t">700 - 800</text>
<text x="249" y="689.0" font-size="29.2" class="t">801 - 900</text>
<text x="249" y="739.0" font-size="29.2" class="t">901 - 1,000</text>
<text x="500" y="234.0" font-size="29.2" class="t">1,001 - 1,200</text>
<text x="500" y="284.0" font-size="29.2" class="t">1,200 - 1,400</text>
<text x="500" y="335.0" font-size="29.2" class="t">1,400 - 1,600</text>
<text x="500" y="385.0" font-size="29.2" class="t">1,600 - 1,800</text>
<text x="500" y="436.0" font-size="29.2" class="t">1,800 - 2,000</text>
<text x="500" y="486.0" font-size="29.2" class="t">2,000 - 2,200</text>
<text x="500" y="537.0" font-size="29.2" class="t">2,200 - 2,400</text>
<text x="500" y="587.0" font-size="29.2" class="t">2,400 - 2,600</text>
<text x="500" y="637.0" font-size="29.2" class="t">2,600 - 2,800</text>
<text x="500" y="688.0" font-size="29.2" class="t">2,800 - 3,000</text>
<text x="500" y="738.0" font-size="29.2" class="t">3,000 - 3,200</text>
</g>
</g>
</svg>
</body></html>
